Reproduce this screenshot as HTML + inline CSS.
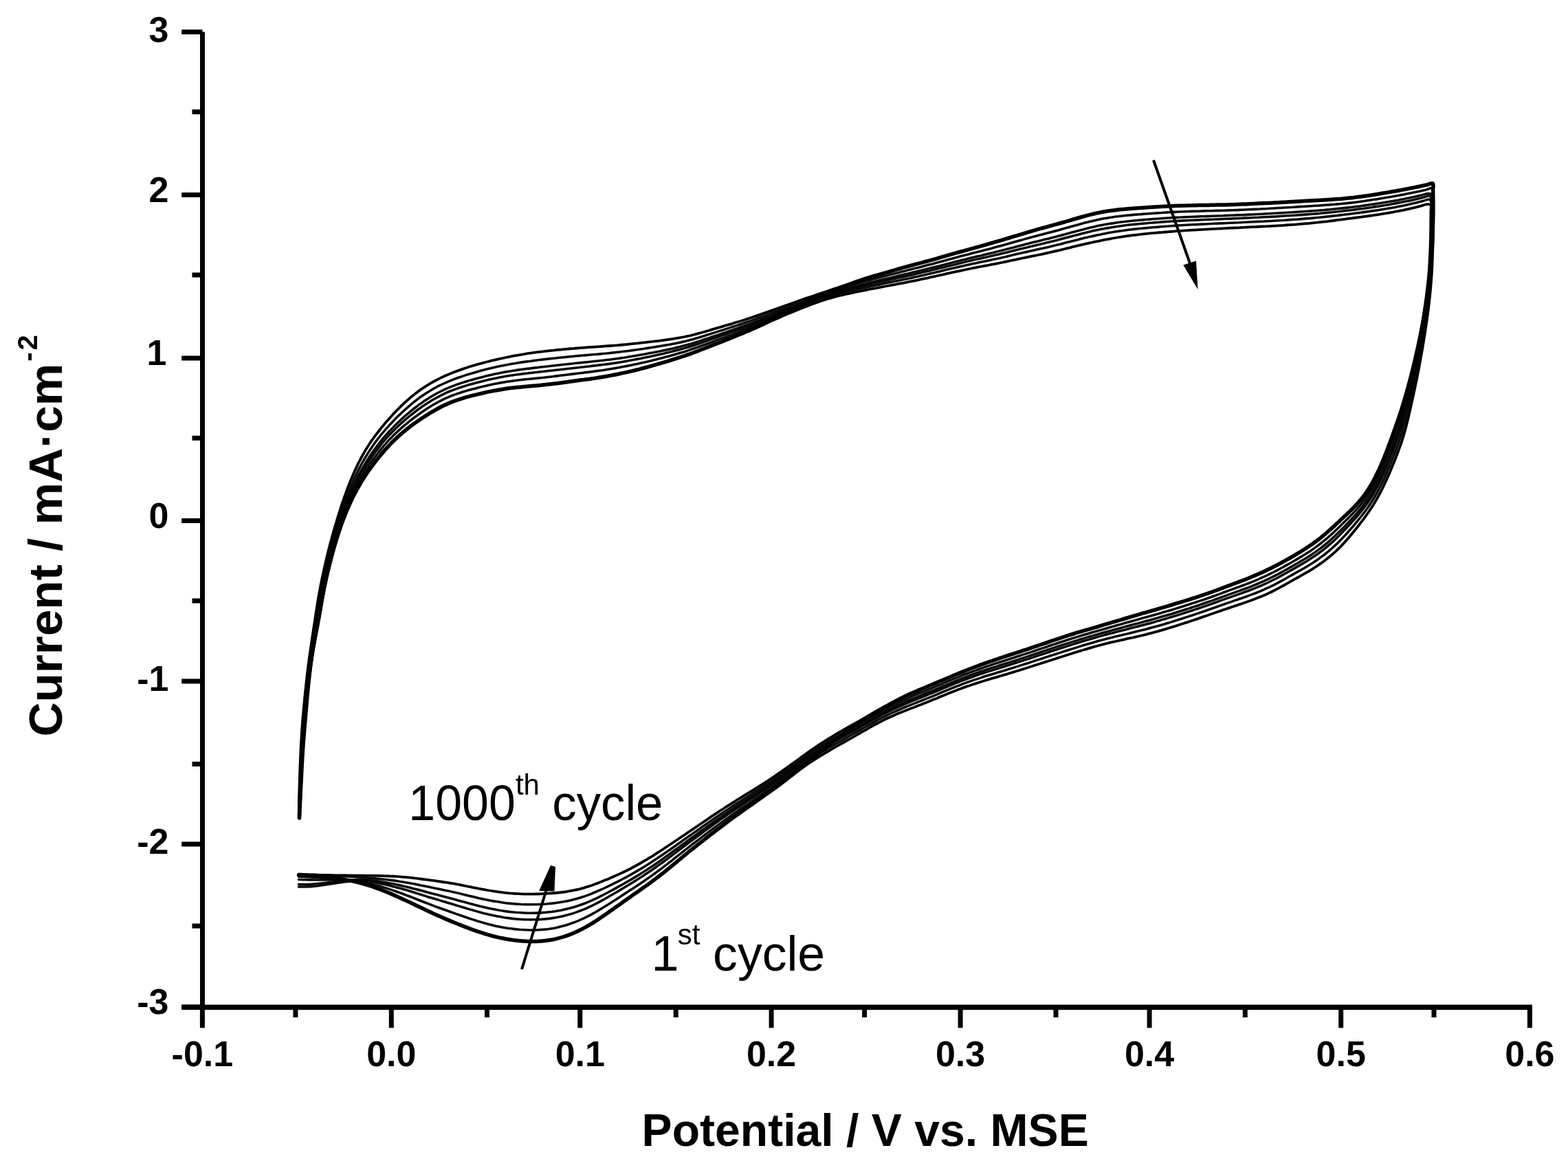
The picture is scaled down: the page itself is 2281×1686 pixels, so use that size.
<!DOCTYPE html>
<html><head><meta charset="utf-8"><title>CV curves</title>
<style>html,body{margin:0;padding:0;background:#fff;}svg{display:block;}</style>
</head><body>
<svg width="2281" height="1686" viewBox="0 0 2281 1686"><rect width="2281" height="1686" fill="#fff"/><g fill="none" stroke="#000" stroke-linejoin="round" stroke-linecap="round"><path d="M434.7,1190.0C434.7,1188.5 434.8,1184.0 434.8,1181.0C434.8,1178.0 434.8,1175.0 434.9,1172.0C434.9,1169.0 435.0,1165.9 435.0,1162.9C435.1,1159.9 435.2,1156.9 435.2,1153.9C435.3,1150.9 435.4,1147.9 435.5,1144.9C435.6,1141.9 435.7,1138.9 435.8,1135.9C435.9,1132.9 436.0,1129.9 436.1,1126.9C436.2,1123.9 436.3,1120.9 436.4,1117.9C436.5,1114.8 436.6,1111.8 436.8,1108.8C436.9,1105.8 437.0,1102.8 437.1,1099.8C437.2,1096.8 437.4,1093.8 437.5,1090.8C437.6,1087.8 437.8,1084.8 437.9,1081.8C438.1,1078.8 438.3,1075.8 438.5,1072.8C438.6,1069.8 438.8,1066.8 439.0,1063.8C439.2,1060.8 439.5,1057.8 439.7,1054.8C439.9,1051.8 440.1,1048.8 440.4,1045.8C440.6,1042.8 440.9,1039.8 441.2,1036.8C441.4,1033.8 441.7,1030.8 442.0,1027.8C442.3,1024.8 442.6,1021.8 442.9,1018.8C443.1,1015.9 443.4,1012.9 443.7,1009.9C444.0,1006.9 444.3,1003.9 444.7,1000.9C445.0,997.9 445.3,994.9 445.6,991.9C445.9,988.9 446.3,985.9 446.6,983.0C447.0,980.0 447.3,977.0 447.7,974.0C448.1,971.0 448.4,968.0 448.8,965.1C449.2,962.1 449.6,959.1 450.0,956.1C450.4,953.1 450.9,950.2 451.3,947.2C451.7,944.2 452.2,941.2 452.6,938.3C453.0,935.3 453.5,932.3 453.9,929.3C454.4,926.4 454.8,923.4 455.3,920.4C455.7,917.4 456.2,914.5 456.6,911.5C457.1,908.5 457.5,905.5 458.0,902.6C458.4,899.6 458.9,896.6 459.3,893.6C459.8,890.7 460.2,887.7 460.7,884.7C461.2,881.8 461.7,878.8 462.1,875.8C462.6,872.9 463.1,869.9 463.6,866.9C464.2,864.0 464.7,861.0 465.2,858.1C465.8,855.1 466.3,852.1 466.9,849.2C467.5,846.3 468.1,843.3 468.7,840.4C469.4,837.4 470.0,834.5 470.6,831.5C471.3,828.6 471.9,825.7 472.6,822.7C473.3,819.8 473.9,816.9 474.6,814.0C475.3,811.0 476.0,808.1 476.7,805.2C477.4,802.3 478.1,799.4 478.9,796.4C479.6,793.5 480.4,790.6 481.2,787.7C482.0,784.8 482.8,781.9 483.6,779.0C484.4,776.1 485.2,773.2 486.0,770.4C486.9,767.5 487.7,764.6 488.6,761.7C489.5,758.8 490.3,755.9 491.2,753.1C492.1,750.2 493.0,747.3 493.9,744.5C494.8,741.6 495.7,738.7 496.6,735.9C497.6,733.0 498.5,730.2 499.5,727.3C500.5,724.5 501.5,721.7 502.5,718.8C503.5,716.0 504.6,713.2 505.6,710.4C506.7,707.6 507.8,704.8 508.9,702.0C510.0,699.2 511.2,696.4 512.3,693.7C513.5,690.9 514.7,688.2 515.9,685.4C517.2,682.7 518.4,680.0 519.7,677.3C521.0,674.6 522.4,671.9 523.8,669.2C525.1,666.6 526.5,663.9 528.0,661.3C529.5,658.7 531.0,656.1 532.5,653.5C534.1,651.0 535.7,648.4 537.3,645.9C538.9,643.4 540.6,641.0 542.4,638.5C544.1,636.1 545.9,633.7 547.7,631.3C549.5,628.9 551.4,626.5 553.3,624.2C555.1,621.9 557.1,619.5 559.0,617.2C560.9,614.9 562.9,612.7 564.9,610.4C566.9,608.2 568.9,605.9 570.9,603.7C572.9,601.5 575.0,599.3 577.1,597.2C579.2,595.0 581.3,592.9 583.4,590.8C585.6,588.7 587.8,586.6 590.0,584.6C592.2,582.6 594.4,580.6 596.7,578.7C599.0,576.7 601.3,574.8 603.7,573.0C606.0,571.2 608.4,569.4 610.8,567.6C613.3,565.9 615.7,564.2 618.2,562.6C620.8,560.9 623.3,559.4 625.9,557.8C628.5,556.3 631.1,554.9 633.7,553.5C636.3,552.1 639.0,550.7 641.7,549.4C644.4,548.1 647.2,546.9 649.9,545.7C652.6,544.5 655.4,543.4 658.2,542.3C661.0,541.2 663.8,540.1 666.6,539.1C669.4,538.1 672.3,537.1 675.1,536.1C678.0,535.2 680.8,534.2 683.7,533.3C686.6,532.4 689.4,531.6 692.3,530.7C695.2,529.9 698.1,529.1 701.0,528.3C703.9,527.5 706.8,526.7 709.7,526.0C712.6,525.3 715.6,524.5 718.5,523.9C721.4,523.2 724.3,522.5 727.3,521.8C730.2,521.2 733.1,520.6 736.1,520.0C739.0,519.4 742.0,518.8 744.9,518.2C747.9,517.6 750.8,517.1 753.8,516.6C756.8,516.0 759.7,515.5 762.7,515.1C765.6,514.6 768.6,514.1 771.6,513.7C774.6,513.2 777.5,512.8 780.5,512.4C783.5,512.0 786.5,511.7 789.5,511.3C792.4,510.9 795.4,510.6 798.4,510.3C801.4,510.0 804.4,509.6 807.4,509.3C810.4,509.0 813.4,508.7 816.4,508.5C819.4,508.2 822.4,507.9 825.4,507.6C828.3,507.4 831.3,507.1 834.3,506.9C837.3,506.6 840.3,506.4 843.3,506.1C846.3,505.9 849.3,505.7 852.3,505.5C855.3,505.3 858.3,505.1 861.3,504.9C864.3,504.7 867.3,504.5 870.3,504.3C873.3,504.1 876.3,503.9 879.3,503.7C882.3,503.5 885.3,503.3 888.3,503.0C891.3,502.8 894.3,502.6 897.3,502.3C900.3,502.1 903.3,501.8 906.3,501.5C909.3,501.2 912.3,500.9 915.3,500.6C918.3,500.3 921.3,500.0 924.3,499.7C927.2,499.4 930.2,499.1 933.2,498.7C936.2,498.4 939.2,498.1 942.2,497.7C945.2,497.4 948.2,497.0 951.1,496.7C954.1,496.3 957.1,495.9 960.1,495.6C963.1,495.2 966.1,494.8 969.0,494.4C972.0,494.0 975.0,493.6 978.0,493.1C980.9,492.7 983.9,492.2 986.8,491.7C989.8,491.2 992.7,490.6 995.7,490.0C998.6,489.4 1001.5,488.7 1004.5,488.1C1007.4,487.4 1010.3,486.6 1013.2,485.9C1016.1,485.1 1019.0,484.3 1021.9,483.5C1024.8,482.7 1027.6,481.8 1030.5,481.0C1033.4,480.2 1036.3,479.3 1039.2,478.4C1042.1,477.6 1044.9,476.7 1047.8,475.9C1050.7,475.0 1053.6,474.2 1056.5,473.3C1059.4,472.5 1062.3,471.6 1065.1,470.8C1068.0,469.9 1070.9,469.0 1073.8,468.2C1076.6,467.3 1079.5,466.4 1082.4,465.5C1085.3,464.6 1088.1,463.7 1091.0,462.8C1093.8,461.8 1096.7,460.9 1099.5,459.9C1102.4,458.9 1105.2,457.9 1108.0,456.9C1110.9,455.9 1113.7,454.9 1116.5,453.9C1119.3,452.9 1122.2,451.8 1125.0,450.8C1127.8,449.8 1130.6,448.8 1133.5,447.7C1136.3,446.7 1139.1,445.7 1142.0,444.7C1144.8,443.7 1147.6,442.7 1150.5,441.7C1153.3,440.7 1156.1,439.7 1159.0,438.7C1161.8,437.8 1164.7,436.8 1167.5,435.8C1170.3,434.8 1173.2,433.8 1176.0,432.9C1178.9,431.9 1181.7,430.9 1184.6,430.0C1187.4,429.0 1190.3,428.0 1193.1,427.1C1196.0,426.1 1198.8,425.2 1201.7,424.2C1204.5,423.2 1207.4,422.3 1210.2,421.3C1213.1,420.4 1215.9,419.4 1218.8,418.5C1221.6,417.5 1224.5,416.6 1227.3,415.6C1230.2,414.7 1233.0,413.7 1235.9,412.8C1238.7,411.8 1241.6,410.9 1244.4,409.9C1247.3,409.0 1250.2,408.1 1253.0,407.1C1255.9,406.2 1258.7,405.3 1261.6,404.4C1264.5,403.5 1267.4,402.7 1270.2,401.8C1273.1,401.0 1276.0,400.1 1278.9,399.3C1281.8,398.4 1284.7,397.6 1287.6,396.8C1290.5,396.0 1293.4,395.2 1296.3,394.3C1299.1,393.5 1302.0,392.7 1304.9,391.9C1307.8,391.1 1310.7,390.3 1313.6,389.5C1316.5,388.7 1319.4,387.9 1322.3,387.1C1325.2,386.3 1328.1,385.5 1331.0,384.7C1333.9,383.9 1336.8,383.2 1339.7,382.4C1342.6,381.6 1345.5,380.8 1348.4,380.1C1351.3,379.3 1354.2,378.5 1357.1,377.7C1360.0,376.9 1362.9,376.1 1365.8,375.3C1368.7,374.4 1371.6,373.6 1374.5,372.8C1377.4,371.9 1380.3,371.1 1383.1,370.3C1386.0,369.4 1388.9,368.6 1391.8,367.8C1394.7,366.9 1397.6,366.1 1400.5,365.3C1403.4,364.5 1406.3,363.7 1409.2,362.9C1412.1,362.1 1415.0,361.3 1417.9,360.5C1420.8,359.7 1423.7,358.9 1426.6,358.1C1429.5,357.3 1432.4,356.5 1435.3,355.7C1438.2,354.9 1441.1,354.0 1443.9,353.2C1446.8,352.4 1449.7,351.5 1452.6,350.7C1455.5,349.8 1458.4,349.0 1461.3,348.1C1464.1,347.3 1467.0,346.4 1469.9,345.5C1472.8,344.6 1475.6,343.8 1478.5,342.9C1481.4,342.0 1484.3,341.2 1487.2,340.3C1490.0,339.4 1492.9,338.6 1495.8,337.7C1498.7,336.9 1501.6,336.0 1504.5,335.2C1507.4,334.4 1510.3,333.6 1513.2,332.7C1516.0,331.9 1518.9,331.1 1521.8,330.3C1524.7,329.5 1527.6,328.8 1530.5,328.0C1533.4,327.2 1536.3,326.4 1539.2,325.5C1542.1,324.7 1545.0,323.9 1547.9,323.1C1550.8,322.3 1553.7,321.4 1556.6,320.6C1559.4,319.7 1562.3,318.9 1565.2,318.0C1568.1,317.2 1571.0,316.3 1573.9,315.5C1576.7,314.7 1579.6,313.9 1582.5,313.2C1585.4,312.4 1588.3,311.7 1591.3,311.0C1594.2,310.3 1597.1,309.7 1600.1,309.1C1603.0,308.6 1605.9,308.0 1608.9,307.5C1611.9,307.1 1614.8,306.6 1617.8,306.2C1620.8,305.8 1623.8,305.5 1626.7,305.2C1629.7,304.8 1632.7,304.5 1635.7,304.3C1638.7,304.0 1641.7,303.7 1644.7,303.5C1647.7,303.3 1650.7,303.1 1653.7,302.8C1656.7,302.6 1659.7,302.4 1662.7,302.2C1665.7,302.0 1668.7,301.8 1671.7,301.6C1674.7,301.4 1677.7,301.2 1680.7,301.0C1683.7,300.8 1686.7,300.6 1689.7,300.4C1692.7,300.3 1695.7,300.1 1698.7,299.9C1701.7,299.8 1704.7,299.7 1707.7,299.5C1710.7,299.4 1713.7,299.3 1716.7,299.2C1719.7,299.1 1722.7,299.1 1725.7,299.0C1728.7,298.9 1731.7,298.8 1734.8,298.8C1737.8,298.7 1740.8,298.7 1743.8,298.6C1746.8,298.6 1749.8,298.5 1752.8,298.5C1755.8,298.4 1758.8,298.4 1761.8,298.3C1764.8,298.3 1767.8,298.2 1770.8,298.1C1773.8,298.1 1776.9,298.0 1779.9,297.9C1782.9,297.9 1785.9,297.8 1788.9,297.7C1791.9,297.6 1794.9,297.5 1797.9,297.4C1800.9,297.3 1803.9,297.2 1806.9,297.1C1809.9,297.0 1812.9,296.8 1815.9,296.7C1818.9,296.6 1821.9,296.4 1824.9,296.3C1827.9,296.1 1830.9,296.0 1833.9,295.8C1836.9,295.7 1840.0,295.5 1843.0,295.4C1846.0,295.2 1849.0,295.0 1852.0,294.9C1855.0,294.7 1858.0,294.5 1861.0,294.4C1864.0,294.2 1867.0,294.1 1870.0,293.9C1873.0,293.7 1876.0,293.6 1879.0,293.4C1882.0,293.2 1885.0,293.1 1888.0,292.9C1891.0,292.7 1894.0,292.6 1897.0,292.4C1900.0,292.3 1903.0,292.1 1906.0,291.9C1909.0,291.8 1912.0,291.6 1915.0,291.5C1918.0,291.3 1921.0,291.1 1924.0,291.0C1927.0,290.8 1930.0,290.6 1933.0,290.4C1936.0,290.2 1939.0,290.0 1942.0,289.8C1945.0,289.6 1948.0,289.4 1951.0,289.2C1954.0,288.9 1957.0,288.6 1960.0,288.3C1963.0,288.0 1966.0,287.7 1969.0,287.4C1972.0,287.0 1974.9,286.7 1977.9,286.3C1980.9,285.9 1983.9,285.5 1986.9,285.0C1989.8,284.6 1992.8,284.2 1995.8,283.7C1998.7,283.3 2001.7,282.8 2004.7,282.3C2007.7,281.8 2010.6,281.3 2013.6,280.9C2016.5,280.4 2019.5,279.8 2022.5,279.3C2025.4,278.8 2028.4,278.3 2031.4,277.8C2034.3,277.2 2037.3,276.7 2040.2,276.1C2043.2,275.6 2046.1,275.0 2049.1,274.4C2052.0,273.8 2055.0,273.2 2057.9,272.6C2060.9,272.0 2063.8,271.4 2066.8,270.8C2069.7,270.2 2072.6,269.6 2075.6,268.9C2078.5,268.3 2082.9,265.8 2084.4,267.0C2085.9,268.2 2084.6,273.0 2084.6,276.0C2084.7,279.0 2084.8,282.0 2084.9,285.0C2084.9,288.0 2085.0,291.1 2085.0,294.1C2085.1,297.1 2085.1,300.1 2085.1,303.1C2085.2,306.1 2085.2,309.1 2085.2,312.1C2085.2,315.1 2085.1,318.1 2085.1,321.1C2085.1,324.1 2085.1,327.1 2085.0,330.1C2085.0,333.2 2084.9,336.2 2084.9,339.2C2084.8,342.2 2084.8,345.2 2084.7,348.2C2084.6,351.2 2084.6,354.2 2084.5,357.2C2084.4,360.2 2084.3,363.2 2084.2,366.2C2084.1,369.2 2084.0,372.2 2083.9,375.2C2083.8,378.2 2083.7,381.3 2083.5,384.3C2083.4,387.3 2083.2,390.3 2083.1,393.3C2082.9,396.3 2082.7,399.3 2082.5,402.3C2082.3,405.3 2082.1,408.3 2081.8,411.3C2081.6,414.3 2081.4,417.3 2081.1,420.2C2080.8,423.2 2080.5,426.2 2080.2,429.2C2079.9,432.2 2079.6,435.2 2079.2,438.2C2078.9,441.2 2078.6,444.2 2078.2,447.2C2077.8,450.1 2077.5,453.1 2077.1,456.1C2076.7,459.1 2076.3,462.1 2075.8,465.0C2075.4,468.0 2075.0,471.0 2074.5,474.0C2074.1,476.9 2073.6,479.9 2073.2,482.9C2072.7,485.9 2072.2,488.8 2071.7,491.8C2071.3,494.8 2070.8,497.7 2070.3,500.7C2069.8,503.7 2069.3,506.6 2068.8,509.6C2068.3,512.6 2067.8,515.5 2067.2,518.5C2066.7,521.4 2066.2,524.4 2065.6,527.4C2065.1,530.3 2064.5,533.3 2064.0,536.2C2063.4,539.2 2062.8,542.1 2062.2,545.1C2061.7,548.0 2061.1,551.0 2060.5,553.9C2059.8,556.9 2059.2,559.8 2058.6,562.8C2058.0,565.7 2057.4,568.6 2056.7,571.6C2056.1,574.5 2055.5,577.5 2054.8,580.4C2054.2,583.3 2053.5,586.3 2052.9,589.2C2052.2,592.1 2051.6,595.1 2050.9,598.0C2050.2,600.9 2049.5,603.9 2048.9,606.8C2048.2,609.7 2047.5,612.6 2046.7,615.6C2046.0,618.5 2045.3,621.4 2044.5,624.3C2043.7,627.2 2042.9,630.1 2042.0,632.9C2041.2,635.8 2040.3,638.7 2039.4,641.5C2038.4,644.4 2037.5,647.2 2036.4,650.0C2035.4,652.9 2034.4,655.7 2033.3,658.5C2032.3,661.3 2031.2,664.1 2030.1,666.9C2029.0,669.7 2027.9,672.5 2026.7,675.3C2025.6,678.0 2024.4,680.8 2023.3,683.6C2022.1,686.4 2020.9,689.1 2019.7,691.9C2018.5,694.6 2017.3,697.4 2016.0,700.1C2014.8,702.8 2013.5,705.5 2012.2,708.2C2010.9,710.9 2009.5,713.6 2008.1,716.3C2006.7,718.9 2005.3,721.6 2003.8,724.2C2002.4,726.8 2000.8,729.4 1999.3,731.9C1997.7,734.5 1996.1,737.0 1994.5,739.5C1992.9,742.0 1991.2,744.5 1989.4,747.0C1987.7,749.4 1986.0,751.8 1984.2,754.3C1982.4,756.7 1980.6,759.0 1978.7,761.4C1976.9,763.8 1975.0,766.2 1973.2,768.5C1971.3,770.8 1969.4,773.2 1967.5,775.5C1965.6,777.8 1963.7,780.1 1961.8,782.4C1959.8,784.7 1957.9,786.9 1955.8,789.1C1953.8,791.3 1951.8,793.5 1949.7,795.7C1947.6,797.8 1945.4,799.9 1943.3,801.9C1941.1,803.9 1938.8,805.9 1936.6,807.8C1934.3,809.8 1932.0,811.7 1929.6,813.5C1927.2,815.4 1924.9,817.1 1922.4,818.9C1920.0,820.6 1917.5,822.3 1915.0,824.0C1912.5,825.6 1910.0,827.2 1907.5,828.8C1904.9,830.4 1902.3,831.9 1899.7,833.4C1897.2,834.9 1894.5,836.3 1891.9,837.8C1889.3,839.3 1886.7,840.7 1884.1,842.2C1881.5,843.7 1878.9,845.1 1876.2,846.6C1873.6,848.1 1871.0,849.5 1868.4,851.0C1865.8,852.4 1863.2,853.9 1860.6,855.3C1857.9,856.7 1855.3,858.1 1852.6,859.5C1850.0,860.8 1847.3,862.1 1844.6,863.4C1841.9,864.6 1839.1,865.8 1836.4,867.0C1833.6,868.2 1830.9,869.3 1828.1,870.3C1825.3,871.4 1822.5,872.5 1819.6,873.5C1816.8,874.5 1814.0,875.5 1811.2,876.5C1808.3,877.5 1805.5,878.4 1802.6,879.4C1799.8,880.4 1796.9,881.3 1794.1,882.3C1791.2,883.2 1788.4,884.2 1785.5,885.2C1782.7,886.1 1779.8,887.1 1777.0,888.1C1774.1,889.1 1771.3,890.0 1768.5,891.0C1765.6,892.0 1762.8,893.0 1759.9,894.0C1757.1,895.0 1754.3,896.0 1751.4,896.9C1748.6,897.9 1745.7,898.9 1742.9,899.9C1740.0,900.8 1737.2,901.8 1734.3,902.8C1731.5,903.7 1728.6,904.7 1725.8,905.6C1722.9,906.5 1720.1,907.5 1717.2,908.4C1714.3,909.3 1711.5,910.2 1708.6,911.1C1705.7,912.0 1702.8,912.9 1700.0,913.8C1697.1,914.7 1694.2,915.5 1691.3,916.4C1688.4,917.2 1685.6,918.0 1682.7,918.8C1679.8,919.7 1676.9,920.4 1674.0,921.2C1671.1,922.0 1668.1,922.7 1665.2,923.4C1662.3,924.1 1659.4,924.8 1656.5,925.5C1653.5,926.2 1650.6,926.8 1647.7,927.5C1644.7,928.1 1641.8,928.8 1638.8,929.4C1635.9,930.1 1633.0,930.7 1630.0,931.4C1627.1,932.0 1624.2,932.7 1621.2,933.4C1618.3,934.0 1615.4,934.7 1612.5,935.4C1609.5,936.1 1606.6,936.9 1603.7,937.6C1600.8,938.4 1597.9,939.2 1595.0,940.0C1592.1,940.8 1589.2,941.6 1586.3,942.4C1583.5,943.3 1580.6,944.1 1577.7,945.0C1574.8,945.9 1572.0,946.7 1569.1,947.6C1566.2,948.5 1563.3,949.4 1560.5,950.3C1557.6,951.2 1554.7,952.1 1551.9,953.0C1549.0,953.9 1546.1,954.8 1543.3,955.7C1540.4,956.6 1537.5,957.6 1534.7,958.5C1531.8,959.4 1528.9,960.3 1526.1,961.2C1523.2,962.1 1520.3,963.1 1517.5,964.0C1514.6,964.9 1511.7,965.8 1508.9,966.7C1506.0,967.7 1503.2,968.6 1500.3,969.5C1497.4,970.4 1494.6,971.3 1491.7,972.3C1488.8,973.2 1486.0,974.1 1483.1,975.0C1480.2,975.9 1477.3,976.8 1474.5,977.6C1471.6,978.5 1468.7,979.4 1465.8,980.3C1463.0,981.1 1460.1,982.0 1457.2,982.8C1454.3,983.7 1451.4,984.5 1448.5,985.4C1445.7,986.2 1442.8,987.1 1439.9,987.9C1437.0,988.8 1434.1,989.6 1431.2,990.5C1428.4,991.4 1425.5,992.3 1422.6,993.2C1419.8,994.1 1416.9,995.1 1414.1,996.0C1411.2,997.0 1408.4,997.9 1405.5,998.9C1402.7,999.9 1399.9,1000.9 1397.1,1002.0C1394.2,1003.0 1391.4,1004.1 1388.6,1005.2C1385.8,1006.3 1383.0,1007.4 1380.2,1008.5C1377.5,1009.6 1374.7,1010.8 1371.9,1011.9C1369.1,1013.1 1366.3,1014.2 1363.6,1015.4C1360.8,1016.5 1358.0,1017.7 1355.2,1018.8C1352.4,1019.9 1349.7,1021.1 1346.9,1022.2C1344.1,1023.3 1341.3,1024.4 1338.5,1025.5C1335.7,1026.5 1332.9,1027.6 1330.1,1028.7C1327.3,1029.8 1324.4,1030.8 1321.6,1031.9C1318.8,1033.0 1316.0,1034.1 1313.3,1035.2C1310.5,1036.3 1307.7,1037.4 1304.9,1038.6C1302.2,1039.8 1299.4,1041.0 1296.7,1042.2C1293.9,1043.4 1291.2,1044.7 1288.5,1046.0C1285.8,1047.3 1283.2,1048.7 1280.5,1050.1C1277.8,1051.5 1275.2,1052.9 1272.5,1054.3C1269.9,1055.7 1267.3,1057.2 1264.7,1058.7C1262.0,1060.2 1259.4,1061.7 1256.8,1063.1C1254.2,1064.6 1251.6,1066.1 1249.0,1067.6C1246.4,1069.1 1243.8,1070.6 1241.1,1072.1C1238.5,1073.6 1235.9,1075.0 1233.3,1076.5C1230.7,1078.0 1228.1,1079.5 1225.5,1081.0C1222.8,1082.5 1220.2,1083.9 1217.6,1085.4C1215.0,1086.9 1212.4,1088.4 1209.8,1089.9C1207.2,1091.5 1204.6,1093.0 1202.0,1094.5C1199.4,1096.0 1196.9,1097.6 1194.3,1099.2C1191.7,1100.7 1189.2,1102.3 1186.7,1103.9C1184.1,1105.5 1181.6,1107.2 1179.1,1108.8C1176.6,1110.5 1174.1,1112.2 1171.7,1113.9C1169.2,1115.6 1166.8,1117.4 1164.3,1119.1C1161.9,1120.9 1159.5,1122.7 1157.0,1124.5C1154.6,1126.2 1152.2,1128.0 1149.8,1129.8C1147.4,1131.6 1145.0,1133.4 1142.6,1135.2C1140.2,1137.0 1137.7,1138.8 1135.3,1140.6C1132.9,1142.3 1130.5,1144.1 1128.0,1145.9C1125.6,1147.7 1123.1,1149.4 1120.7,1151.2C1118.3,1152.9 1115.8,1154.7 1113.4,1156.4C1110.9,1158.1 1108.4,1159.9 1106.0,1161.6C1103.5,1163.3 1101.1,1165.1 1098.6,1166.8C1096.1,1168.5 1093.7,1170.3 1091.2,1172.0C1088.8,1173.7 1086.3,1175.5 1083.8,1177.2C1081.4,1178.9 1078.9,1180.7 1076.5,1182.4C1074.0,1184.1 1071.6,1185.9 1069.2,1187.7C1066.7,1189.4 1064.3,1191.2 1061.9,1193.0C1059.4,1194.7 1057.0,1196.5 1054.6,1198.3C1052.2,1200.1 1049.8,1202.0 1047.4,1203.8C1045.0,1205.6 1042.6,1207.4 1040.3,1209.3C1037.9,1211.1 1035.5,1212.9 1033.1,1214.8C1030.7,1216.6 1028.4,1218.4 1026.0,1220.3C1023.6,1222.1 1021.2,1224.0 1018.9,1225.8C1016.5,1227.7 1014.1,1229.5 1011.8,1231.4C1009.4,1233.3 1007.1,1235.2 1004.7,1237.0C1002.4,1238.9 1000.1,1240.8 997.7,1242.7C995.4,1244.6 993.1,1246.6 990.8,1248.5C988.5,1250.4 986.1,1252.3 983.8,1254.2C981.5,1256.2 979.2,1258.1 976.9,1260.0C974.6,1261.9 972.2,1263.8 969.9,1265.7C967.6,1267.6 965.2,1269.5 962.9,1271.3C960.5,1273.2 958.1,1275.1 955.8,1276.9C953.4,1278.7 951.0,1280.5 948.6,1282.3C946.1,1284.1 943.7,1285.8 941.3,1287.6C938.8,1289.3 936.4,1291.1 933.9,1292.8C931.4,1294.5 929.0,1296.2 926.5,1298.0C924.1,1299.7 921.6,1301.4 919.1,1303.1C916.7,1304.9 914.2,1306.6 911.8,1308.3C909.3,1310.1 906.8,1311.8 904.4,1313.6C901.9,1315.3 899.5,1317.1 897.1,1318.8C894.6,1320.6 892.2,1322.3 889.7,1324.0C887.3,1325.8 884.8,1327.5 882.3,1329.2C879.9,1331.0 877.4,1332.7 874.9,1334.3C872.4,1336.0 869.9,1337.7 867.4,1339.3C864.9,1340.9 862.3,1342.5 859.8,1344.1C857.2,1345.6 854.6,1347.1 852.0,1348.6C849.4,1350.0 846.7,1351.4 844.1,1352.7C841.4,1354.1 838.7,1355.3 836.0,1356.5C833.2,1357.7 830.5,1358.9 827.7,1359.9C824.9,1361.0 822.1,1362.0 819.2,1362.9C816.4,1363.8 813.5,1364.6 810.7,1365.3C807.8,1366.1 804.9,1366.7 802.0,1367.2C799.1,1367.8 796.1,1368.2 793.2,1368.5C790.2,1368.9 787.3,1369.1 784.3,1369.3C781.3,1369.5 778.3,1369.5 775.4,1369.5C772.4,1369.5 769.4,1369.5 766.4,1369.3C763.4,1369.2 760.4,1369.0 757.4,1368.8C754.4,1368.5 751.5,1368.2 748.5,1367.8C745.5,1367.4 742.6,1367.0 739.6,1366.5C736.6,1366.0 733.7,1365.5 730.8,1364.9C727.8,1364.3 724.9,1363.7 722.0,1363.0C719.1,1362.3 716.2,1361.5 713.3,1360.7C710.4,1359.9 707.5,1359.0 704.7,1358.1C701.8,1357.3 698.9,1356.3 696.1,1355.4C693.2,1354.4 690.4,1353.4 687.6,1352.4C684.8,1351.3 682.0,1350.3 679.1,1349.2C676.3,1348.2 673.5,1347.1 670.7,1346.0C667.9,1344.9 665.1,1343.8 662.4,1342.6C659.6,1341.5 656.8,1340.4 654.0,1339.2C651.2,1338.0 648.5,1336.9 645.7,1335.7C642.9,1334.5 640.2,1333.3 637.4,1332.1C634.7,1330.8 632.0,1329.6 629.2,1328.3C626.5,1327.1 623.8,1325.8 621.1,1324.5C618.3,1323.3 615.6,1322.0 612.9,1320.7C610.2,1319.4 607.5,1318.0 604.8,1316.7C602.1,1315.4 599.4,1314.1 596.6,1312.9C593.9,1311.6 591.2,1310.3 588.5,1309.0C585.8,1307.7 583.0,1306.5 580.3,1305.3C577.5,1304.0 574.8,1302.8 572.0,1301.6C569.3,1300.4 566.5,1299.3 563.7,1298.1C561.0,1297.0 558.2,1295.8 555.4,1294.8C552.6,1293.7 549.8,1292.6 547.0,1291.6C544.2,1290.6 541.3,1289.6 538.5,1288.7C535.6,1287.8 532.7,1287.0 529.9,1286.2C527.0,1285.4 524.1,1284.6 521.1,1283.9C518.2,1283.3 515.3,1282.6 512.3,1282.1C509.4,1281.5 506.4,1281.0 503.5,1280.6C500.5,1280.1 497.5,1279.7 494.5,1279.3C491.5,1279.0 488.5,1278.7 485.6,1278.3C482.6,1278.0 479.6,1277.8 476.6,1277.5C473.6,1277.3 470.6,1277.0 467.6,1276.8C464.6,1276.6 461.5,1276.4 458.5,1276.2C455.5,1276.0 452.5,1275.9 449.5,1275.7C446.5,1275.5 443.0,1275.4 440.5,1275.3C438.0,1275.1 435.5,1275.0 434.5,1275.0" stroke-width="3.8" stroke-opacity="1.0"/><path d="M435.1,1190.0C435.1,1188.5 435.2,1184.0 435.2,1181.0C435.3,1178.0 435.4,1175.0 435.4,1172.0C435.5,1169.0 435.6,1166.0 435.6,1163.0C435.7,1160.0 435.8,1157.0 435.9,1154.0C436.0,1151.0 436.1,1148.0 436.2,1145.0C436.3,1141.9 436.4,1138.9 436.5,1135.9C436.6,1132.9 436.7,1129.9 436.9,1126.9C437.0,1123.9 437.1,1120.9 437.2,1117.9C437.4,1114.9 437.5,1111.9 437.6,1108.9C437.7,1105.9 437.9,1102.9 438.0,1099.9C438.1,1096.9 438.3,1093.9 438.4,1090.9C438.6,1087.9 438.7,1084.9 438.9,1081.9C439.1,1078.9 439.3,1075.9 439.5,1072.9C439.7,1069.9 439.9,1066.9 440.1,1063.9C440.3,1060.9 440.5,1057.9 440.8,1055.0C441.0,1052.0 441.2,1049.0 441.5,1046.0C441.7,1043.0 442.0,1040.0 442.3,1037.0C442.5,1034.0 442.8,1031.0 443.1,1028.0C443.3,1025.0 443.6,1022.0 443.9,1019.0C444.2,1016.0 444.5,1013.1 444.8,1010.1C445.1,1007.1 445.4,1004.1 445.7,1001.1C446.0,998.1 446.3,995.1 446.6,992.1C446.9,989.2 447.3,986.2 447.6,983.2C447.9,980.2 448.3,977.2 448.7,974.2C449.0,971.3 449.4,968.3 449.8,965.3C450.2,962.3 450.6,959.3 451.0,956.4C451.5,953.4 451.9,950.4 452.3,947.5C452.8,944.5 453.2,941.5 453.7,938.5C454.2,935.6 454.6,932.6 455.1,929.6C455.6,926.7 456.0,923.7 456.5,920.7C457.0,917.8 457.5,914.8 458.0,911.8C458.4,908.9 458.9,905.9 459.4,902.9C459.8,900.0 460.3,897.0 460.8,894.0C461.3,891.1 461.7,888.1 462.2,885.1C462.7,882.2 463.2,879.2 463.6,876.2C464.1,873.3 464.6,870.3 465.2,867.4C465.7,864.4 466.2,861.5 466.7,858.5C467.3,855.5 467.9,852.6 468.5,849.7C469.0,846.7 469.7,843.8 470.3,840.8C470.9,837.9 471.6,835.0 472.2,832.0C472.9,829.1 473.5,826.2 474.2,823.2C474.9,820.3 475.6,817.4 476.3,814.5C477.0,811.6 477.7,808.6 478.4,805.7C479.1,802.8 479.9,799.9 480.6,797.0C481.4,794.1 482.2,791.2 483.0,788.3C483.8,785.4 484.6,782.5 485.4,779.6C486.2,776.7 487.1,773.9 488.0,771.0C488.8,768.1 489.7,765.2 490.6,762.4C491.5,759.5 492.4,756.6 493.3,753.8C494.2,750.9 495.2,748.1 496.1,745.2C497.1,742.4 498.1,739.5 499.1,736.7C500.1,733.9 501.1,731.1 502.1,728.3C503.2,725.4 504.3,722.6 505.3,719.8C506.4,717.1 507.6,714.3 508.7,711.5C509.9,708.7 511.0,706.0 512.2,703.2C513.5,700.5 514.7,697.7 515.9,695.0C517.2,692.3 518.5,689.6 519.8,686.9C521.2,684.2 522.5,681.6 523.9,678.9C525.3,676.3 526.8,673.6 528.2,671.0C529.7,668.4 531.2,665.8 532.8,663.3C534.3,660.7 535.9,658.2 537.5,655.7C539.2,653.1 540.8,650.7 542.5,648.2C544.3,645.8 546.0,643.3 547.8,640.9C549.6,638.5 551.5,636.2 553.3,633.8C555.2,631.5 557.1,629.2 559.1,626.9C561.0,624.7 563.0,622.4 565.0,620.2C567.0,617.9 569.1,615.7 571.1,613.6C573.2,611.4 575.3,609.3 577.4,607.1C579.5,605.0 581.7,602.9 583.9,600.9C586.0,598.8 588.2,596.8 590.5,594.8C592.7,592.8 595.0,590.8 597.3,588.9C599.6,587.0 601.9,585.1 604.2,583.2C606.6,581.4 609.0,579.6 611.4,577.8C613.8,576.1 616.3,574.4 618.8,572.7C621.3,571.1 623.8,569.5 626.4,568.0C628.9,566.4 631.5,565.0 634.2,563.5C636.8,562.1 639.5,560.8 642.1,559.5C644.8,558.2 647.6,556.9 650.3,555.8C653.1,554.6 655.8,553.5 658.6,552.4C661.4,551.3 664.2,550.3 667.0,549.3C669.9,548.3 672.7,547.3 675.6,546.4C678.4,545.4 681.3,544.5 684.2,543.7C687.0,542.8 689.9,542.0 692.8,541.2C695.7,540.3 698.6,539.6 701.5,538.8C704.4,538.0 707.3,537.3 710.2,536.6C713.1,535.9 716.1,535.2 719.0,534.5C721.9,533.8 724.8,533.2 727.8,532.6C730.7,532.0 733.7,531.4 736.6,530.8C739.6,530.3 742.5,529.7 745.5,529.2C748.4,528.7 751.4,528.2 754.4,527.7C757.3,527.3 760.3,526.8 763.3,526.4C766.2,526.0 769.2,525.6 772.2,525.2C775.2,524.8 778.1,524.4 781.1,524.0C784.1,523.6 787.1,523.3 790.1,522.9C793.1,522.6 796.0,522.3 799.0,521.9C802.0,521.6 805.0,521.3 808.0,521.0C811.0,520.6 814.0,520.3 817.0,520.0C819.9,519.7 822.9,519.4 825.9,519.1C828.9,518.8 831.9,518.5 834.9,518.2C837.9,517.9 840.9,517.7 843.9,517.4C846.9,517.1 849.8,516.9 852.8,516.6C855.8,516.3 858.8,516.1 861.8,515.8C864.8,515.6 867.8,515.3 870.8,515.1C873.8,514.8 876.8,514.5 879.8,514.2C882.8,514.0 885.7,513.7 888.7,513.4C891.7,513.1 894.7,512.7 897.7,512.4C900.7,512.1 903.7,511.7 906.6,511.3C909.6,511.0 912.6,510.6 915.6,510.2C918.6,509.8 921.5,509.4 924.5,509.0C927.5,508.6 930.5,508.1 933.4,507.7C936.4,507.3 939.4,506.8 942.3,506.4C945.3,505.9 948.3,505.4 951.2,505.0C954.2,504.5 957.2,504.0 960.1,503.5C963.1,503.1 966.1,502.6 969.0,502.0C972.0,501.5 974.9,501.0 977.9,500.4C980.8,499.9 983.8,499.3 986.7,498.7C989.6,498.1 992.6,497.4 995.5,496.7C998.4,496.0 1001.3,495.3 1004.2,494.5C1007.1,493.8 1010.0,492.9 1012.9,492.1C1015.7,491.3 1018.6,490.4 1021.5,489.5C1024.4,488.7 1027.2,487.8 1030.1,486.8C1032.9,485.9 1035.8,485.0 1038.7,484.1C1041.5,483.2 1044.4,482.3 1047.3,481.4C1050.1,480.5 1053.0,479.6 1055.8,478.6C1058.7,477.7 1061.6,476.8 1064.4,475.9C1067.3,475.0 1070.1,474.0 1073.0,473.1C1075.9,472.2 1078.7,471.2 1081.6,470.3C1084.4,469.3 1087.2,468.4 1090.1,467.4C1092.9,466.4 1095.7,465.4 1098.6,464.4C1101.4,463.3 1104.2,462.3 1107.0,461.3C1109.8,460.2 1112.6,459.1 1115.5,458.1C1118.3,457.0 1121.1,455.9 1123.9,454.9C1126.7,453.8 1129.5,452.7 1132.3,451.7C1135.1,450.6 1137.9,449.5 1140.7,448.5C1143.5,447.4 1146.3,446.4 1149.2,445.4C1152.0,444.3 1154.8,443.3 1157.6,442.3C1160.5,441.2 1163.3,440.2 1166.1,439.2C1168.9,438.2 1171.8,437.2 1174.6,436.2C1177.4,435.2 1180.3,434.2 1183.1,433.2C1185.9,432.2 1188.8,431.3 1191.6,430.3C1194.5,429.3 1197.3,428.3 1200.2,427.4C1203.0,426.5 1205.9,425.5 1208.7,424.6C1211.6,423.7 1214.4,422.7 1217.3,421.8C1220.2,420.9 1223.0,420.0 1225.9,419.1C1228.8,418.3 1231.6,417.4 1234.5,416.5C1237.4,415.6 1240.3,414.7 1243.1,413.9C1246.0,413.0 1248.9,412.2 1251.8,411.3C1254.7,410.5 1257.5,409.6 1260.4,408.8C1263.3,408.0 1266.2,407.2 1269.1,406.4C1272.0,405.6 1274.9,404.8 1277.8,404.1C1280.7,403.3 1283.6,402.5 1286.5,401.8C1289.4,401.0 1292.3,400.3 1295.2,399.5C1298.2,398.8 1301.1,398.0 1304.0,397.3C1306.9,396.5 1309.8,395.8 1312.7,395.0C1315.6,394.3 1318.5,393.5 1321.4,392.8C1324.3,392.1 1327.3,391.3 1330.2,390.6C1333.1,389.8 1336.0,389.1 1338.9,388.4C1341.8,387.6 1344.7,386.9 1347.6,386.1C1350.5,385.4 1353.5,384.6 1356.4,383.9C1359.3,383.1 1362.2,382.3 1365.1,381.6C1368.0,380.8 1370.9,380.0 1373.8,379.2C1376.7,378.4 1379.6,377.6 1382.5,376.8C1385.4,376.0 1388.3,375.3 1391.2,374.5C1394.1,373.7 1397.0,372.9 1399.9,372.1C1402.8,371.4 1405.7,370.6 1408.6,369.9C1411.5,369.1 1414.4,368.4 1417.3,367.6C1420.2,366.9 1423.1,366.1 1426.0,365.4C1429.0,364.6 1431.9,363.9 1434.8,363.2C1437.7,362.4 1440.6,361.6 1443.5,360.9C1446.4,360.1 1449.3,359.3 1452.2,358.5C1455.1,357.8 1458.0,357.0 1460.9,356.2C1463.8,355.4 1466.7,354.5 1469.6,353.7C1472.5,352.9 1475.3,352.1 1478.2,351.3C1481.1,350.5 1484.0,349.7 1486.9,348.9C1489.8,348.0 1492.7,347.2 1495.6,346.5C1498.5,345.7 1501.4,344.9 1504.3,344.1C1507.2,343.3 1510.1,342.6 1513.0,341.8C1515.9,341.1 1518.8,340.3 1521.7,339.5C1524.6,338.8 1527.5,338.0 1530.5,337.2C1533.4,336.5 1536.3,335.7 1539.2,334.9C1542.1,334.1 1545.0,333.3 1547.8,332.5C1550.7,331.7 1553.6,330.9 1556.5,330.1C1559.4,329.3 1562.3,328.5 1565.2,327.7C1568.1,326.8 1571.0,326.0 1573.9,325.2C1576.8,324.5 1579.7,323.7 1582.6,323.0C1585.5,322.2 1588.4,321.5 1591.3,320.9C1594.2,320.2 1597.2,319.6 1600.1,319.0C1603.0,318.4 1606.0,317.9 1608.9,317.4C1611.9,316.9 1614.9,316.4 1617.8,316.0C1620.8,315.5 1623.8,315.1 1626.7,314.8C1629.7,314.4 1632.7,314.1 1635.7,313.7C1638.7,313.4 1641.7,313.1 1644.7,312.9C1647.6,312.6 1650.6,312.3 1653.6,312.1C1656.6,311.9 1659.6,311.6 1662.6,311.4C1665.6,311.2 1668.6,310.9 1671.6,310.7C1674.6,310.5 1677.6,310.3 1680.6,310.1C1683.6,309.9 1686.6,309.6 1689.6,309.5C1692.6,309.3 1695.6,309.1 1698.6,308.9C1701.6,308.7 1704.6,308.6 1707.6,308.4C1710.6,308.3 1713.6,308.1 1716.6,308.0C1719.6,307.9 1722.6,307.8 1725.6,307.7C1728.6,307.6 1731.6,307.5 1734.6,307.4C1737.6,307.3 1740.6,307.2 1743.6,307.2C1746.6,307.1 1749.6,307.0 1752.6,306.9C1755.6,306.8 1758.6,306.8 1761.6,306.7C1764.6,306.6 1767.6,306.5 1770.6,306.4C1773.6,306.4 1776.6,306.3 1779.6,306.2C1782.6,306.1 1785.6,306.0 1788.6,305.9C1791.6,305.8 1794.6,305.7 1797.6,305.6C1800.7,305.5 1803.7,305.3 1806.7,305.2C1809.7,305.1 1812.7,305.0 1815.7,304.8C1818.7,304.7 1821.7,304.5 1824.7,304.4C1827.7,304.3 1830.7,304.1 1833.7,304.0C1836.7,303.8 1839.7,303.6 1842.7,303.5C1845.7,303.3 1848.7,303.2 1851.7,303.0C1854.7,302.8 1857.7,302.7 1860.7,302.5C1863.7,302.3 1866.7,302.2 1869.7,302.0C1872.7,301.8 1875.7,301.6 1878.7,301.5C1881.7,301.3 1884.7,301.1 1887.7,300.9C1890.7,300.8 1893.7,300.6 1896.7,300.4C1899.7,300.2 1902.7,300.0 1905.7,299.8C1908.6,299.6 1911.6,299.5 1914.6,299.3C1917.6,299.1 1920.6,298.8 1923.6,298.6C1926.6,298.4 1929.6,298.2 1932.6,298.0C1935.6,297.8 1938.6,297.5 1941.6,297.3C1944.6,297.0 1947.6,296.8 1950.6,296.5C1953.6,296.2 1956.6,295.9 1959.5,295.6C1962.5,295.3 1965.5,294.9 1968.5,294.6C1971.5,294.2 1974.5,293.8 1977.4,293.5C1980.4,293.1 1983.4,292.7 1986.4,292.2C1989.3,291.8 1992.3,291.4 1995.3,290.9C1998.2,290.5 2001.2,290.0 2004.2,289.6C2007.1,289.1 2010.1,288.6 2013.1,288.1C2016.0,287.6 2019.0,287.1 2022.0,286.6C2024.9,286.1 2027.9,285.6 2030.8,285.0C2033.8,284.5 2036.7,283.9 2039.7,283.4C2042.6,282.8 2045.6,282.2 2048.5,281.6C2051.5,281.0 2054.4,280.4 2057.4,279.8C2060.3,279.2 2063.2,278.5 2066.2,277.9C2069.1,277.2 2072.0,276.6 2074.9,275.9C2077.9,275.2 2082.2,272.7 2083.7,273.8C2085.2,275.0 2083.8,279.8 2083.9,282.9C2083.9,285.9 2084.0,288.9 2084.0,291.9C2084.1,294.9 2084.1,297.9 2084.2,300.9C2084.2,303.9 2084.2,306.9 2084.2,309.9C2084.2,312.9 2084.2,315.9 2084.2,318.9C2084.2,321.9 2084.1,324.9 2084.1,327.9C2084.1,330.9 2084.0,333.9 2084.0,336.9C2083.9,339.9 2083.9,342.9 2083.8,345.9C2083.7,348.9 2083.7,351.9 2083.6,354.9C2083.5,357.9 2083.4,360.9 2083.3,363.9C2083.2,366.9 2083.1,369.9 2083.0,372.9C2082.9,376.0 2082.7,379.0 2082.6,382.0C2082.4,385.0 2082.3,387.9 2082.1,390.9C2081.9,393.9 2081.7,396.9 2081.5,399.9C2081.3,402.9 2081.0,405.9 2080.8,408.9C2080.6,411.9 2080.3,414.9 2080.0,417.9C2079.7,420.9 2079.4,423.9 2079.1,426.9C2078.8,429.8 2078.5,432.8 2078.1,435.8C2077.8,438.8 2077.4,441.8 2077.1,444.8C2076.7,447.7 2076.3,450.7 2075.9,453.7C2075.5,456.7 2075.1,459.7 2074.7,462.6C2074.3,465.6 2073.8,468.6 2073.4,471.5C2072.9,474.5 2072.4,477.5 2072.0,480.4C2071.5,483.4 2071.0,486.4 2070.5,489.3C2070.0,492.3 2069.5,495.3 2069.0,498.2C2068.5,501.2 2068.0,504.1 2067.4,507.1C2066.9,510.0 2066.4,513.0 2065.8,516.0C2065.3,518.9 2064.7,521.9 2064.2,524.8C2063.6,527.8 2063.0,530.7 2062.4,533.7C2061.8,536.6 2061.2,539.5 2060.6,542.5C2060.0,545.4 2059.4,548.4 2058.7,551.3C2058.1,554.2 2057.4,557.2 2056.8,560.1C2056.1,563.0 2055.5,566.0 2054.8,568.9C2054.1,571.8 2053.5,574.7 2052.8,577.7C2052.1,580.6 2051.4,583.5 2050.7,586.4C2050.0,589.4 2049.3,592.3 2048.6,595.2C2047.9,598.1 2047.2,601.0 2046.4,603.9C2045.7,606.8 2044.9,609.8 2044.1,612.7C2043.4,615.6 2042.6,618.4 2041.7,621.3C2040.9,624.2 2040.1,627.1 2039.2,630.0C2038.3,632.8 2037.4,635.7 2036.4,638.5C2035.5,641.4 2034.5,644.2 2033.5,647.0C2032.5,649.9 2031.5,652.7 2030.4,655.5C2029.3,658.3 2028.3,661.1 2027.2,663.9C2026.1,666.7 2025.0,669.5 2023.8,672.3C2022.7,675.0 2021.6,677.8 2020.4,680.6C2019.2,683.3 2018.1,686.1 2016.9,688.9C2015.7,691.6 2014.4,694.3 2013.2,697.1C2011.9,699.8 2010.6,702.5 2009.3,705.2C2007.9,707.9 2006.6,710.5 2005.2,713.2C2003.8,715.8 2002.3,718.4 2000.8,721.0C1999.3,723.6 1997.8,726.2 1996.2,728.7C1994.6,731.2 1993.0,733.7 1991.3,736.2C1989.6,738.7 1987.9,741.1 1986.1,743.5C1984.3,745.9 1982.5,748.3 1980.7,750.7C1978.8,753.0 1976.9,755.3 1975.0,757.7C1973.1,760.0 1971.2,762.3 1969.3,764.5C1967.3,766.8 1965.3,769.1 1963.4,771.3C1961.4,773.6 1959.4,775.8 1957.4,778.0C1955.3,780.2 1953.3,782.4 1951.2,784.6C1949.1,786.7 1947.0,788.9 1944.9,790.9C1942.7,793.0 1940.5,795.0 1938.3,797.0C1936.1,799.0 1933.8,801.0 1931.5,802.9C1929.2,804.8 1926.8,806.6 1924.5,808.4C1922.1,810.2 1919.7,812.0 1917.2,813.7C1914.8,815.4 1912.3,817.1 1909.8,818.7C1907.3,820.3 1904.7,821.9 1902.1,823.4C1899.6,825.0 1897.0,826.5 1894.4,828.0C1891.8,829.5 1889.2,830.9 1886.6,832.4C1884.0,833.9 1881.4,835.4 1878.8,836.8C1876.2,838.3 1873.6,839.8 1870.9,841.3C1868.3,842.7 1865.7,844.2 1863.1,845.6C1860.4,847.0 1857.8,848.4 1855.2,849.8C1852.5,851.2 1849.8,852.5 1847.1,853.8C1844.4,855.1 1841.7,856.3 1839.0,857.6C1836.2,858.8 1833.5,859.9 1830.7,861.1C1827.9,862.2 1825.2,863.3 1822.4,864.4C1819.5,865.4 1816.7,866.4 1813.9,867.5C1811.1,868.5 1808.3,869.5 1805.4,870.5C1802.6,871.5 1799.7,872.4 1796.9,873.4C1794.1,874.4 1791.2,875.4 1788.4,876.4C1785.6,877.3 1782.7,878.3 1779.9,879.3C1777.1,880.3 1774.2,881.3 1771.4,882.3C1768.6,883.3 1765.7,884.3 1762.9,885.3C1760.1,886.3 1757.2,887.3 1754.4,888.3C1751.5,889.3 1748.7,890.2 1745.9,891.2C1743.0,892.2 1740.2,893.1 1737.3,894.1C1734.5,895.0 1731.6,896.0 1728.8,896.9C1725.9,897.9 1723.1,898.8 1720.2,899.7C1717.3,900.6 1714.5,901.5 1711.6,902.4C1708.7,903.3 1705.9,904.2 1703.0,905.1C1700.1,906.0 1697.2,906.8 1694.4,907.7C1691.5,908.5 1688.6,909.4 1685.7,910.2C1682.8,911.0 1679.9,911.8 1677.0,912.6C1674.1,913.4 1671.2,914.2 1668.3,914.9C1665.4,915.7 1662.5,916.4 1659.6,917.1C1656.7,917.8 1653.8,918.6 1650.8,919.3C1647.9,920.0 1645.0,920.7 1642.1,921.4C1639.2,922.0 1636.2,922.7 1633.3,923.4C1630.4,924.1 1627.5,924.8 1624.6,925.6C1621.6,926.3 1618.7,927.0 1615.8,927.7C1612.9,928.5 1610.0,929.2 1607.1,930.0C1604.2,930.7 1601.3,931.5 1598.4,932.3C1595.5,933.1 1592.6,933.9 1589.7,934.8C1586.8,935.6 1583.9,936.4 1581.1,937.3C1578.2,938.2 1575.3,939.0 1572.4,939.9C1569.6,940.8 1566.7,941.7 1563.8,942.6C1561.0,943.5 1558.1,944.4 1555.2,945.3C1552.4,946.2 1549.5,947.1 1546.6,948.0C1543.8,948.9 1540.9,949.8 1538.1,950.7C1535.2,951.6 1532.3,952.6 1529.5,953.5C1526.6,954.4 1523.8,955.3 1520.9,956.3C1518.1,957.2 1515.2,958.1 1512.3,959.1C1509.5,960.0 1506.6,960.9 1503.8,961.9C1500.9,962.8 1498.1,963.7 1495.2,964.7C1492.3,965.6 1489.5,966.5 1486.6,967.4C1483.8,968.3 1480.9,969.2 1478.0,970.1C1475.2,971.0 1472.3,971.9 1469.4,972.8C1466.6,973.7 1463.7,974.6 1460.8,975.4C1457.9,976.3 1455.1,977.2 1452.2,978.0C1449.3,978.9 1446.4,979.8 1443.6,980.7C1440.7,981.5 1437.8,982.4 1434.9,983.3C1432.1,984.2 1429.2,985.1 1426.4,986.1C1423.5,987.0 1420.7,987.9 1417.8,988.9C1415.0,989.9 1412.1,990.8 1409.3,991.8C1406.5,992.8 1403.7,993.9 1400.8,994.9C1398.0,996.0 1395.2,997.0 1392.4,998.1C1389.6,999.2 1386.8,1000.3 1384.0,1001.4C1381.3,1002.6 1378.5,1003.7 1375.7,1004.8C1372.9,1006.0 1370.2,1007.2 1367.4,1008.3C1364.6,1009.5 1361.9,1010.6 1359.1,1011.8C1356.3,1012.9 1353.5,1014.0 1350.7,1015.2C1348.0,1016.3 1345.2,1017.4 1342.4,1018.5C1339.6,1019.6 1336.8,1020.7 1334.0,1021.8C1331.2,1022.9 1328.4,1024.0 1325.6,1025.1C1322.8,1026.2 1320.1,1027.3 1317.3,1028.5C1314.5,1029.6 1311.7,1030.8 1309.0,1032.0C1306.2,1033.2 1303.5,1034.4 1300.8,1035.6C1298.0,1036.9 1295.3,1038.2 1292.6,1039.5C1290.0,1040.8 1287.3,1042.2 1284.6,1043.5C1281.9,1044.9 1279.3,1046.3 1276.7,1047.7C1274.0,1049.2 1271.4,1050.6 1268.8,1052.1C1266.1,1053.5 1263.5,1055.0 1260.9,1056.5C1258.3,1058.0 1255.7,1059.4 1253.1,1060.9C1250.5,1062.4 1247.8,1063.9 1245.2,1065.4C1242.6,1066.8 1240.0,1068.3 1237.4,1069.8C1234.8,1071.3 1232.1,1072.8 1229.5,1074.2C1226.9,1075.7 1224.3,1077.2 1221.7,1078.7C1219.1,1080.2 1216.5,1081.7 1213.9,1083.2C1211.3,1084.7 1208.7,1086.2 1206.1,1087.8C1203.5,1089.3 1201.0,1090.8 1198.4,1092.4C1195.8,1093.9 1193.3,1095.5 1190.7,1097.1C1188.2,1098.7 1185.7,1100.4 1183.2,1102.0C1180.7,1103.7 1178.2,1105.3 1175.7,1107.0C1173.3,1108.7 1170.8,1110.5 1168.4,1112.2C1165.9,1114.0 1163.5,1115.7 1161.1,1117.5C1158.7,1119.3 1156.3,1121.1 1153.8,1122.9C1151.4,1124.6 1149.0,1126.4 1146.6,1128.2C1144.2,1130.0 1141.8,1131.8 1139.3,1133.5C1136.9,1135.3 1134.5,1137.1 1132.0,1138.8C1129.6,1140.6 1127.2,1142.3 1124.7,1144.1C1122.3,1145.8 1119.8,1147.6 1117.3,1149.3C1114.9,1151.0 1112.4,1152.7 1110.0,1154.4C1107.5,1156.2 1105.0,1157.9 1102.5,1159.6C1100.1,1161.3 1097.6,1163.0 1095.1,1164.7C1092.6,1166.3 1090.1,1168.0 1087.7,1169.7C1085.2,1171.4 1082.7,1173.1 1080.2,1174.8C1077.7,1176.5 1075.3,1178.2 1072.8,1179.9C1070.3,1181.6 1067.9,1183.4 1065.4,1185.1C1063.0,1186.8 1060.5,1188.6 1058.1,1190.3C1055.6,1192.1 1053.2,1193.8 1050.8,1195.6C1048.3,1197.4 1045.9,1199.2 1043.5,1200.9C1041.1,1202.7 1038.7,1204.5 1036.3,1206.3C1033.9,1208.1 1031.5,1209.9 1029.1,1211.7C1026.7,1213.5 1024.3,1215.3 1021.9,1217.1C1019.5,1218.9 1017.1,1220.7 1014.7,1222.6C1012.3,1224.4 1009.9,1226.2 1007.5,1228.0C1005.1,1229.9 1002.8,1231.7 1000.4,1233.6C998.0,1235.4 995.7,1237.3 993.3,1239.1C991.0,1241.0 988.6,1242.9 986.2,1244.7C983.9,1246.6 981.5,1248.4 979.2,1250.3C976.8,1252.2 974.5,1254.0 972.1,1255.9C969.7,1257.7 967.3,1259.6 965.0,1261.4C962.6,1263.2 960.2,1265.0 957.8,1266.8C955.4,1268.6 952.9,1270.3 950.5,1272.1C948.1,1273.8 945.6,1275.6 943.1,1277.3C940.7,1279.0 938.2,1280.7 935.7,1282.4C933.2,1284.1 930.7,1285.7 928.2,1287.4C925.7,1289.1 923.2,1290.7 920.7,1292.4C918.2,1294.0 915.7,1295.7 913.2,1297.3C910.7,1299.0 908.1,1300.6 905.6,1302.2C903.1,1303.9 900.6,1305.5 898.1,1307.2C895.5,1308.8 893.0,1310.4 890.5,1312.0C888.0,1313.6 885.4,1315.3 882.9,1316.9C880.3,1318.4 877.8,1320.0 875.2,1321.6C872.7,1323.1 870.1,1324.7 867.5,1326.2C864.9,1327.7 862.3,1329.1 859.7,1330.6C857.0,1332.0 854.4,1333.3 851.7,1334.6C849.0,1336.0 846.3,1337.2 843.5,1338.4C840.8,1339.6 838.0,1340.7 835.3,1341.8C832.5,1342.8 829.7,1343.8 826.8,1344.7C824.0,1345.7 821.1,1346.5 818.2,1347.3C815.4,1348.1 812.5,1348.8 809.6,1349.4C806.7,1350.0 803.7,1350.6 800.8,1351.0C797.9,1351.5 794.9,1351.9 791.9,1352.1C789.0,1352.4 786.0,1352.6 783.0,1352.8C780.0,1352.9 777.1,1353.0 774.1,1353.0C771.1,1353.0 768.1,1352.9 765.1,1352.8C762.1,1352.7 759.1,1352.5 756.1,1352.3C753.2,1352.0 750.2,1351.7 747.2,1351.4C744.2,1351.0 741.3,1350.6 738.3,1350.2C735.4,1349.7 732.4,1349.2 729.5,1348.7C726.5,1348.1 723.6,1347.5 720.7,1346.9C717.7,1346.2 714.8,1345.5 711.9,1344.8C709.0,1344.0 706.1,1343.2 703.2,1342.4C700.4,1341.6 697.5,1340.7 694.6,1339.9C691.7,1339.0 688.9,1338.0 686.0,1337.1C683.2,1336.2 680.3,1335.2 677.5,1334.3C674.6,1333.3 671.8,1332.3 669.0,1331.3C666.1,1330.4 663.3,1329.4 660.5,1328.4C657.6,1327.4 654.8,1326.4 652.0,1325.3C649.1,1324.3 646.3,1323.3 643.5,1322.3C640.7,1321.3 637.8,1320.2 635.0,1319.2C632.2,1318.1 629.4,1317.1 626.6,1316.0C623.8,1314.9 621.0,1313.9 618.2,1312.8C615.4,1311.7 612.6,1310.6 609.8,1309.5C607.0,1308.4 604.2,1307.3 601.4,1306.2C598.6,1305.1 595.8,1304.0 593.0,1303.0C590.2,1301.9 587.4,1300.9 584.6,1299.8C581.7,1298.8 578.9,1297.8 576.1,1296.8C573.3,1295.8 570.4,1294.9 567.6,1293.9C564.7,1293.0 561.9,1292.1 559.0,1291.2C556.1,1290.3 553.3,1289.4 550.4,1288.6C547.5,1287.8 544.6,1287.0 541.7,1286.2C538.8,1285.5 535.9,1284.8 533.0,1284.3C530.1,1283.7 527.1,1283.2 524.2,1282.7C521.2,1282.3 518.3,1281.9 515.3,1281.6C512.4,1281.2 509.4,1281.0 506.4,1280.8C503.4,1280.6 500.5,1280.5 497.5,1280.3C494.5,1280.2 491.5,1280.2 488.5,1280.1C485.5,1280.1 482.5,1280.0 479.5,1280.0C476.5,1280.0 473.5,1280.0 470.5,1280.0C467.5,1280.0 464.5,1280.0 461.5,1280.0C458.5,1280.0 455.5,1280.0 452.5,1279.9C449.5,1279.9 446.5,1279.8 443.5,1279.8C440.5,1279.7 436.0,1279.5 434.5,1279.5" stroke-width="3.6" stroke-opacity="0.95"/><path d="M435.4,1190.0C435.4,1188.5 435.6,1184.0 435.6,1181.0C435.7,1178.0 435.8,1175.0 435.9,1172.0C436.0,1169.0 436.1,1165.9 436.2,1162.9C436.3,1159.9 436.4,1156.9 436.5,1153.9C436.6,1150.9 436.7,1147.9 436.8,1144.9C437.0,1141.9 437.1,1138.9 437.2,1135.9C437.3,1132.9 437.5,1129.9 437.6,1126.9C437.7,1123.9 437.9,1120.9 438.0,1117.9C438.1,1114.9 438.3,1111.9 438.4,1108.8C438.5,1105.8 438.7,1102.8 438.8,1099.8C439.0,1096.8 439.1,1093.8 439.3,1090.8C439.5,1087.8 439.6,1084.8 439.8,1081.8C440.0,1078.8 440.2,1075.8 440.4,1072.8C440.6,1069.8 440.8,1066.8 441.1,1063.8C441.3,1060.8 441.5,1057.8 441.8,1054.8C442.0,1051.8 442.3,1048.8 442.5,1045.8C442.8,1042.8 443.0,1039.8 443.3,1036.8C443.5,1033.8 443.8,1030.8 444.1,1027.9C444.3,1024.9 444.6,1021.9 444.9,1018.9C445.2,1015.9 445.5,1012.9 445.7,1009.9C446.0,1006.9 446.3,1003.9 446.6,1000.9C446.9,997.9 447.2,994.9 447.6,991.9C447.9,988.9 448.2,985.9 448.6,983.0C448.9,980.0 449.3,977.0 449.6,974.0C450.0,971.0 450.4,968.0 450.8,965.1C451.2,962.1 451.6,959.1 452.0,956.1C452.4,953.1 452.9,950.2 453.3,947.2C453.8,944.2 454.3,941.3 454.8,938.3C455.2,935.3 455.7,932.4 456.2,929.4C456.7,926.4 457.2,923.5 457.7,920.5C458.2,917.5 458.8,914.6 459.3,911.6C459.8,908.6 460.3,905.7 460.7,902.7C461.2,899.7 461.7,896.8 462.2,893.8C462.7,890.8 463.2,887.9 463.7,884.9C464.1,881.9 464.6,879.0 465.1,876.0C465.6,873.0 466.1,870.1 466.6,867.1C467.2,864.1 467.7,861.2 468.3,858.2C468.8,855.3 469.4,852.3 470.0,849.4C470.6,846.4 471.2,843.5 471.9,840.6C472.5,837.6 473.1,834.7 473.8,831.8C474.5,828.8 475.2,825.9 475.8,823.0C476.5,820.0 477.2,817.1 478.0,814.2C478.7,811.3 479.4,808.4 480.1,805.4C480.9,802.5 481.6,799.6 482.4,796.7C483.2,793.8 484.0,790.9 484.8,788.0C485.6,785.1 486.5,782.2 487.3,779.4C488.2,776.5 489.0,773.6 489.9,770.7C490.8,767.9 491.7,765.0 492.7,762.1C493.6,759.3 494.5,756.4 495.5,753.6C496.5,750.7 497.5,747.9 498.5,745.1C499.5,742.2 500.5,739.4 501.6,736.6C502.6,733.8 503.7,731.0 504.8,728.2C505.9,725.4 507.1,722.6 508.3,719.9C509.4,717.1 510.6,714.3 511.9,711.6C513.1,708.9 514.4,706.1 515.7,703.4C516.9,700.7 518.3,698.0 519.6,695.4C521.0,692.7 522.4,690.0 523.8,687.4C525.3,684.8 526.7,682.1 528.2,679.5C529.7,677.0 531.3,674.4 532.8,671.8C534.4,669.3 536.0,666.7 537.7,664.2C539.3,661.7 541.0,659.2 542.7,656.8C544.4,654.3 546.2,651.9 548.0,649.5C549.8,647.1 551.6,644.7 553.5,642.4C555.4,640.0 557.3,637.7 559.2,635.5C561.2,633.2 563.2,630.9 565.2,628.7C567.2,626.5 569.3,624.3 571.4,622.2C573.5,620.0 575.6,617.9 577.7,615.8C579.9,613.7 582.1,611.7 584.3,609.6C586.5,607.6 588.7,605.6 591.0,603.6C593.3,601.7 595.6,599.8 597.9,597.9C600.2,596.0 602.6,594.1 605.0,592.3C607.3,590.4 609.7,588.7 612.2,586.9C614.6,585.2 617.1,583.5 619.6,581.8C622.1,580.2 624.6,578.5 627.2,577.0C629.7,575.5 632.3,574.0 634.9,572.5C637.6,571.1 640.2,569.8 642.9,568.5C645.6,567.2 648.3,565.9 651.1,564.7C653.8,563.6 656.6,562.5 659.4,561.4C662.2,560.3 665.0,559.3 667.9,558.3C670.7,557.4 673.6,556.4 676.4,555.5C679.3,554.6 682.2,553.8 685.1,552.9C687.9,552.1 690.8,551.3 693.7,550.5C696.6,549.7 699.6,549.0 702.5,548.3C705.4,547.5 708.3,546.8 711.2,546.1C714.2,545.4 717.1,544.8 720.0,544.1C723.0,543.5 725.9,542.9 728.9,542.3C731.8,541.7 734.8,541.2 737.7,540.7C740.7,540.2 743.6,539.7 746.6,539.2C749.6,538.7 752.5,538.3 755.5,537.9C758.5,537.5 761.5,537.1 764.5,536.7C767.4,536.3 770.4,536.0 773.4,535.6C776.4,535.2 779.4,534.9 782.4,534.6C785.4,534.2 788.4,533.9 791.3,533.5C794.3,533.2 797.3,532.9 800.3,532.5C803.3,532.2 806.3,531.8 809.3,531.5C812.3,531.2 815.3,530.8 818.2,530.5C821.2,530.2 824.2,529.8 827.2,529.5C830.2,529.2 833.2,528.9 836.2,528.5C839.2,528.2 842.2,527.9 845.2,527.6C848.2,527.3 851.1,527.0 854.1,526.7C857.1,526.4 860.1,526.1 863.1,525.8C866.1,525.5 869.1,525.1 872.1,524.8C875.1,524.5 878.1,524.2 881.0,523.8C884.0,523.4 887.0,523.1 890.0,522.7C893.0,522.3 896.0,521.9 898.9,521.5C901.9,521.1 904.9,520.6 907.9,520.2C910.8,519.7 913.8,519.3 916.8,518.8C919.7,518.3 922.7,517.8 925.7,517.3C928.6,516.8 931.6,516.3 934.6,515.7C937.5,515.2 940.5,514.6 943.4,514.1C946.4,513.5 949.3,513.0 952.3,512.4C955.2,511.8 958.2,511.2 961.1,510.7C964.1,510.1 967.0,509.5 970.0,508.8C972.9,508.2 975.8,507.6 978.8,506.9C981.7,506.2 984.6,505.6 987.5,504.8C990.5,504.1 993.4,503.4 996.3,502.6C999.2,501.8 1002.1,501.0 1004.9,500.2C1007.8,499.3 1010.7,498.4 1013.6,497.5C1016.4,496.6 1019.3,495.7 1022.1,494.7C1025.0,493.8 1027.8,492.8 1030.7,491.9C1033.5,490.9 1036.4,489.9 1039.2,489.0C1042.1,488.0 1044.9,487.0 1047.8,486.1C1050.6,485.1 1053.5,484.1 1056.3,483.2C1059.1,482.2 1062.0,481.2 1064.8,480.2C1067.7,479.3 1070.5,478.3 1073.4,477.3C1076.2,476.3 1079.0,475.3 1081.9,474.3C1084.7,473.3 1087.5,472.2 1090.3,471.2C1093.2,470.2 1096.0,469.1 1098.8,468.0C1101.6,467.0 1104.4,465.9 1107.2,464.8C1110.0,463.7 1112.8,462.6 1115.6,461.5C1118.4,460.4 1121.2,459.3 1124.0,458.1C1126.8,457.0 1129.6,455.9 1132.4,454.8C1135.2,453.7 1138.0,452.6 1140.8,451.5C1143.6,450.4 1146.4,449.3 1149.2,448.2C1152.0,447.2 1154.8,446.1 1157.6,445.1C1160.4,444.0 1163.2,443.0 1166.1,441.9C1168.9,440.9 1171.7,439.8 1174.5,438.8C1177.4,437.8 1180.2,436.8 1183.0,435.8C1185.9,434.8 1188.7,433.8 1191.5,432.8C1194.4,431.8 1197.2,430.8 1200.1,429.9C1202.9,429.0 1205.8,428.0 1208.6,427.1C1211.5,426.2 1214.4,425.4 1217.3,424.5C1220.1,423.6 1223.0,422.8 1225.9,422.0C1228.8,421.1 1231.7,420.3 1234.6,419.5C1237.5,418.7 1240.4,417.9 1243.3,417.1C1246.2,416.3 1249.1,415.5 1252.0,414.8C1254.9,414.0 1257.8,413.2 1260.7,412.5C1263.6,411.7 1266.6,411.0 1269.5,410.2C1272.4,409.5 1275.3,408.8 1278.2,408.1C1281.2,407.4 1284.1,406.7 1287.0,406.0C1289.9,405.3 1292.9,404.6 1295.8,403.9C1298.7,403.2 1301.6,402.5 1304.6,401.8C1307.5,401.1 1310.4,400.4 1313.3,399.7C1316.3,399.0 1319.2,398.4 1322.1,397.7C1325.1,397.0 1328.0,396.3 1330.9,395.6C1333.8,394.9 1336.8,394.2 1339.7,393.4C1342.6,392.7 1345.5,392.0 1348.4,391.3C1351.4,390.6 1354.3,389.8 1357.2,389.1C1360.1,388.4 1363.0,387.6 1365.9,386.9C1368.9,386.2 1371.8,385.4 1374.7,384.7C1377.6,383.9 1380.5,383.2 1383.4,382.4C1386.3,381.7 1389.3,380.9 1392.2,380.2C1395.1,379.5 1398.0,378.7 1400.9,378.0C1403.8,377.3 1406.8,376.5 1409.7,375.8C1412.6,375.1 1415.5,374.4 1418.4,373.7C1421.4,373.0 1424.3,372.3 1427.2,371.7C1430.2,371.0 1433.1,370.3 1436.0,369.6C1438.9,368.9 1441.9,368.2 1444.8,367.5C1447.7,366.7 1450.6,366.0 1453.5,365.3C1456.4,364.6 1459.4,363.8 1462.3,363.1C1465.2,362.3 1468.1,361.5 1471.0,360.8C1473.9,360.0 1476.8,359.3 1479.7,358.5C1482.6,357.7 1485.5,357.0 1488.5,356.2C1491.4,355.5 1494.3,354.7 1497.2,354.0C1500.1,353.3 1503.0,352.5 1506.0,351.8C1508.9,351.1 1511.8,350.4 1514.7,349.7C1517.6,348.9 1520.6,348.2 1523.5,347.5C1526.4,346.8 1529.3,346.0 1532.2,345.3C1535.1,344.5 1538.0,343.8 1540.9,343.0C1543.9,342.3 1546.8,341.5 1549.7,340.7C1552.6,339.9 1555.5,339.1 1558.4,338.3C1561.3,337.5 1564.2,336.7 1567.1,336.0C1570.0,335.2 1572.9,334.4 1575.8,333.7C1578.7,332.9 1581.6,332.2 1584.5,331.5C1587.5,330.8 1590.4,330.1 1593.3,329.5C1596.3,328.8 1599.2,328.2 1602.1,327.6C1605.1,327.1 1608.0,326.5 1611.0,326.0C1614.0,325.5 1616.9,325.0 1619.9,324.6C1622.9,324.1 1625.8,323.7 1628.8,323.3C1631.8,322.9 1634.8,322.6 1637.8,322.2C1640.8,321.9 1643.7,321.6 1646.7,321.3C1649.7,320.9 1652.7,320.7 1655.7,320.4C1658.7,320.1 1661.7,319.9 1664.7,319.6C1667.7,319.4 1670.7,319.1 1673.7,318.9C1676.7,318.7 1679.7,318.4 1682.7,318.2C1685.7,318.0 1688.7,317.8 1691.7,317.6C1694.7,317.4 1697.7,317.2 1700.7,317.0C1703.7,316.8 1706.7,316.6 1709.7,316.4C1712.7,316.3 1715.7,316.1 1718.7,316.0C1721.7,315.8 1724.7,315.7 1727.7,315.6C1730.7,315.4 1733.7,315.3 1736.7,315.2C1739.7,315.1 1742.7,315.0 1745.8,314.9C1748.8,314.8 1751.8,314.7 1754.8,314.6C1757.8,314.5 1760.8,314.4 1763.8,314.3C1766.8,314.2 1769.8,314.1 1772.8,314.0C1775.8,313.9 1778.8,313.8 1781.8,313.6C1784.8,313.5 1787.8,313.4 1790.8,313.3C1793.8,313.2 1796.9,313.1 1799.9,312.9C1802.9,312.8 1805.9,312.7 1808.9,312.6C1811.9,312.4 1814.9,312.3 1817.9,312.1C1820.9,312.0 1823.9,311.9 1826.9,311.7C1829.9,311.6 1832.9,311.4 1835.9,311.3C1838.9,311.1 1841.9,311.0 1844.9,310.8C1847.9,310.6 1850.9,310.5 1853.9,310.3C1856.9,310.1 1859.9,310.0 1862.9,309.8C1865.9,309.6 1868.9,309.5 1872.0,309.3C1875.0,309.1 1878.0,308.9 1881.0,308.7C1884.0,308.5 1887.0,308.3 1890.0,308.1C1893.0,307.9 1896.0,307.7 1899.0,307.5C1902.0,307.3 1905.0,307.1 1908.0,306.9C1911.0,306.7 1914.0,306.4 1917.0,306.2C1920.0,306.0 1923.0,305.7 1926.0,305.5C1929.0,305.2 1931.9,305.0 1934.9,304.7C1937.9,304.4 1940.9,304.1 1943.9,303.8C1946.9,303.5 1949.9,303.2 1952.9,302.9C1955.9,302.6 1958.9,302.3 1961.9,301.9C1964.9,301.6 1967.8,301.2 1970.8,300.8C1973.8,300.5 1976.8,300.1 1979.8,299.7C1982.7,299.3 1985.7,298.9 1988.7,298.4C1991.7,298.0 1994.7,297.6 1997.6,297.1C2000.6,296.7 2003.6,296.2 2006.5,295.8C2009.5,295.3 2012.5,294.8 2015.4,294.3C2018.4,293.8 2021.4,293.3 2024.3,292.8C2027.3,292.3 2030.3,291.7 2033.2,291.2C2036.2,290.6 2039.1,290.0 2042.1,289.5C2045.0,288.9 2048.0,288.3 2050.9,287.7C2053.8,287.0 2056.8,286.4 2059.7,285.7C2062.6,285.1 2065.6,284.4 2068.5,283.7C2071.4,283.0 2074.8,281.7 2077.2,281.6C2079.7,281.5 2082.1,281.4 2083.1,283.1C2084.1,284.9 2083.2,289.1 2083.2,292.1C2083.3,295.1 2083.3,298.1 2083.3,301.1C2083.3,304.2 2083.3,307.2 2083.3,310.2C2083.4,313.2 2083.3,316.2 2083.3,319.2C2083.3,322.2 2083.3,325.2 2083.3,328.2C2083.2,331.2 2083.2,334.2 2083.1,337.2C2083.1,340.2 2083.0,343.2 2082.9,346.2C2082.9,349.2 2082.8,352.2 2082.7,355.2C2082.6,358.2 2082.5,361.3 2082.4,364.3C2082.3,367.3 2082.2,370.3 2082.1,373.3C2081.9,376.3 2081.8,379.3 2081.6,382.3C2081.5,385.3 2081.3,388.3 2081.1,391.3C2080.9,394.3 2080.7,397.3 2080.4,400.3C2080.2,403.3 2080.0,406.2 2079.7,409.2C2079.4,412.2 2079.1,415.2 2078.8,418.2C2078.5,421.2 2078.2,424.2 2077.9,427.2C2077.6,430.2 2077.2,433.2 2076.9,436.1C2076.5,439.1 2076.1,442.1 2075.8,445.1C2075.4,448.1 2075.0,451.0 2074.6,454.0C2074.2,457.0 2073.7,460.0 2073.3,462.9C2072.9,465.9 2072.4,468.9 2071.9,471.9C2071.5,474.8 2071.0,477.8 2070.5,480.8C2070.0,483.7 2069.5,486.7 2069.0,489.6C2068.5,492.6 2067.9,495.6 2067.4,498.5C2066.9,501.5 2066.3,504.4 2065.8,507.4C2065.2,510.3 2064.7,513.3 2064.1,516.2C2063.5,519.2 2062.9,522.1 2062.3,525.1C2061.7,528.0 2061.1,531.0 2060.5,533.9C2059.9,536.8 2059.2,539.8 2058.6,542.7C2057.9,545.7 2057.3,548.6 2056.6,551.5C2055.9,554.4 2055.2,557.4 2054.5,560.3C2053.9,563.2 2053.2,566.1 2052.5,569.1C2051.7,572.0 2051.0,574.9 2050.3,577.8C2049.6,580.7 2048.8,583.7 2048.1,586.6C2047.4,589.5 2046.6,592.4 2045.8,595.3C2045.1,598.2 2044.3,601.1 2043.5,604.0C2042.7,606.9 2041.9,609.8 2041.0,612.7C2040.2,615.6 2039.3,618.4 2038.5,621.3C2037.6,624.2 2036.7,627.0 2035.7,629.9C2034.8,632.7 2033.8,635.6 2032.9,638.4C2031.9,641.3 2030.9,644.1 2029.9,646.9C2028.8,649.7 2027.8,652.6 2026.7,655.4C2025.6,658.2 2024.6,661.0 2023.5,663.8C2022.4,666.6 2021.3,669.4 2020.1,672.1C2019.0,674.9 2017.8,677.7 2016.7,680.5C2015.5,683.2 2014.3,686.0 2013.1,688.7C2011.8,691.5 2010.6,694.2 2009.3,696.9C2008.0,699.6 2006.7,702.3 2005.3,704.9C2003.9,707.6 2002.5,710.3 2001.1,712.9C1999.6,715.5 1998.1,718.1 1996.6,720.6C1995.0,723.2 1993.4,725.7 1991.7,728.2C1990.1,730.7 1988.4,733.1 1986.6,735.5C1984.8,737.9 1983.0,740.3 1981.2,742.6C1979.3,745.0 1977.4,747.3 1975.5,749.6C1973.5,751.9 1971.5,754.1 1969.5,756.4C1967.6,758.6 1965.5,760.8 1963.5,763.0C1961.5,765.2 1959.4,767.4 1957.4,769.6C1955.3,771.8 1953.2,774.0 1951.1,776.1C1949.0,778.2 1946.9,780.4 1944.7,782.4C1942.6,784.5 1940.4,786.6 1938.2,788.6C1936.0,790.6 1933.7,792.6 1931.4,794.5C1929.1,796.4 1926.8,798.3 1924.5,800.2C1922.1,802.0 1919.7,803.8 1917.3,805.5C1914.8,807.3 1912.4,809.0 1909.9,810.6C1907.4,812.3 1904.9,813.9 1902.3,815.4C1899.8,817.0 1897.2,818.6 1894.6,820.1C1892.0,821.6 1889.4,823.1 1886.8,824.6C1884.2,826.1 1881.6,827.6 1879.0,829.1C1876.4,830.5 1873.8,832.0 1871.2,833.5C1868.6,834.9 1865.9,836.4 1863.3,837.8C1860.7,839.2 1858.0,840.7 1855.4,842.0C1852.7,843.4 1850.0,844.7 1847.3,846.0C1844.6,847.4 1841.9,848.6 1839.2,849.8C1836.4,851.1 1833.7,852.3 1830.9,853.4C1828.1,854.6 1825.4,855.7 1822.6,856.8C1819.8,857.9 1817.0,859.0 1814.1,860.0C1811.3,861.0 1808.5,862.1 1805.7,863.1C1802.9,864.1 1800.0,865.1 1797.2,866.1C1794.4,867.1 1791.5,868.1 1788.7,869.1C1785.9,870.1 1783.0,871.1 1780.2,872.1C1777.4,873.1 1774.6,874.1 1771.7,875.2C1768.9,876.2 1766.1,877.2 1763.2,878.2C1760.4,879.2 1757.6,880.2 1754.7,881.2C1751.9,882.1 1749.1,883.1 1746.2,884.1C1743.4,885.0 1740.5,886.0 1737.7,886.9C1734.8,887.9 1731.9,888.8 1729.1,889.7C1726.2,890.7 1723.4,891.6 1720.5,892.5C1717.6,893.4 1714.8,894.3 1711.9,895.2C1709.0,896.1 1706.2,897.0 1703.3,897.8C1700.4,898.7 1697.5,899.6 1694.6,900.4C1691.8,901.3 1688.9,902.1 1686.0,902.9C1683.1,903.8 1680.2,904.6 1677.3,905.4C1674.4,906.2 1671.5,907.0 1668.6,907.7C1665.7,908.5 1662.8,909.3 1659.9,910.0C1657.0,910.8 1654.1,911.6 1651.2,912.3C1648.2,913.0 1645.3,913.8 1642.4,914.5C1639.5,915.3 1636.6,916.0 1633.7,916.8C1630.8,917.5 1627.9,918.3 1624.9,919.0C1622.0,919.8 1619.1,920.5 1616.2,921.3C1613.3,922.1 1610.4,922.9 1607.5,923.6C1604.6,924.4 1601.7,925.2 1598.8,926.0C1595.9,926.9 1593.0,927.7 1590.2,928.5C1587.3,929.4 1584.4,930.2 1581.5,931.1C1578.6,931.9 1575.7,932.8 1572.9,933.6C1570.0,934.5 1567.1,935.4 1564.3,936.3C1561.4,937.2 1558.5,938.1 1555.6,939.0C1552.8,939.9 1549.9,940.8 1547.1,941.7C1544.2,942.6 1541.3,943.5 1538.5,944.5C1535.6,945.4 1532.8,946.3 1529.9,947.3C1527.0,948.2 1524.2,949.2 1521.3,950.1C1518.5,951.1 1515.6,952.0 1512.8,952.9C1509.9,953.9 1507.1,954.8 1504.2,955.8C1501.4,956.7 1498.5,957.6 1495.6,958.6C1492.8,959.5 1489.9,960.4 1487.1,961.4C1484.2,962.3 1481.3,963.2 1478.5,964.1C1475.6,965.0 1472.7,965.9 1469.9,966.8C1467.0,967.7 1464.1,968.6 1461.3,969.5C1458.4,970.4 1455.5,971.3 1452.7,972.2C1449.8,973.1 1446.9,974.0 1444.1,974.9C1441.2,975.8 1438.3,976.7 1435.5,977.6C1432.6,978.5 1429.8,979.5 1426.9,980.4C1424.1,981.4 1421.2,982.3 1418.4,983.3C1415.5,984.3 1412.7,985.3 1409.9,986.4C1407.1,987.4 1404.2,988.4 1401.4,989.5C1398.6,990.6 1395.8,991.6 1393.0,992.7C1390.2,993.9 1387.5,995.0 1384.7,996.1C1381.9,997.2 1379.1,998.4 1376.3,999.6C1373.6,1000.7 1370.8,1001.9 1368.0,1003.0C1365.3,1004.2 1362.5,1005.4 1359.7,1006.5C1356.9,1007.7 1354.2,1008.8 1351.4,1009.9C1348.6,1011.1 1345.8,1012.2 1343.0,1013.3C1340.2,1014.4 1337.4,1015.5 1334.7,1016.7C1331.9,1017.8 1329.1,1018.9 1326.3,1020.0C1323.5,1021.2 1320.8,1022.3 1318.0,1023.5C1315.2,1024.7 1312.5,1025.9 1309.8,1027.1C1307.0,1028.4 1304.3,1029.6 1301.6,1030.9C1298.9,1032.2 1296.2,1033.6 1293.5,1034.9C1290.8,1036.2 1288.2,1037.6 1285.5,1039.0C1282.8,1040.4 1280.2,1041.8 1277.6,1043.3C1274.9,1044.7 1272.3,1046.2 1269.7,1047.6C1267.0,1049.1 1264.4,1050.5 1261.8,1052.0C1259.2,1053.5 1256.5,1055.0 1253.9,1056.4C1251.3,1057.9 1248.7,1059.4 1246.1,1060.9C1243.5,1062.3 1240.8,1063.8 1238.2,1065.3C1235.6,1066.8 1233.0,1068.2 1230.4,1069.7C1227.8,1071.2 1225.1,1072.7 1222.5,1074.2C1219.9,1075.7 1217.3,1077.2 1214.7,1078.7C1212.1,1080.2 1209.5,1081.7 1207.0,1083.3C1204.4,1084.8 1201.8,1086.4 1199.3,1087.9C1196.7,1089.5 1194.1,1091.1 1191.6,1092.7C1189.1,1094.3 1186.6,1096.0 1184.1,1097.6C1181.6,1099.3 1179.1,1101.0 1176.6,1102.7C1174.2,1104.4 1171.7,1106.2 1169.3,1107.9C1166.8,1109.7 1164.4,1111.4 1162.0,1113.2C1159.6,1115.0 1157.2,1116.8 1154.7,1118.5C1152.3,1120.3 1149.9,1122.1 1147.5,1123.9C1145.0,1125.6 1142.6,1127.4 1140.2,1129.2C1137.7,1130.9 1135.3,1132.7 1132.9,1134.4C1130.4,1136.2 1128.0,1137.9 1125.5,1139.7C1123.0,1141.4 1120.6,1143.1 1118.1,1144.8C1115.6,1146.5 1113.2,1148.2 1110.7,1149.9C1108.2,1151.6 1105.7,1153.3 1103.2,1155.0C1100.7,1156.6 1098.2,1158.3 1095.7,1160.0C1093.2,1161.6 1090.7,1163.3 1088.2,1165.0C1085.7,1166.6 1083.2,1168.3 1080.7,1169.9C1078.2,1171.6 1075.7,1173.3 1073.2,1174.9C1070.7,1176.6 1068.2,1178.3 1065.7,1180.0C1063.2,1181.7 1060.8,1183.4 1058.3,1185.1C1055.8,1186.8 1053.4,1188.6 1050.9,1190.3C1048.5,1192.0 1046.0,1193.8 1043.6,1195.5C1041.1,1197.3 1038.7,1199.0 1036.2,1200.8C1033.8,1202.5 1031.4,1204.3 1028.9,1206.1C1026.5,1207.8 1024.1,1209.6 1021.7,1211.4C1019.2,1213.2 1016.8,1215.0 1014.4,1216.7C1012.0,1218.5 1009.6,1220.3 1007.2,1222.1C1004.7,1223.9 1002.3,1225.7 999.9,1227.5C997.5,1229.3 995.1,1231.1 992.7,1232.9C990.3,1234.7 987.9,1236.6 985.5,1238.4C983.1,1240.2 980.7,1242.0 978.3,1243.8C975.9,1245.6 973.5,1247.4 971.1,1249.2C968.7,1251.0 966.3,1252.8 963.9,1254.5C961.4,1256.3 959.0,1258.1 956.5,1259.8C954.1,1261.6 951.6,1263.3 949.2,1265.0C946.7,1266.7 944.2,1268.4 941.7,1270.0C939.2,1271.7 936.7,1273.3 934.2,1275.0C931.6,1276.6 929.1,1278.2 926.6,1279.8C924.0,1281.4 921.5,1283.0 918.9,1284.6C916.4,1286.2 913.8,1287.7 911.2,1289.3C908.7,1290.9 906.1,1292.4 903.5,1293.9C900.9,1295.5 898.3,1297.0 895.7,1298.5C893.1,1300.0 890.5,1301.6 887.9,1303.0C885.3,1304.5 882.7,1306.0 880.1,1307.5C877.5,1308.9 874.8,1310.4 872.2,1311.8C869.6,1313.2 866.9,1314.6 864.2,1316.0C861.5,1317.3 858.9,1318.6 856.1,1319.8C853.4,1321.1 850.7,1322.3 847.9,1323.4C845.1,1324.5 842.4,1325.6 839.5,1326.6C836.7,1327.6 833.9,1328.6 831.0,1329.4C828.2,1330.3 825.3,1331.1 822.4,1331.8C819.5,1332.6 816.6,1333.2 813.7,1333.8C810.8,1334.4 807.8,1335.0 804.9,1335.4C801.9,1335.9 799.0,1336.3 796.0,1336.6C793.0,1336.9 790.0,1337.2 787.1,1337.4C784.1,1337.6 781.1,1337.7 778.1,1337.8C775.1,1337.8 772.1,1337.9 769.1,1337.8C766.1,1337.8 763.1,1337.6 760.1,1337.5C757.1,1337.3 754.2,1337.1 751.2,1336.9C748.2,1336.6 745.2,1336.3 742.2,1335.9C739.3,1335.5 736.3,1335.1 733.3,1334.7C730.4,1334.2 727.4,1333.7 724.5,1333.1C721.5,1332.6 718.6,1332.0 715.6,1331.3C712.7,1330.7 709.8,1330.0 706.9,1329.3C704.0,1328.6 701.1,1327.8 698.2,1327.1C695.3,1326.3 692.4,1325.5 689.5,1324.6C686.6,1323.8 683.7,1323.0 680.8,1322.1C678.0,1321.3 675.1,1320.4 672.2,1319.5C669.3,1318.7 666.4,1317.8 663.6,1316.9C660.7,1316.1 657.8,1315.2 654.9,1314.3C652.1,1313.5 649.2,1312.6 646.3,1311.7C643.4,1310.9 640.5,1310.0 637.7,1309.1C634.8,1308.3 631.9,1307.4 629.0,1306.5C626.2,1305.6 623.3,1304.7 620.4,1303.9C617.6,1303.0 614.7,1302.1 611.8,1301.2C609.0,1300.3 606.1,1299.4 603.2,1298.5C600.4,1297.6 597.5,1296.7 594.6,1295.8C591.7,1295.0 588.8,1294.1 586.0,1293.3C583.1,1292.5 580.2,1291.7 577.3,1291.0C574.4,1290.2 571.5,1289.4 568.5,1288.7C565.6,1288.0 562.7,1287.3 559.8,1286.6C556.9,1285.9 553.9,1285.3 551.0,1284.7C548.1,1284.1 545.1,1283.4 542.2,1282.9C539.2,1282.4 536.3,1282.1 533.3,1281.8C530.3,1281.5 527.4,1281.4 524.4,1281.4C521.4,1281.4 518.5,1281.4 515.5,1281.6C512.5,1281.7 509.5,1282.0 506.5,1282.3C503.5,1282.6 500.5,1283.0 497.5,1283.4C494.6,1283.8 491.6,1284.3 488.6,1284.7C485.6,1285.2 482.6,1285.7 479.6,1286.1C476.5,1286.6 473.5,1287.1 470.5,1287.5C467.5,1287.9 464.5,1288.3 461.5,1288.7C458.5,1289.0 455.5,1289.3 452.5,1289.6C449.5,1289.8 446.5,1290.0 443.5,1290.0C440.5,1290.1 436.0,1290.0 434.5,1290.0" stroke-width="3.6" stroke-opacity="0.95"/><path d="M435.6,1190.0C435.7,1188.5 435.8,1184.0 435.9,1181.0C436.0,1178.0 436.1,1175.0 436.2,1172.0C436.3,1169.0 436.4,1166.0 436.5,1163.0C436.7,1160.0 436.8,1157.0 436.9,1154.0C437.0,1151.0 437.1,1148.0 437.3,1145.0C437.4,1142.0 437.5,1139.0 437.6,1136.0C437.8,1133.0 437.9,1130.0 438.0,1127.0C438.2,1124.0 438.3,1121.0 438.5,1118.0C438.6,1115.0 438.7,1112.0 438.9,1109.0C439.0,1106.0 439.2,1103.0 439.3,1100.0C439.5,1097.0 439.7,1094.0 439.8,1091.0C440.0,1088.0 440.2,1085.0 440.4,1082.0C440.6,1079.0 440.8,1076.0 441.0,1073.0C441.2,1070.0 441.4,1067.0 441.7,1064.0C441.9,1061.0 442.1,1058.0 442.4,1055.0C442.6,1052.0 442.9,1049.0 443.1,1046.0C443.4,1043.0 443.6,1040.0 443.9,1037.0C444.2,1034.1 444.4,1031.1 444.7,1028.1C445.0,1025.1 445.2,1022.1 445.5,1019.1C445.8,1016.1 446.1,1013.1 446.3,1010.1C446.6,1007.1 446.9,1004.1 447.2,1001.1C447.5,998.2 447.8,995.2 448.1,992.2C448.4,989.2 448.8,986.2 449.1,983.2C449.5,980.2 449.8,977.3 450.2,974.3C450.5,971.3 450.9,968.3 451.3,965.3C451.7,962.4 452.1,959.4 452.6,956.4C453.0,953.5 453.5,950.5 453.9,947.5C454.4,944.5 454.9,941.6 455.4,938.6C455.8,935.7 456.3,932.7 456.9,929.7C457.4,926.8 457.9,923.8 458.4,920.9C458.9,917.9 459.5,914.9 460.0,912.0C460.5,909.0 461.0,906.1 461.5,903.1C462.0,900.2 462.5,897.2 463.0,894.2C463.5,891.3 464.0,888.3 464.5,885.3C465.0,882.4 465.5,879.4 466.0,876.5C466.5,873.5 467.0,870.5 467.5,867.6C468.0,864.6 468.5,861.7 469.1,858.7C469.7,855.8 470.2,852.8 470.8,849.9C471.4,846.9 472.1,844.0 472.7,841.1C473.3,838.1 474.0,835.2 474.7,832.3C475.3,829.3 476.0,826.4 476.7,823.5C477.4,820.6 478.1,817.7 478.8,814.7C479.6,811.8 480.3,808.9 481.0,806.0C481.8,803.1 482.6,800.2 483.3,797.3C484.1,794.4 484.9,791.5 485.8,788.6C486.6,785.7 487.4,782.9 488.3,780.0C489.1,777.1 490.0,774.2 490.9,771.4C491.8,768.5 492.8,765.6 493.7,762.8C494.6,760.0 495.6,757.1 496.6,754.3C497.6,751.4 498.6,748.6 499.6,745.8C500.7,743.0 501.7,740.2 502.8,737.4C503.9,734.6 505.0,731.8 506.2,729.0C507.3,726.3 508.5,723.5 509.7,720.8C510.9,718.0 512.2,715.3 513.4,712.6C514.7,709.8 516.0,707.2 517.4,704.5C518.7,701.8 520.1,699.1 521.5,696.5C522.9,693.8 524.4,691.2 525.8,688.6C527.3,686.0 528.9,683.4 530.4,680.9C532.0,678.3 533.6,675.8 535.2,673.3C536.8,670.7 538.5,668.3 540.2,665.8C541.9,663.3 543.6,660.9 545.4,658.4C547.1,656.0 548.9,653.6 550.8,651.3C552.6,648.9 554.5,646.5 556.4,644.2C558.3,641.9 560.2,639.7 562.2,637.4C564.2,635.2 566.2,633.0 568.3,630.8C570.4,628.6 572.5,626.5 574.6,624.4C576.7,622.3 578.9,620.2 581.1,618.2C583.3,616.1 585.5,614.1 587.8,612.2C590.0,610.2 592.3,608.3 594.6,606.4C597.0,604.5 599.3,602.6 601.7,600.8C604.0,598.9 606.4,597.1 608.8,595.3C611.3,593.6 613.7,591.8 616.2,590.1C618.6,588.5 621.1,586.8 623.7,585.2C626.2,583.6 628.7,582.0 631.3,580.6C633.9,579.1 636.5,577.6 639.2,576.3C641.8,574.9 644.5,573.6 647.2,572.3C650.0,571.1 652.7,569.9 655.5,568.8C658.2,567.7 661.0,566.7 663.9,565.6C666.7,564.6 669.5,563.7 672.4,562.8C675.2,561.9 678.1,561.0 681.0,560.1C683.8,559.3 686.7,558.5 689.6,557.7C692.5,556.9 695.4,556.2 698.3,555.4C701.3,554.7 704.2,554.0 707.1,553.3C710.0,552.6 712.9,551.9 715.9,551.3C718.8,550.6 721.7,550.0 724.7,549.4C727.6,548.8 730.6,548.3 733.5,547.8C736.5,547.2 739.4,546.8 742.4,546.3C745.4,545.8 748.3,545.4 751.3,545.0C754.3,544.6 757.3,544.2 760.2,543.9C763.2,543.5 766.2,543.2 769.2,542.8C772.2,542.5 775.2,542.2 778.1,541.8C781.1,541.5 784.1,541.2 787.1,540.8C790.1,540.5 793.1,540.2 796.1,539.8C799.0,539.5 802.0,539.1 805.0,538.8C808.0,538.5 811.0,538.1 814.0,537.8C816.9,537.4 819.9,537.1 822.9,536.7C825.9,536.4 828.9,536.0 831.9,535.7C834.8,535.4 837.8,535.0 840.8,534.7C843.8,534.3 846.8,534.0 849.8,533.7C852.8,533.3 855.7,533.0 858.7,532.7C861.7,532.3 864.7,532.0 867.7,531.6C870.7,531.3 873.6,530.9 876.6,530.5C879.6,530.2 882.6,529.8 885.6,529.4C888.5,528.9 891.5,528.5 894.5,528.1C897.4,527.6 900.4,527.2 903.4,526.7C906.3,526.2 909.3,525.7 912.2,525.2C915.2,524.7 918.2,524.1 921.1,523.6C924.1,523.0 927.0,522.4 930.0,521.9C932.9,521.3 935.9,520.7 938.8,520.1C941.7,519.5 944.7,518.9 947.6,518.2C950.6,517.6 953.5,517.0 956.4,516.3C959.4,515.7 962.3,515.0 965.2,514.4C968.1,513.7 971.1,513.0 974.0,512.3C976.9,511.6 979.8,510.9 982.7,510.1C985.6,509.4 988.5,508.6 991.4,507.8C994.3,507.0 997.2,506.2 1000.1,505.3C1002.9,504.5 1005.8,503.6 1008.7,502.7C1011.5,501.8 1014.4,500.8 1017.2,499.9C1020.1,498.9 1022.9,497.9 1025.7,496.9C1028.6,495.9 1031.4,494.9 1034.2,493.9C1037.1,492.9 1039.9,491.9 1042.7,490.9C1045.5,489.9 1048.4,488.9 1051.2,487.9C1054.0,486.9 1056.9,485.9 1059.7,484.9C1062.5,483.9 1065.4,482.9 1068.2,481.9C1071.0,480.8 1073.8,479.8 1076.7,478.8C1079.5,477.8 1082.3,476.7 1085.1,475.7C1087.9,474.6 1090.7,473.5 1093.5,472.5C1096.3,471.4 1099.1,470.3 1101.9,469.2C1104.7,468.1 1107.5,467.0 1110.3,465.8C1113.1,464.7 1115.9,463.6 1118.6,462.4C1121.4,461.3 1124.2,460.2 1127.0,459.0C1129.7,457.9 1132.5,456.7 1135.3,455.6C1138.1,454.5 1140.9,453.3 1143.7,452.2C1146.4,451.1 1149.2,450.0 1152.0,448.9C1154.8,447.9 1157.6,446.8 1160.5,445.7C1163.3,444.7 1166.1,443.6 1168.9,442.6C1171.7,441.5 1174.5,440.5 1177.3,439.4C1180.1,438.4 1183.0,437.4 1185.8,436.4C1188.6,435.4 1191.5,434.4 1194.3,433.4C1197.1,432.4 1200.0,431.5 1202.8,430.6C1205.7,429.7 1208.6,428.8 1211.4,427.9C1214.3,427.0 1217.2,426.2 1220.1,425.4C1223.0,424.6 1225.9,423.8 1228.8,423.0C1231.7,422.2 1234.6,421.5 1237.5,420.7C1240.4,419.9 1243.3,419.2 1246.2,418.5C1249.1,417.7 1252.0,417.0 1254.9,416.3C1257.8,415.5 1260.8,414.8 1263.7,414.1C1266.6,413.4 1269.5,412.7 1272.5,412.1C1275.4,411.4 1278.3,410.7 1281.2,410.0C1284.2,409.4 1287.1,408.7 1290.0,408.1C1293.0,407.4 1295.9,406.7 1298.8,406.1C1301.8,405.4 1304.7,404.8 1307.6,404.1C1310.5,403.5 1313.5,402.8 1316.4,402.2C1319.3,401.5 1322.3,400.8 1325.2,400.2C1328.1,399.5 1331.1,398.8 1334.0,398.1C1336.9,397.5 1339.8,396.8 1342.7,396.1C1345.7,395.4 1348.6,394.7 1351.5,394.0C1354.4,393.3 1357.4,392.6 1360.3,391.8C1363.2,391.1 1366.1,390.4 1369.0,389.7C1371.9,389.0 1374.9,388.3 1377.8,387.6C1380.7,386.8 1383.6,386.1 1386.5,385.4C1389.4,384.7 1392.3,384.0 1395.3,383.2C1398.2,382.5 1401.1,381.8 1404.0,381.1C1406.9,380.4 1409.9,379.8 1412.8,379.1C1415.7,378.4 1418.7,377.7 1421.6,377.1C1424.5,376.4 1427.4,375.8 1430.4,375.1C1433.3,374.5 1436.2,373.8 1439.2,373.1C1442.1,372.5 1445.0,371.8 1447.9,371.1C1450.9,370.4 1453.8,369.8 1456.7,369.0C1459.6,368.3 1462.5,367.6 1465.5,366.9C1468.4,366.2 1471.3,365.4 1474.2,364.7C1477.1,364.0 1480.0,363.3 1482.9,362.5C1485.9,361.8 1488.8,361.1 1491.7,360.4C1494.6,359.7 1497.5,359.0 1500.5,358.3C1503.4,357.6 1506.3,356.9 1509.2,356.2C1512.1,355.5 1515.1,354.8 1518.0,354.2C1520.9,353.5 1523.8,352.8 1526.8,352.0C1529.7,351.3 1532.6,350.6 1535.5,349.9C1538.4,349.1 1541.3,348.4 1544.2,347.6C1547.1,346.9 1550.0,346.1 1552.9,345.3C1555.8,344.6 1558.7,343.8 1561.6,343.0C1564.5,342.2 1567.4,341.5 1570.4,340.7C1573.3,340.0 1576.2,339.2 1579.1,338.5C1582.0,337.8 1584.9,337.1 1587.8,336.4C1590.8,335.8 1593.7,335.1 1596.6,334.5C1599.6,333.9 1602.5,333.3 1605.5,332.8C1608.4,332.2 1611.4,331.7 1614.3,331.2C1617.3,330.7 1620.3,330.2 1623.2,329.7C1626.2,329.3 1629.2,328.9 1632.1,328.5C1635.1,328.1 1638.1,327.7 1641.1,327.3C1644.0,327.0 1647.0,326.7 1650.0,326.4C1653.0,326.1 1656.0,325.8 1659.0,325.5C1662.0,325.2 1665.0,325.0 1668.0,324.7C1671.0,324.4 1673.9,324.2 1676.9,324.0C1679.9,323.7 1682.9,323.5 1685.9,323.2C1688.9,323.0 1691.9,322.8 1694.9,322.6C1697.9,322.4 1700.9,322.2 1703.9,322.0C1706.9,321.8 1709.9,321.6 1712.9,321.4C1715.9,321.2 1718.9,321.1 1721.9,320.9C1724.9,320.8 1727.9,320.6 1730.9,320.5C1733.9,320.4 1736.9,320.2 1739.9,320.1C1742.9,320.0 1745.9,319.9 1748.9,319.7C1751.9,319.6 1754.9,319.5 1757.9,319.4C1760.9,319.3 1763.9,319.2 1766.9,319.0C1769.9,318.9 1772.9,318.8 1775.9,318.7C1778.9,318.6 1781.9,318.4 1784.9,318.3C1787.9,318.2 1790.9,318.1 1793.9,317.9C1796.9,317.8 1799.9,317.7 1802.9,317.5C1805.9,317.4 1808.9,317.3 1811.9,317.1C1814.9,317.0 1817.9,316.9 1820.9,316.7C1823.9,316.6 1826.9,316.4 1829.9,316.3C1832.9,316.1 1835.9,316.0 1838.9,315.8C1841.9,315.7 1844.9,315.5 1847.9,315.4C1850.9,315.2 1853.9,315.0 1856.9,314.9C1859.9,314.7 1862.9,314.5 1865.9,314.3C1868.9,314.2 1871.9,314.0 1874.9,313.8C1877.9,313.6 1880.9,313.4 1883.9,313.2C1886.9,313.0 1889.9,312.8 1892.9,312.6C1895.9,312.4 1898.9,312.2 1901.9,311.9C1904.9,311.7 1907.9,311.5 1910.9,311.2C1913.9,311.0 1916.9,310.7 1919.9,310.5C1922.9,310.2 1925.8,309.9 1928.8,309.6C1931.8,309.4 1934.8,309.1 1937.8,308.8C1940.8,308.5 1943.8,308.1 1946.8,307.8C1949.8,307.5 1952.7,307.2 1955.7,306.8C1958.7,306.5 1961.7,306.1 1964.7,305.8C1967.7,305.4 1970.6,305.0 1973.6,304.6C1976.6,304.2 1979.6,303.9 1982.5,303.5C1985.5,303.0 1988.5,302.6 1991.5,302.2C1994.4,301.8 1997.4,301.4 2000.4,300.9C2003.4,300.5 2006.3,300.0 2009.3,299.5C2012.3,299.1 2015.2,298.6 2018.2,298.1C2021.1,297.6 2024.1,297.0 2027.0,296.5C2030.0,296.0 2033.0,295.4 2035.9,294.8C2038.8,294.3 2041.8,293.7 2044.7,293.1C2047.7,292.5 2050.6,291.9 2053.5,291.2C2056.5,290.6 2059.4,289.9 2062.3,289.2C2065.2,288.5 2068.1,287.8 2071.0,287.1C2074.0,286.4 2077.8,284.3 2079.8,284.9C2081.7,285.4 2082.2,287.7 2082.7,290.1C2083.2,292.5 2082.8,296.1 2082.8,299.1C2082.8,302.1 2082.8,305.2 2082.8,308.2C2082.8,311.2 2082.8,314.2 2082.8,317.2C2082.8,320.2 2082.8,323.2 2082.7,326.2C2082.7,329.2 2082.7,332.2 2082.6,335.2C2082.6,338.2 2082.5,341.2 2082.5,344.2C2082.4,347.3 2082.3,350.3 2082.2,353.3C2082.1,356.3 2082.0,359.3 2081.9,362.3C2081.8,365.3 2081.7,368.3 2081.6,371.3C2081.5,374.3 2081.3,377.3 2081.2,380.3C2081.0,383.3 2080.8,386.3 2080.6,389.3C2080.4,392.3 2080.2,395.3 2080.0,398.3C2079.7,401.3 2079.5,404.3 2079.2,407.3C2078.9,410.3 2078.7,413.3 2078.3,416.3C2078.0,419.3 2077.7,422.3 2077.4,425.2C2077.0,428.2 2076.7,431.2 2076.3,434.2C2076.0,437.2 2075.6,440.2 2075.2,443.2C2074.8,446.1 2074.4,449.1 2074.0,452.1C2073.6,455.1 2073.2,458.0 2072.7,461.0C2072.3,464.0 2071.8,467.0 2071.4,469.9C2070.9,472.9 2070.4,475.9 2069.9,478.8C2069.4,481.8 2068.9,484.8 2068.4,487.7C2067.9,490.7 2067.3,493.6 2066.8,496.6C2066.2,499.6 2065.7,502.5 2065.1,505.5C2064.5,508.4 2064.0,511.4 2063.4,514.3C2062.8,517.3 2062.2,520.2 2061.6,523.2C2061.0,526.1 2060.4,529.1 2059.7,532.0C2059.1,534.9 2058.4,537.9 2057.8,540.8C2057.1,543.7 2056.4,546.7 2055.7,549.6C2055.0,552.5 2054.3,555.4 2053.6,558.4C2052.9,561.3 2052.2,564.2 2051.5,567.1C2050.7,570.0 2050.0,573.0 2049.2,575.9C2048.5,578.8 2047.7,581.7 2047.0,584.6C2046.2,587.5 2045.4,590.4 2044.6,593.3C2043.8,596.2 2043.0,599.1 2042.2,602.0C2041.3,604.9 2040.5,607.8 2039.6,610.6C2038.8,613.5 2037.9,616.4 2037.0,619.3C2036.1,622.1 2035.1,625.0 2034.2,627.8C2033.2,630.7 2032.3,633.5 2031.3,636.4C2030.3,639.2 2029.3,642.0 2028.3,644.9C2027.2,647.7 2026.2,650.5 2025.1,653.3C2024.1,656.1 2023.0,658.9 2021.9,661.7C2020.8,664.5 2019.7,667.3 2018.5,670.1C2017.4,672.9 2016.3,675.7 2015.1,678.4C2013.9,681.2 2012.7,684.0 2011.5,686.7C2010.3,689.4 2009.0,692.2 2007.7,694.9C2006.4,697.6 2005.1,700.3 2003.7,702.9C2002.3,705.6 2000.9,708.2 1999.4,710.8C1998.0,713.4 1996.5,716.0 1994.9,718.6C1993.3,721.1 1991.7,723.6 1990.0,726.1C1988.3,728.5 1986.6,731.0 1984.8,733.3C1983.0,735.7 1981.1,738.1 1979.2,740.4C1977.3,742.7 1975.4,745.0 1973.4,747.2C1971.4,749.4 1969.4,751.7 1967.3,753.9C1965.3,756.1 1963.2,758.2 1961.2,760.4C1959.1,762.6 1957.0,764.7 1954.9,766.9C1952.8,769.0 1950.7,771.2 1948.5,773.3C1946.4,775.4 1944.2,777.5 1942.1,779.5C1939.9,781.6 1937.7,783.6 1935.4,785.6C1933.2,787.6 1930.9,789.6 1928.6,791.5C1926.3,793.4 1924.0,795.3 1921.6,797.1C1919.2,798.9 1916.8,800.7 1914.4,802.4C1911.9,804.1 1909.5,805.8 1907.0,807.4C1904.4,809.1 1901.9,810.7 1899.4,812.3C1896.8,813.8 1894.2,815.4 1891.6,816.9C1889.1,818.4 1886.5,819.9 1883.9,821.4C1881.3,822.9 1878.7,824.4 1876.0,825.9C1873.4,827.4 1870.8,828.8 1868.2,830.3C1865.6,831.7 1862.9,833.2 1860.3,834.6C1857.6,836.0 1854.9,837.4 1852.3,838.7C1849.6,840.1 1846.9,841.4 1844.2,842.7C1841.5,844.0 1838.7,845.2 1836.0,846.4C1833.2,847.6 1830.5,848.8 1827.7,850.0C1824.9,851.1 1822.1,852.2 1819.4,853.3C1816.6,854.4 1813.7,855.5 1810.9,856.5C1808.1,857.5 1805.3,858.6 1802.5,859.6C1799.6,860.6 1796.8,861.6 1794.0,862.6C1791.1,863.6 1788.3,864.7 1785.5,865.7C1782.7,866.7 1779.8,867.7 1777.0,868.7C1774.2,869.8 1771.4,870.8 1768.5,871.8C1765.7,872.8 1762.9,873.9 1760.1,874.8C1757.2,875.8 1754.4,876.8 1751.5,877.8C1748.7,878.8 1745.9,879.7 1743.0,880.7C1740.1,881.6 1737.3,882.6 1734.4,883.5C1731.6,884.4 1728.7,885.4 1725.8,886.3C1723.0,887.2 1720.1,888.1 1717.2,889.0C1714.4,889.9 1711.5,890.8 1708.6,891.7C1705.8,892.6 1702.9,893.4 1700.0,894.3C1697.1,895.2 1694.2,896.0 1691.3,896.8C1688.5,897.7 1685.6,898.5 1682.7,899.3C1679.8,900.1 1676.9,901.0 1674.0,901.8C1671.1,902.6 1668.2,903.4 1665.3,904.1C1662.4,904.9 1659.5,905.7 1656.6,906.5C1653.7,907.3 1650.8,908.0 1647.8,908.8C1644.9,909.6 1642.0,910.4 1639.1,911.1C1636.2,911.9 1633.3,912.7 1630.4,913.5C1627.5,914.2 1624.6,915.0 1621.7,915.8C1618.8,916.6 1615.9,917.4 1613.0,918.2C1610.1,919.0 1607.2,919.8 1604.3,920.6C1601.4,921.4 1598.5,922.2 1595.6,923.1C1592.7,923.9 1589.8,924.7 1586.9,925.6C1584.1,926.4 1581.2,927.3 1578.3,928.1C1575.4,929.0 1572.5,929.8 1569.7,930.7C1566.8,931.6 1563.9,932.5 1561.0,933.4C1558.2,934.3 1555.3,935.2 1552.4,936.1C1549.6,937.0 1546.7,937.9 1543.8,938.8C1541.0,939.8 1538.1,940.7 1535.3,941.6C1532.4,942.6 1529.6,943.5 1526.7,944.5C1523.8,945.4 1521.0,946.4 1518.1,947.3C1515.3,948.3 1512.4,949.3 1509.6,950.2C1506.7,951.2 1503.9,952.1 1501.0,953.0C1498.2,954.0 1495.3,954.9 1492.4,955.9C1489.6,956.8 1486.7,957.7 1483.9,958.6C1481.0,959.6 1478.1,960.5 1475.3,961.4C1472.4,962.3 1469.5,963.2 1466.7,964.1C1463.8,965.0 1460.9,965.9 1458.1,966.8C1455.2,967.7 1452.3,968.6 1449.5,969.6C1446.6,970.5 1443.7,971.4 1440.9,972.3C1438.0,973.2 1435.2,974.2 1432.3,975.1C1429.5,976.1 1426.6,977.0 1423.8,978.0C1420.9,979.0 1418.1,980.0 1415.3,981.0C1412.4,982.1 1409.6,983.1 1406.8,984.1C1404.0,985.2 1401.2,986.3 1398.4,987.4C1395.6,988.5 1392.8,989.6 1390.0,990.7C1387.2,991.8 1384.4,993.0 1381.7,994.1C1378.9,995.3 1376.1,996.5 1373.3,997.6C1370.6,998.8 1367.8,1000.0 1365.0,1001.1C1362.2,1002.3 1359.5,1003.4 1356.7,1004.6C1353.9,1005.7 1351.1,1006.9 1348.4,1008.0C1345.6,1009.1 1342.8,1010.3 1340.0,1011.4C1337.2,1012.5 1334.4,1013.6 1331.6,1014.8C1328.9,1015.9 1326.1,1017.1 1323.3,1018.3C1320.6,1019.4 1317.8,1020.6 1315.1,1021.9C1312.3,1023.1 1309.6,1024.4 1306.9,1025.6C1304.2,1026.9 1301.5,1028.3 1298.8,1029.6C1296.1,1030.9 1293.4,1032.3 1290.8,1033.7C1288.1,1035.1 1285.5,1036.5 1282.8,1037.9C1280.2,1039.3 1277.5,1040.8 1274.9,1042.2C1272.2,1043.7 1269.6,1045.1 1267.0,1046.6C1264.4,1048.0 1261.7,1049.5 1259.1,1051.0C1256.5,1052.4 1253.9,1053.9 1251.2,1055.4C1248.6,1056.9 1246.0,1058.3 1243.4,1059.8C1240.7,1061.3 1238.1,1062.8 1235.5,1064.2C1232.9,1065.7 1230.3,1067.2 1227.7,1068.7C1225.1,1070.2 1222.4,1071.7 1219.8,1073.2C1217.2,1074.7 1214.6,1076.2 1212.1,1077.7C1209.5,1079.3 1206.9,1080.8 1204.3,1082.4C1201.7,1083.9 1199.2,1085.5 1196.6,1087.1C1194.1,1088.7 1191.6,1090.3 1189.0,1091.9C1186.5,1093.6 1184.0,1095.3 1181.6,1096.9C1179.1,1098.6 1176.6,1100.4 1174.2,1102.1C1171.7,1103.8 1169.3,1105.6 1166.8,1107.4C1164.4,1109.1 1162.0,1110.9 1159.6,1112.7C1157.1,1114.5 1154.7,1116.2 1152.3,1118.0C1149.9,1119.8 1147.4,1121.6 1145.0,1123.3C1142.6,1125.1 1140.1,1126.8 1137.7,1128.6C1135.2,1130.3 1132.8,1132.1 1130.3,1133.8C1127.8,1135.5 1125.4,1137.3 1122.9,1139.0C1120.4,1140.7 1118.0,1142.4 1115.5,1144.1C1113.0,1145.8 1110.5,1147.5 1108.0,1149.1C1105.5,1150.8 1103.0,1152.5 1100.5,1154.1C1098.0,1155.8 1095.4,1157.4 1092.9,1159.0C1090.4,1160.7 1087.9,1162.3 1085.4,1163.9C1082.8,1165.6 1080.3,1167.2 1077.8,1168.9C1075.3,1170.5 1072.8,1172.2 1070.3,1173.8C1067.8,1175.5 1065.3,1177.2 1062.8,1178.8C1060.3,1180.5 1057.8,1182.2 1055.3,1183.9C1052.8,1185.6 1050.4,1187.3 1047.9,1189.1C1045.4,1190.8 1043.0,1192.5 1040.5,1194.2C1038.0,1196.0 1035.6,1197.7 1033.1,1199.4C1030.7,1201.2 1028.2,1202.9 1025.8,1204.7C1023.3,1206.4 1020.9,1208.2 1018.5,1209.9C1016.0,1211.7 1013.6,1213.5 1011.2,1215.2C1008.7,1217.0 1006.3,1218.8 1003.9,1220.5C1001.4,1222.3 999.0,1224.1 996.6,1225.9C994.1,1227.6 991.7,1229.4 989.3,1231.2C986.9,1233.0 984.4,1234.8 982.0,1236.5C979.6,1238.3 977.2,1240.1 974.7,1241.9C972.3,1243.6 969.9,1245.4 967.4,1247.1C965.0,1248.9 962.5,1250.6 960.1,1252.4C957.6,1254.1 955.1,1255.8 952.7,1257.5C950.2,1259.2 947.7,1260.9 945.2,1262.5C942.7,1264.2 940.1,1265.8 937.6,1267.4C935.1,1269.0 932.5,1270.6 930.0,1272.2C927.4,1273.8 924.8,1275.4 922.3,1276.9C919.7,1278.5 917.1,1280.0 914.5,1281.5C911.9,1283.0 909.3,1284.5 906.7,1286.0C904.1,1287.5 901.4,1288.9 898.8,1290.4C896.2,1291.9 893.5,1293.3 890.9,1294.7C888.3,1296.2 885.6,1297.6 882.9,1299.0C880.3,1300.4 877.6,1301.8 874.9,1303.1C872.3,1304.5 869.6,1305.8 866.9,1307.1C864.1,1308.4 861.4,1309.6 858.7,1310.8C855.9,1312.0 853.2,1313.2 850.4,1314.2C847.6,1315.3 844.8,1316.4 842.0,1317.3C839.1,1318.3 836.3,1319.2 833.4,1320.0C830.6,1320.8 827.7,1321.6 824.7,1322.3C821.8,1323.0 818.9,1323.6 816.0,1324.2C813.0,1324.7 810.1,1325.2 807.1,1325.7C804.2,1326.1 801.2,1326.5 798.2,1326.8C795.2,1327.2 792.3,1327.4 789.3,1327.6C786.3,1327.8 783.3,1328.0 780.3,1328.1C777.3,1328.2 774.3,1328.2 771.3,1328.2C768.3,1328.2 765.3,1328.1 762.3,1328.0C759.3,1327.9 756.3,1327.7 753.3,1327.5C750.4,1327.3 747.4,1327.0 744.4,1326.7C741.4,1326.4 738.4,1326.0 735.5,1325.6C732.5,1325.2 729.5,1324.7 726.6,1324.2C723.6,1323.7 720.6,1323.2 717.7,1322.6C714.8,1322.0 711.8,1321.4 708.9,1320.8C706.0,1320.1 703.0,1319.4 700.1,1318.7C697.2,1318.0 694.3,1317.3 691.4,1316.5C688.5,1315.7 685.6,1315.0 682.7,1314.2C679.8,1313.4 676.9,1312.6 674.0,1311.8C671.1,1311.0 668.2,1310.2 665.3,1309.4C662.4,1308.6 659.5,1307.8 656.5,1307.1C653.6,1306.3 650.7,1305.5 647.8,1304.8C644.9,1304.0 642.0,1303.2 639.1,1302.5C636.2,1301.7 633.3,1301.0 630.4,1300.2C627.5,1299.5 624.5,1298.7 621.6,1297.9C618.7,1297.2 615.8,1296.4 612.9,1295.6C610.0,1294.9 607.1,1294.1 604.2,1293.3C601.3,1292.6 598.4,1291.8 595.5,1291.1C592.6,1290.4 589.6,1289.7 586.7,1289.0C583.8,1288.3 580.9,1287.7 577.9,1287.0C575.0,1286.4 572.0,1285.8 569.1,1285.2C566.1,1284.7 563.2,1284.1 560.2,1283.6C557.3,1283.0 554.3,1282.5 551.3,1282.0C548.4,1281.6 545.4,1281.0 542.4,1280.7C539.5,1280.3 536.5,1280.0 533.5,1279.8C530.5,1279.6 527.5,1279.5 524.6,1279.5C521.6,1279.5 518.6,1279.6 515.6,1279.8C512.6,1279.9 509.6,1280.1 506.6,1280.4C503.6,1280.6 500.6,1281.0 497.6,1281.3C494.6,1281.6 491.6,1282.0 488.6,1282.4C485.6,1282.8 482.6,1283.2 479.6,1283.5C476.6,1283.9 473.6,1284.3 470.6,1284.6C467.6,1285.0 464.6,1285.3 461.6,1285.5C458.5,1285.8 455.5,1286.1 452.5,1286.2C449.5,1286.4 446.5,1286.5 443.5,1286.6C440.5,1286.6 436.0,1286.5 434.5,1286.5" stroke-width="3.6" stroke-opacity="0.95"/><path d="M435.9,1190.0C435.9,1188.5 436.1,1184.0 436.2,1181.0C436.4,1178.0 436.5,1175.0 436.6,1172.0C436.7,1169.0 436.9,1166.0 437.0,1163.0C437.1,1160.0 437.3,1156.9 437.4,1153.9C437.5,1150.9 437.7,1147.9 437.8,1144.9C437.9,1141.9 438.1,1138.9 438.2,1135.9C438.4,1132.9 438.5,1129.9 438.6,1126.9C438.8,1123.9 438.9,1120.9 439.1,1117.9C439.2,1114.9 439.4,1111.9 439.5,1108.9C439.7,1105.9 439.8,1102.9 440.0,1099.9C440.2,1096.9 440.3,1093.9 440.5,1090.9C440.7,1087.9 440.9,1084.9 441.1,1081.9C441.3,1078.9 441.5,1075.9 441.8,1072.9C442.0,1069.9 442.2,1066.9 442.5,1063.9C442.7,1060.9 443.0,1057.9 443.2,1054.9C443.5,1051.9 443.7,1048.9 444.0,1045.9C444.2,1042.9 444.5,1039.9 444.7,1036.9C445.0,1033.9 445.3,1030.9 445.5,1027.9C445.8,1024.9 446.1,1021.9 446.3,1018.9C446.6,1015.9 446.9,1012.9 447.1,1010.0C447.4,1007.0 447.7,1004.0 448.0,1001.0C448.3,998.0 448.6,995.0 448.9,992.0C449.2,989.0 449.6,986.0 449.9,983.0C450.2,980.0 450.6,977.1 451.0,974.1C451.3,971.1 451.7,968.1 452.1,965.1C452.5,962.2 452.9,959.2 453.4,956.2C453.8,953.2 454.3,950.3 454.7,947.3C455.2,944.3 455.7,941.4 456.2,938.4C456.7,935.4 457.3,932.5 457.8,929.5C458.3,926.6 458.9,923.6 459.4,920.6C459.9,917.7 460.5,914.7 461.0,911.8C461.6,908.8 462.1,905.9 462.6,902.9C463.2,899.9 463.7,897.0 464.2,894.0C464.7,891.1 465.2,888.1 465.7,885.1C466.2,882.2 466.7,879.2 467.2,876.2C467.7,873.3 468.2,870.3 468.7,867.3C469.2,864.4 469.8,861.4 470.3,858.5C470.9,855.5 471.5,852.6 472.1,849.6C472.7,846.7 473.3,843.8 474.0,840.8C474.6,837.9 475.3,835.0 476.0,832.0C476.6,829.1 477.3,826.2 478.1,823.3C478.8,820.3 479.5,817.4 480.2,814.5C481.0,811.6 481.7,808.7 482.5,805.8C483.2,802.9 484.0,800.0 484.8,797.1C485.6,794.2 486.4,791.3 487.3,788.4C488.1,785.5 489.0,782.6 489.8,779.7C490.7,776.9 491.6,774.0 492.5,771.1C493.5,768.3 494.4,765.4 495.4,762.6C496.4,759.7 497.3,756.9 498.4,754.1C499.4,751.3 500.4,748.4 501.5,745.6C502.6,742.8 503.7,740.0 504.8,737.3C506.0,734.5 507.1,731.7 508.3,729.0C509.5,726.2 510.8,723.5 512.0,720.8C513.3,718.0 514.6,715.3 516.0,712.7C517.3,710.0 518.7,707.3 520.1,704.7C521.5,702.0 523.0,699.4 524.5,696.8C526.0,694.2 527.5,691.6 529.1,689.1C530.6,686.5 532.2,684.0 533.9,681.5C535.5,679.0 537.2,676.5 538.9,674.0C540.6,671.5 542.4,669.1 544.2,666.7C545.9,664.3 547.7,661.9 549.6,659.5C551.4,657.1 553.3,654.8 555.2,652.5C557.1,650.1 559.0,647.9 561.0,645.6C563.0,643.3 565.0,641.1 567.0,638.9C569.1,636.8 571.2,634.6 573.3,632.5C575.4,630.4 577.6,628.3 579.8,626.3C582.0,624.3 584.3,622.3 586.5,620.3C588.8,618.4 591.1,616.5 593.4,614.6C595.8,612.7 598.2,610.8 600.5,609.0C602.9,607.2 605.3,605.4 607.8,603.7C610.2,601.9 612.7,600.2 615.1,598.5C617.6,596.8 620.1,595.2 622.6,593.5C625.2,591.9 627.7,590.3 630.3,588.8C632.9,587.3 635.5,585.9 638.1,584.5C640.7,583.1 643.4,581.7 646.1,580.4C648.8,579.2 651.6,578.0 654.3,576.8C657.1,575.7 659.9,574.6 662.7,573.6C665.5,572.6 668.3,571.7 671.2,570.7C674.0,569.8 676.9,569.0 679.8,568.1C682.7,567.3 685.6,566.5 688.5,565.8C691.4,565.0 694.3,564.3 697.2,563.5C700.1,562.8 703.1,562.1 706.0,561.5C708.9,560.8 711.8,560.1 714.8,559.5C717.7,558.9 720.7,558.3 723.6,557.7C726.6,557.1 729.5,556.6 732.5,556.1C735.4,555.6 738.4,555.1 741.4,554.7C744.3,554.3 747.3,553.9 750.3,553.5C753.3,553.1 756.3,552.8 759.2,552.5C762.2,552.1 765.2,551.8 768.2,551.5C771.2,551.2 774.2,550.9 777.2,550.6C780.2,550.3 783.2,550.0 786.1,549.7C789.1,549.4 792.1,549.1 795.1,548.7C798.1,548.4 801.1,548.0 804.1,547.7C807.1,547.3 810.0,547.0 813.0,546.6C816.0,546.2 819.0,545.9 822.0,545.5C825.0,545.1 828.0,544.8 830.9,544.4C833.9,544.0 836.9,543.7 839.9,543.3C842.9,542.9 845.9,542.6 848.8,542.2C851.8,541.8 854.8,541.5 857.8,541.1C860.8,540.7 863.8,540.3 866.7,539.9C869.7,539.5 872.7,539.1 875.7,538.7C878.6,538.2 881.6,537.8 884.6,537.3C887.6,536.9 890.5,536.4 893.5,535.9C896.5,535.4 899.4,534.9 902.4,534.3C905.3,533.8 908.3,533.2 911.2,532.6C914.2,532.1 917.1,531.5 920.1,530.8C923.0,530.2 925.9,529.6 928.9,528.9C931.8,528.3 934.7,527.6 937.7,526.9C940.6,526.3 943.5,525.6 946.4,524.9C949.4,524.1 952.3,523.4 955.2,522.7C958.1,522.0 961.0,521.2 964.0,520.5C966.9,519.7 969.8,519.0 972.7,518.2C975.6,517.4 978.5,516.6 981.4,515.8C984.3,515.0 987.2,514.2 990.0,513.3C992.9,512.5 995.8,511.6 998.6,510.7C1001.5,509.8 1004.4,508.8 1007.2,507.8C1010.0,506.9 1012.9,505.9 1015.7,504.9C1018.5,503.9 1021.4,502.9 1024.2,501.8C1027.0,500.8 1029.8,499.7 1032.6,498.7C1035.5,497.7 1038.3,496.6 1041.1,495.5C1043.9,494.5 1046.7,493.5 1049.6,492.4C1052.4,491.4 1055.2,490.3 1058.0,489.2C1060.8,488.2 1063.6,487.1 1066.5,486.1C1069.3,485.0 1072.1,484.0 1074.9,482.9C1077.7,481.8 1080.5,480.7 1083.3,479.6C1086.1,478.5 1088.9,477.4 1091.7,476.3C1094.5,475.2 1097.3,474.1 1100.1,472.9C1102.8,471.8 1105.6,470.7 1108.4,469.5C1111.2,468.4 1113.9,467.2 1116.7,466.0C1119.5,464.9 1122.2,463.7 1125.0,462.5C1127.8,461.3 1130.5,460.1 1133.3,459.0C1136.1,457.8 1138.8,456.6 1141.6,455.5C1144.4,454.3 1147.2,453.2 1150.0,452.1C1152.7,451.0 1155.5,449.9 1158.3,448.8C1161.1,447.7 1163.9,446.6 1166.7,445.5C1169.5,444.4 1172.4,443.4 1175.2,442.3C1178.0,441.3 1180.8,440.2 1183.6,439.2C1186.4,438.2 1189.3,437.2 1192.1,436.2C1194.9,435.2 1197.8,434.2 1200.6,433.3C1203.5,432.4 1206.4,431.5 1209.2,430.7C1212.1,429.8 1215.0,429.0 1217.9,428.2C1220.8,427.4 1223.7,426.7 1226.6,425.9C1229.5,425.2 1232.5,424.5 1235.4,423.8C1238.3,423.1 1241.2,422.4 1244.1,421.7C1247.1,421.0 1250.0,420.4 1252.9,419.7C1255.9,419.0 1258.8,418.4 1261.7,417.7C1264.7,417.1 1267.6,416.4 1270.5,415.8C1273.5,415.1 1276.4,414.5 1279.4,413.9C1282.3,413.3 1285.2,412.7 1288.2,412.0C1291.1,411.4 1294.1,410.8 1297.0,410.2C1300.0,409.6 1302.9,409.0 1305.9,408.4C1308.8,407.8 1311.7,407.2 1314.7,406.6C1317.6,405.9 1320.6,405.3 1323.5,404.7C1326.5,404.1 1329.4,403.4 1332.3,402.8C1335.3,402.1 1338.2,401.5 1341.1,400.8C1344.1,400.1 1347.0,399.4 1349.9,398.8C1352.8,398.1 1355.8,397.4 1358.7,396.7C1361.6,396.0 1364.5,395.4 1367.5,394.7C1370.4,394.0 1373.3,393.3 1376.3,392.6C1379.2,391.9 1382.1,391.2 1385.0,390.6C1388.0,389.9 1390.9,389.2 1393.8,388.5C1396.7,387.8 1399.7,387.2 1402.6,386.5C1405.5,385.8 1408.5,385.2 1411.4,384.5C1414.3,383.9 1417.3,383.3 1420.2,382.7C1423.2,382.0 1426.1,381.4 1429.0,380.8C1432.0,380.2 1434.9,379.6 1437.9,379.0C1440.8,378.4 1443.8,377.7 1446.7,377.1C1449.6,376.5 1452.6,375.8 1455.5,375.2C1458.4,374.5 1461.4,373.8 1464.3,373.2C1467.2,372.5 1470.1,371.8 1473.1,371.1C1476.0,370.4 1478.9,369.7 1481.8,369.1C1484.8,368.4 1487.7,367.7 1490.6,367.0C1493.6,366.4 1496.5,365.7 1499.4,365.1C1502.4,364.4 1505.3,363.8 1508.2,363.1C1511.2,362.5 1514.1,361.8 1517.0,361.2C1520.0,360.5 1522.9,359.8 1525.8,359.2C1528.8,358.5 1531.7,357.8 1534.6,357.1C1537.5,356.4 1540.4,355.6 1543.4,354.9C1546.3,354.1 1549.2,353.4 1552.1,352.6C1555.0,351.9 1557.9,351.1 1560.8,350.4C1563.7,349.6 1566.6,348.9 1569.6,348.2C1572.5,347.4 1575.4,346.7 1578.3,346.0C1581.2,345.3 1584.2,344.6 1587.1,344.0C1590.0,343.3 1593.0,342.7 1595.9,342.1C1598.9,341.5 1601.8,340.9 1604.8,340.3C1607.7,339.7 1610.7,339.2 1613.6,338.6C1616.6,338.1 1619.5,337.6 1622.5,337.1C1625.5,336.6 1628.4,336.2 1631.4,335.7C1634.4,335.3 1637.4,334.9 1640.3,334.5C1643.3,334.1 1646.3,333.8 1649.3,333.4C1652.3,333.1 1655.3,332.8 1658.3,332.5C1661.2,332.2 1664.2,331.9 1667.2,331.6C1670.2,331.3 1673.2,331.1 1676.2,330.8C1679.2,330.6 1682.2,330.3 1685.2,330.1C1688.2,329.8 1691.2,329.6 1694.2,329.4C1697.2,329.1 1700.2,328.9 1703.2,328.7C1706.2,328.5 1709.2,328.3 1712.2,328.1C1715.2,327.9 1718.2,327.7 1721.2,327.5C1724.2,327.3 1727.2,327.2 1730.2,327.0C1733.2,326.9 1736.2,326.7 1739.2,326.6C1742.2,326.4 1745.2,326.3 1748.2,326.1C1751.2,326.0 1754.2,325.9 1757.2,325.7C1760.2,325.6 1763.2,325.5 1766.2,325.3C1769.3,325.2 1772.3,325.0 1775.3,324.9C1778.3,324.8 1781.3,324.6 1784.3,324.5C1787.3,324.4 1790.3,324.2 1793.3,324.1C1796.3,323.9 1799.3,323.8 1802.3,323.7C1805.3,323.5 1808.3,323.4 1811.3,323.2C1814.3,323.1 1817.3,323.0 1820.3,322.8C1823.3,322.7 1826.3,322.5 1829.3,322.4C1832.3,322.3 1835.3,322.1 1838.3,322.0C1841.3,321.8 1844.4,321.6 1847.4,321.5C1850.4,321.3 1853.4,321.2 1856.4,321.0C1859.4,320.8 1862.4,320.6 1865.4,320.5C1868.4,320.3 1871.4,320.1 1874.4,319.9C1877.4,319.7 1880.4,319.5 1883.4,319.3C1886.4,319.1 1889.4,318.8 1892.4,318.6C1895.4,318.4 1898.4,318.2 1901.4,317.9C1904.4,317.7 1907.4,317.4 1910.3,317.1C1913.3,316.9 1916.3,316.6 1919.3,316.3C1922.3,316.0 1925.3,315.7 1928.3,315.4C1931.3,315.1 1934.3,314.7 1937.3,314.4C1940.3,314.1 1943.2,313.7 1946.2,313.4C1949.2,313.0 1952.2,312.7 1955.2,312.3C1958.2,311.9 1961.2,311.6 1964.1,311.2C1967.1,310.8 1970.1,310.4 1973.1,310.0C1976.1,309.7 1979.1,309.3 1982.0,308.9C1985.0,308.5 1988.0,308.1 1991.0,307.6C1993.9,307.2 1996.9,306.8 1999.9,306.4C2002.9,305.9 2005.8,305.5 2008.8,305.0C2011.8,304.5 2014.7,304.0 2017.7,303.5C2020.7,303.0 2023.6,302.5 2026.6,302.0C2029.5,301.4 2032.5,300.9 2035.4,300.3C2038.4,299.7 2041.3,299.1 2044.3,298.5C2047.2,297.9 2050.2,297.3 2053.1,296.6C2056.0,295.9 2058.9,295.3 2061.8,294.6C2064.8,293.8 2067.7,293.1 2070.6,292.3C2073.5,291.6 2077.3,289.5 2079.2,290.0C2081.2,290.5 2081.7,292.9 2082.2,295.2C2082.6,297.6 2082.2,301.3 2082.2,304.3C2082.2,307.3 2082.2,310.3 2082.2,313.3C2082.1,316.3 2082.1,319.3 2082.1,322.3C2082.1,325.3 2082.0,328.3 2082.0,331.3C2082.0,334.3 2081.9,337.3 2081.9,340.3C2081.8,343.3 2081.7,346.3 2081.7,349.3C2081.6,352.3 2081.5,355.3 2081.4,358.3C2081.3,361.3 2081.2,364.4 2081.1,367.4C2080.9,370.4 2080.8,373.4 2080.7,376.4C2080.5,379.4 2080.3,382.4 2080.1,385.4C2080.0,388.4 2079.8,391.4 2079.5,394.3C2079.3,397.3 2079.1,400.3 2078.8,403.3C2078.5,406.3 2078.2,409.3 2077.9,412.3C2077.6,415.3 2077.3,418.3 2076.9,421.3C2076.6,424.2 2076.3,427.2 2075.9,430.2C2075.5,433.2 2075.1,436.2 2074.7,439.1C2074.4,442.1 2074.0,445.1 2073.5,448.1C2073.1,451.1 2072.7,454.0 2072.3,457.0C2071.8,460.0 2071.4,462.9 2070.9,465.9C2070.4,468.9 2070.0,471.8 2069.5,474.8C2069.0,477.8 2068.4,480.7 2067.9,483.7C2067.4,486.7 2066.9,489.6 2066.3,492.6C2065.8,495.5 2065.2,498.5 2064.6,501.4C2064.0,504.4 2063.5,507.3 2062.9,510.3C2062.3,513.2 2061.7,516.1 2061.0,519.1C2060.4,522.0 2059.8,525.0 2059.1,527.9C2058.5,530.8 2057.8,533.8 2057.1,536.7C2056.4,539.6 2055.7,542.5 2055.0,545.5C2054.3,548.4 2053.6,551.3 2052.9,554.2C2052.1,557.1 2051.4,560.0 2050.6,562.9C2049.9,565.8 2049.1,568.8 2048.4,571.7C2047.6,574.6 2046.8,577.5 2046.0,580.4C2045.2,583.3 2044.4,586.1 2043.6,589.0C2042.7,591.9 2041.9,594.8 2041.0,597.7C2040.2,600.6 2039.3,603.4 2038.4,606.3C2037.5,609.2 2036.6,612.0 2035.7,614.9C2034.7,617.7 2033.8,620.6 2032.8,623.4C2031.9,626.3 2030.9,629.1 2029.9,632.0C2028.9,634.8 2027.9,637.6 2026.8,640.4C2025.8,643.3 2024.8,646.1 2023.7,648.9C2022.7,651.7 2021.6,654.5 2020.5,657.3C2019.5,660.1 2018.4,662.9 2017.2,665.7C2016.1,668.5 2015.0,671.3 2013.8,674.1C2012.7,676.8 2011.5,679.6 2010.3,682.3C2009.0,685.1 2007.8,687.8 2006.5,690.5C2005.2,693.2 2003.9,695.9 2002.5,698.6C2001.2,701.2 1999.8,703.9 1998.3,706.5C1996.8,709.1 1995.3,711.7 1993.8,714.2C1992.2,716.7 1990.6,719.2 1988.9,721.7C1987.2,724.1 1985.5,726.6 1983.6,728.9C1981.8,731.3 1980.0,733.6 1978.0,735.9C1976.1,738.1 1974.1,740.4 1972.1,742.6C1970.1,744.8 1968.0,746.9 1965.9,749.1C1963.8,751.3 1961.7,753.4 1959.6,755.5C1957.5,757.6 1955.3,759.7 1953.2,761.8C1951.0,763.9 1948.9,766.0 1946.7,768.1C1944.6,770.2 1942.4,772.3 1940.2,774.3C1938.0,776.3 1935.8,778.4 1933.5,780.3C1931.3,782.3 1929.0,784.3 1926.7,786.2C1924.4,788.1 1922.1,790.0 1919.7,791.8C1917.3,793.6 1914.9,795.4 1912.5,797.1C1910.1,798.8 1907.6,800.5 1905.1,802.2C1902.6,803.8 1900.0,805.4 1897.5,807.0C1894.9,808.6 1892.4,810.1 1889.8,811.6C1887.2,813.2 1884.6,814.7 1882.0,816.2C1879.4,817.7 1876.8,819.2 1874.2,820.7C1871.6,822.1 1869.0,823.6 1866.4,825.0C1863.7,826.5 1861.1,827.9 1858.4,829.3C1855.8,830.7 1853.1,832.0 1850.4,833.4C1847.7,834.7 1845.0,836.0 1842.3,837.3C1839.6,838.6 1836.9,839.8 1834.1,841.0C1831.4,842.3 1828.6,843.4 1825.9,844.6C1823.1,845.7 1820.3,846.9 1817.5,848.0C1814.7,849.1 1811.9,850.1 1809.1,851.2C1806.3,852.2 1803.5,853.3 1800.7,854.3C1797.8,855.3 1795.0,856.3 1792.2,857.4C1789.4,858.4 1786.6,859.4 1783.8,860.5C1780.9,861.5 1778.1,862.6 1775.3,863.6C1772.5,864.6 1769.7,865.7 1766.9,866.7C1764.0,867.7 1761.2,868.7 1758.4,869.7C1755.6,870.7 1752.7,871.7 1749.9,872.7C1747.0,873.6 1744.2,874.6 1741.3,875.5C1738.5,876.4 1735.6,877.4 1732.8,878.3C1729.9,879.2 1727.0,880.1 1724.2,881.0C1721.3,881.9 1718.4,882.8 1715.6,883.7C1712.7,884.6 1709.8,885.5 1707.0,886.4C1704.1,887.2 1701.2,888.1 1698.3,888.9C1695.4,889.8 1692.5,890.6 1689.7,891.5C1686.8,892.3 1683.9,893.1 1681.0,894.0C1678.1,894.8 1675.2,895.6 1672.3,896.4C1669.4,897.2 1666.5,898.0 1663.6,898.8C1660.7,899.6 1657.8,900.5 1655.0,901.3C1652.1,902.1 1649.2,902.9 1646.3,903.7C1643.4,904.5 1640.5,905.3 1637.6,906.1C1634.7,906.9 1631.8,907.7 1628.9,908.6C1626.0,909.4 1623.1,910.2 1620.2,911.0C1617.3,911.8 1614.4,912.7 1611.6,913.5C1608.7,914.3 1605.8,915.1 1602.9,916.0C1600.0,916.8 1597.1,917.6 1594.2,918.4C1591.3,919.3 1588.4,920.1 1585.6,921.0C1582.7,921.8 1579.8,922.6 1576.9,923.5C1574.0,924.4 1571.2,925.2 1568.3,926.1C1565.4,927.0 1562.5,927.9 1559.7,928.8C1556.8,929.7 1553.9,930.6 1551.1,931.5C1548.2,932.4 1545.4,933.3 1542.5,934.3C1539.6,935.2 1536.8,936.2 1533.9,937.1C1531.1,938.1 1528.2,939.0 1525.4,940.0C1522.5,940.9 1519.7,941.9 1516.9,942.9C1514.0,943.8 1511.2,944.8 1508.3,945.7C1505.5,946.7 1502.6,947.7 1499.8,948.6C1496.9,949.5 1494.0,950.5 1491.2,951.4C1488.3,952.4 1485.5,953.3 1482.6,954.2C1479.8,955.1 1476.9,956.1 1474.0,957.0C1471.2,957.9 1468.3,958.8 1465.5,959.8C1462.6,960.7 1459.7,961.6 1456.9,962.5C1454.0,963.4 1451.2,964.4 1448.3,965.3C1445.4,966.2 1442.6,967.2 1439.7,968.1C1436.9,969.1 1434.0,970.0 1431.2,971.0C1428.4,972.0 1425.5,973.0 1422.7,974.0C1419.9,975.0 1417.0,976.0 1414.2,977.1C1411.4,978.1 1408.6,979.2 1405.8,980.3C1403.0,981.3 1400.2,982.4 1397.4,983.6C1394.6,984.7 1391.8,985.8 1389.1,986.9C1386.3,988.1 1383.5,989.2 1380.7,990.4C1378.0,991.6 1375.2,992.7 1372.4,993.9C1369.7,995.1 1366.9,996.3 1364.1,997.4C1361.4,998.6 1358.6,999.7 1355.8,1000.9C1353.0,1002.0 1350.3,1003.2 1347.5,1004.3C1344.7,1005.5 1341.9,1006.6 1339.1,1007.7C1336.4,1008.9 1333.6,1010.0 1330.8,1011.2C1328.1,1012.4 1325.3,1013.5 1322.6,1014.8C1319.8,1016.0 1317.1,1017.2 1314.4,1018.5C1311.7,1019.8 1309.0,1021.1 1306.3,1022.4C1303.6,1023.7 1300.9,1025.1 1298.2,1026.5C1295.6,1027.8 1292.9,1029.2 1290.3,1030.6C1287.6,1032.1 1285.0,1033.5 1282.3,1034.9C1279.7,1036.3 1277.0,1037.8 1274.4,1039.2C1271.8,1040.7 1269.1,1042.1 1266.5,1043.6C1263.9,1045.0 1261.3,1046.5 1258.6,1048.0C1256.0,1049.4 1253.4,1050.9 1250.8,1052.4C1248.1,1053.8 1245.5,1055.3 1242.9,1056.8C1240.3,1058.2 1237.7,1059.7 1235.0,1061.2C1232.4,1062.7 1229.8,1064.2 1227.2,1065.7C1224.6,1067.2 1222.0,1068.7 1219.4,1070.2C1216.8,1071.7 1214.2,1073.2 1211.6,1074.7C1209.1,1076.3 1206.5,1077.8 1203.9,1079.4C1201.4,1081.0 1198.8,1082.5 1196.3,1084.1C1193.7,1085.8 1191.2,1087.4 1188.7,1089.0C1186.2,1090.7 1183.7,1092.4 1181.3,1094.1C1178.8,1095.8 1176.3,1097.5 1173.9,1099.3C1171.5,1101.0 1169.0,1102.8 1166.6,1104.6C1164.2,1106.3 1161.7,1108.1 1159.3,1109.9C1156.9,1111.6 1154.5,1113.4 1152.0,1115.2C1149.6,1116.9 1147.2,1118.7 1144.7,1120.4C1142.3,1122.2 1139.8,1123.9 1137.4,1125.7C1134.9,1127.4 1132.5,1129.1 1130.0,1130.9C1127.5,1132.6 1125.1,1134.3 1122.6,1136.0C1120.1,1137.7 1117.6,1139.4 1115.1,1141.0C1112.6,1142.7 1110.1,1144.4 1107.6,1146.0C1105.1,1147.7 1102.6,1149.3 1100.0,1150.9C1097.5,1152.5 1095.0,1154.1 1092.4,1155.7C1089.9,1157.4 1087.4,1159.0 1084.8,1160.6C1082.3,1162.2 1079.7,1163.8 1077.2,1165.4C1074.7,1167.0 1072.2,1168.6 1069.6,1170.3C1067.1,1171.9 1064.6,1173.5 1062.1,1175.2C1059.6,1176.9 1057.1,1178.5 1054.6,1180.2C1052.1,1181.9 1049.6,1183.5 1047.1,1185.2C1044.6,1186.9 1042.1,1188.6 1039.7,1190.3C1037.2,1192.0 1034.7,1193.7 1032.2,1195.4C1029.8,1197.1 1027.3,1198.9 1024.8,1200.6C1022.4,1202.3 1019.9,1204.0 1017.5,1205.8C1015.0,1207.5 1012.5,1209.2 1010.1,1210.9C1007.6,1212.7 1005.2,1214.4 1002.7,1216.1C1000.3,1217.9 997.8,1219.6 995.4,1221.3C992.9,1223.1 990.4,1224.8 988.0,1226.5C985.5,1228.3 983.1,1230.0 980.6,1231.7C978.2,1233.5 975.7,1235.2 973.2,1236.9C970.8,1238.6 968.3,1240.4 965.8,1242.1C963.4,1243.8 960.9,1245.5 958.4,1247.1C955.9,1248.8 953.4,1250.5 950.9,1252.1C948.4,1253.8 945.9,1255.4 943.3,1257.0C940.8,1258.6 938.2,1260.2 935.7,1261.8C933.1,1263.3 930.5,1264.9 927.9,1266.4C925.4,1267.9 922.8,1269.4 920.1,1270.9C917.5,1272.4 914.9,1273.8 912.3,1275.3C909.6,1276.7 907.0,1278.1 904.3,1279.5C901.6,1280.9 899.0,1282.2 896.3,1283.6C893.6,1284.9 890.9,1286.3 888.2,1287.6C885.5,1288.9 882.8,1290.2 880.1,1291.5C877.4,1292.8 874.6,1294.0 871.9,1295.2C869.2,1296.5 866.4,1297.7 863.6,1298.8C860.9,1299.9 858.1,1301.1 855.3,1302.1C852.5,1303.1 849.7,1304.1 846.8,1305.0C844.0,1306.0 841.1,1306.8 838.3,1307.6C835.4,1308.4 832.5,1309.1 829.6,1309.8C826.7,1310.4 823.7,1311.0 820.8,1311.6C817.8,1312.1 814.9,1312.6 811.9,1313.0C809.0,1313.4 806.0,1313.8 803.0,1314.1C800.0,1314.5 797.1,1314.7 794.1,1315.0C791.1,1315.2 788.1,1315.4 785.1,1315.5C782.1,1315.6 779.1,1315.7 776.1,1315.8C773.1,1315.8 770.1,1315.8 767.1,1315.8C764.1,1315.7 761.1,1315.6 758.1,1315.5C755.1,1315.3 752.1,1315.2 749.1,1314.9C746.2,1314.7 743.2,1314.4 740.2,1314.1C737.2,1313.8 734.2,1313.4 731.3,1313.0C728.3,1312.6 725.3,1312.1 722.4,1311.6C719.4,1311.1 716.5,1310.6 713.5,1310.1C710.6,1309.5 707.6,1308.9 704.7,1308.3C701.7,1307.7 698.8,1307.0 695.9,1306.4C693.0,1305.7 690.0,1305.0 687.1,1304.3C684.2,1303.6 681.3,1302.9 678.3,1302.2C675.4,1301.5 672.5,1300.8 669.6,1300.1C666.7,1299.4 663.7,1298.7 660.8,1298.1C657.9,1297.4 654.9,1296.7 652.0,1296.1C649.1,1295.5 646.1,1294.8 643.2,1294.2C640.3,1293.6 637.3,1293.0 634.4,1292.4C631.4,1291.8 628.5,1291.2 625.5,1290.6C622.6,1290.0 619.7,1289.4 616.7,1288.8C613.8,1288.2 610.8,1287.6 607.9,1287.0C604.9,1286.4 602.0,1285.8 599.0,1285.3C596.1,1284.7 593.2,1284.2 590.2,1283.7C587.2,1283.2 584.3,1282.7 581.3,1282.2C578.3,1281.8 575.4,1281.3 572.4,1280.9C569.4,1280.5 566.5,1280.2 563.5,1279.8C560.5,1279.4 557.5,1279.1 554.5,1278.8C551.5,1278.5 548.5,1278.2 545.5,1277.9C542.6,1277.6 539.6,1277.4 536.6,1277.1C533.6,1276.9 530.6,1276.6 527.6,1276.4C524.6,1276.2 521.6,1275.9 518.6,1275.7C515.6,1275.5 512.6,1275.3 509.6,1275.1C506.6,1275.0 503.6,1274.8 500.6,1274.6C497.6,1274.4 494.6,1274.3 491.6,1274.1C488.6,1274.0 485.6,1273.8 482.6,1273.6C479.6,1273.5 476.6,1273.3 473.5,1273.2C470.5,1273.0 467.5,1272.9 464.5,1272.7C461.5,1272.6 458.5,1272.5 455.5,1272.3C452.5,1272.2 449.5,1272.1 446.5,1272.0C443.5,1271.8 439.5,1271.7 437.5,1271.6C435.5,1271.5 435.0,1271.5 434.5,1271.5" stroke-width="3.6" stroke-opacity="0.95"/><path d="M436.2,1190.0C436.3,1188.5 436.5,1184.0 436.7,1181.0C436.8,1178.0 437.0,1175.0 437.1,1172.0C437.3,1169.0 437.4,1166.0 437.6,1163.0C437.7,1160.0 437.9,1157.0 438.0,1154.0C438.2,1151.0 438.3,1148.0 438.5,1145.0C438.6,1142.0 438.8,1139.0 438.9,1136.0C439.1,1133.0 439.2,1130.0 439.4,1127.0C439.5,1124.0 439.7,1121.0 439.8,1118.0C440.0,1115.0 440.1,1112.0 440.3,1109.0C440.5,1106.0 440.6,1103.0 440.8,1100.0C441.0,1097.0 441.2,1094.0 441.4,1091.0C441.6,1088.0 441.8,1085.0 442.0,1082.0C442.2,1079.0 442.4,1076.0 442.7,1073.0C442.9,1070.0 443.2,1067.0 443.4,1064.0C443.7,1061.0 443.9,1058.0 444.2,1055.0C444.4,1052.0 444.7,1049.0 445.0,1046.0C445.2,1043.0 445.5,1040.1 445.7,1037.1C446.0,1034.1 446.3,1031.1 446.5,1028.1C446.8,1025.1 447.0,1022.1 447.3,1019.1C447.6,1016.1 447.8,1013.1 448.1,1010.1C448.4,1007.1 448.6,1004.1 448.9,1001.1C449.2,998.2 449.5,995.2 449.8,992.2C450.1,989.2 450.5,986.2 450.8,983.2C451.1,980.2 451.5,977.2 451.9,974.3C452.2,971.3 452.6,968.3 453.0,965.3C453.4,962.3 453.8,959.4 454.3,956.4C454.7,953.4 455.2,950.5 455.7,947.5C456.2,944.5 456.7,941.6 457.2,938.6C457.7,935.7 458.3,932.7 458.8,929.8C459.4,926.8 459.9,923.9 460.5,920.9C461.1,918.0 461.7,915.0 462.2,912.1C462.8,909.1 463.3,906.2 463.9,903.2C464.4,900.3 465.0,897.3 465.5,894.4C466.0,891.4 466.5,888.4 467.0,885.5C467.5,882.5 468.0,879.6 468.5,876.6C469.0,873.6 469.6,870.7 470.1,867.7C470.6,864.8 471.2,861.8 471.7,858.9C472.3,855.9 472.9,853.0 473.5,850.0C474.1,847.1 474.7,844.2 475.4,841.2C476.0,838.3 476.7,835.4 477.4,832.4C478.1,829.5 478.8,826.6 479.5,823.7C480.2,820.8 481.0,817.8 481.7,814.9C482.5,812.0 483.2,809.1 484.0,806.2C484.8,803.3 485.6,800.4 486.4,797.5C487.2,794.6 488.0,791.7 488.9,788.9C489.7,786.0 490.6,783.1 491.5,780.2C492.4,777.4 493.3,774.5 494.2,771.7C495.2,768.8 496.1,766.0 497.1,763.1C498.1,760.3 499.1,757.5 500.2,754.7C501.3,751.9 502.3,749.1 503.5,746.3C504.6,743.5 505.7,740.7 506.9,738.0C508.1,735.2 509.3,732.5 510.6,729.8C511.8,727.0 513.1,724.3 514.4,721.6C515.8,719.0 517.1,716.3 518.6,713.6C520.0,711.0 521.4,708.4 522.9,705.8C524.4,703.2 525.9,700.6 527.5,698.1C529.1,695.5 530.7,693.0 532.4,690.5C534.0,688.0 535.8,685.6 537.5,683.1C539.2,680.7 541.0,678.3 542.8,675.9C544.6,673.5 546.5,671.1 548.3,668.8C550.2,666.4 552.1,664.1 554.0,661.8C555.9,659.5 557.8,657.2 559.8,654.9C561.8,652.7 563.8,650.4 565.8,648.3C567.9,646.1 570.0,643.9 572.1,641.8C574.2,639.7 576.4,637.6 578.6,635.6C580.8,633.6 583.0,631.6 585.3,629.6C587.6,627.7 589.9,625.8 592.2,624.0C594.6,622.1 597.0,620.3 599.4,618.5C601.8,616.8 604.2,615.0 606.7,613.3C609.2,611.6 611.6,609.9 614.1,608.3C616.6,606.6 619.1,605.0 621.7,603.4C624.2,601.8 626.8,600.2 629.3,598.7C631.9,597.1 634.5,595.7 637.1,594.2C639.8,592.8 642.4,591.4 645.1,590.1C647.8,588.9 650.5,587.6 653.2,586.5C656.0,585.3 658.8,584.2 661.6,583.2C664.4,582.2 667.2,581.2 670.0,580.3C672.9,579.4 675.8,578.5 678.6,577.7C681.5,576.9 684.4,576.2 687.3,575.4C690.2,574.7 693.2,574.0 696.1,573.3C699.0,572.6 701.9,572.0 704.9,571.3C707.8,570.7 710.7,570.0 713.7,569.4C716.6,568.8 719.5,568.3 722.5,567.7C725.4,567.2 728.4,566.6 731.4,566.2C734.3,565.7 737.3,565.3 740.3,564.9C743.2,564.5 746.2,564.1 749.2,563.8C752.2,563.5 755.1,563.2 758.1,562.9C761.1,562.6 764.1,562.4 767.1,562.1C770.1,561.9 773.1,561.6 776.1,561.4C779.1,561.1 782.0,560.8 785.0,560.5C788.0,560.2 791.0,559.9 794.0,559.6C797.0,559.2 800.0,558.9 802.9,558.5C805.9,558.2 808.9,557.8 811.9,557.4C814.9,557.0 817.8,556.6 820.8,556.2C823.8,555.9 826.8,555.5 829.8,555.1C832.7,554.7 835.7,554.3 838.7,553.9C841.7,553.5 844.6,553.1 847.6,552.7C850.6,552.2 853.6,551.8 856.5,551.4C859.5,551.0 862.5,550.5 865.5,550.1C868.4,549.6 871.4,549.2 874.4,548.7C877.3,548.2 880.3,547.7 883.3,547.2C886.2,546.7 889.2,546.1 892.1,545.6C895.1,545.0 898.0,544.4 900.9,543.8C903.9,543.2 906.8,542.6 909.8,541.9C912.7,541.2 915.6,540.6 918.5,539.9C921.5,539.2 924.4,538.5 927.3,537.7C930.2,537.0 933.1,536.2 936.0,535.5C938.9,534.7 941.8,533.9 944.7,533.1C947.6,532.3 950.5,531.5 953.4,530.7C956.3,529.9 959.2,529.0 962.1,528.2C964.9,527.4 967.8,526.5 970.7,525.6C973.6,524.8 976.4,523.9 979.3,523.0C982.2,522.1 985.0,521.2 987.9,520.3C990.7,519.3 993.6,518.4 996.4,517.4C999.3,516.4 1002.1,515.4 1004.9,514.4C1007.8,513.4 1010.6,512.3 1013.4,511.3C1016.2,510.2 1019.0,509.1 1021.8,508.1C1024.6,507.0 1027.4,505.9 1030.2,504.8C1033.0,503.7 1035.8,502.6 1038.6,501.5C1041.4,500.4 1044.2,499.3 1047.0,498.2C1049.8,497.1 1052.6,496.0 1055.3,494.9C1058.1,493.8 1060.9,492.7 1063.7,491.5C1066.5,490.4 1069.3,489.3 1072.1,488.2C1074.9,487.1 1077.7,485.9 1080.4,484.8C1083.2,483.7 1086.0,482.5 1088.8,481.4C1091.5,480.2 1094.3,479.1 1097.1,477.9C1099.8,476.7 1102.6,475.5 1105.4,474.4C1108.1,473.2 1110.9,472.0 1113.6,470.8C1116.4,469.6 1119.1,468.3 1121.8,467.1C1124.6,465.9 1127.3,464.7 1130.1,463.5C1132.8,462.2 1135.6,461.0 1138.3,459.8C1141.1,458.6 1143.8,457.5 1146.6,456.3C1149.4,455.1 1152.1,454.0 1154.9,452.9C1157.7,451.7 1160.5,450.6 1163.3,449.5C1166.0,448.4 1168.8,447.3 1171.6,446.2C1174.4,445.1 1177.2,444.1 1180.0,443.0C1182.9,442.0 1185.7,440.9 1188.5,439.9C1191.3,438.9 1194.1,437.9 1197.0,437.0C1199.8,436.1 1202.7,435.2 1205.6,434.3C1208.4,433.5 1211.3,432.7 1214.2,431.9C1217.1,431.1 1220.0,430.4 1222.9,429.7C1225.9,429.0 1228.8,428.4 1231.7,427.7C1234.6,427.1 1237.6,426.5 1240.5,425.9C1243.5,425.2 1246.4,424.6 1249.3,424.0C1252.3,423.4 1255.2,422.8 1258.2,422.2C1261.1,421.6 1264.1,421.1 1267.0,420.5C1270.0,419.9 1272.9,419.3 1275.9,418.8C1278.8,418.2 1281.8,417.6 1284.7,417.1C1287.7,416.5 1290.6,416.0 1293.6,415.4C1296.5,414.9 1299.5,414.3 1302.4,413.8C1305.4,413.2 1308.3,412.7 1311.3,412.1C1314.2,411.6 1317.2,411.0 1320.1,410.4C1323.1,409.9 1326.0,409.3 1329.0,408.7C1331.9,408.1 1334.8,407.4 1337.8,406.8C1340.7,406.2 1343.6,405.5 1346.6,404.9C1349.5,404.2 1352.4,403.6 1355.4,402.9C1358.3,402.3 1361.2,401.6 1364.2,401.0C1367.1,400.4 1370.0,399.7 1373.0,399.1C1375.9,398.4 1378.8,397.8 1381.8,397.2C1384.7,396.5 1387.6,395.9 1390.5,395.2C1393.5,394.6 1396.4,394.0 1399.3,393.3C1402.3,392.7 1405.2,392.1 1408.2,391.5C1411.1,390.9 1414.0,390.3 1417.0,389.7C1419.9,389.1 1422.9,388.6 1425.8,388.0C1428.8,387.4 1431.7,386.9 1434.7,386.3C1437.6,385.8 1440.6,385.2 1443.5,384.7C1446.5,384.1 1449.4,383.5 1452.4,382.9C1455.3,382.3 1458.3,381.7 1461.2,381.1C1464.1,380.5 1467.1,379.9 1470.0,379.2C1472.9,378.6 1475.9,378.0 1478.8,377.3C1481.8,376.7 1484.7,376.1 1487.6,375.5C1490.6,374.9 1493.5,374.3 1496.5,373.7C1499.4,373.1 1502.3,372.5 1505.3,371.9C1508.2,371.3 1511.2,370.7 1514.1,370.1C1517.1,369.5 1520.0,368.9 1522.9,368.2C1525.9,367.6 1528.8,366.9 1531.7,366.2C1534.6,365.6 1537.6,364.9 1540.5,364.2C1543.4,363.5 1546.3,362.7 1549.2,362.0C1552.1,361.3 1555.1,360.6 1558.0,359.8C1560.9,359.1 1563.8,358.4 1566.7,357.7C1569.6,357.0 1572.6,356.3 1575.5,355.6C1578.4,354.9 1581.3,354.3 1584.3,353.6C1587.2,353.0 1590.1,352.3 1593.1,351.7C1596.0,351.1 1599.0,350.5 1601.9,349.9C1604.9,349.3 1607.8,348.7 1610.8,348.2C1613.7,347.6 1616.7,347.1 1619.6,346.5C1622.6,346.0 1625.5,345.5 1628.5,345.0C1631.5,344.5 1634.4,344.0 1637.4,343.6C1640.4,343.2 1643.3,342.8 1646.3,342.4C1649.3,342.0 1652.3,341.6 1655.3,341.3C1658.2,340.9 1661.2,340.6 1664.2,340.3C1667.2,340.0 1670.2,339.7 1673.2,339.4C1676.2,339.2 1679.2,338.9 1682.2,338.6C1685.2,338.4 1688.1,338.1 1691.1,337.9C1694.1,337.6 1697.1,337.4 1700.1,337.1C1703.1,336.9 1706.1,336.6 1709.1,336.4C1712.1,336.2 1715.1,336.0 1718.1,335.8C1721.1,335.5 1724.1,335.3 1727.1,335.2C1730.1,335.0 1733.1,334.8 1736.1,334.6C1739.1,334.4 1742.1,334.3 1745.1,334.1C1748.1,333.9 1751.1,333.8 1754.1,333.6C1757.1,333.4 1760.1,333.3 1763.1,333.1C1766.1,333.0 1769.1,332.8 1772.1,332.7C1775.1,332.5 1778.1,332.3 1781.1,332.2C1784.1,332.0 1787.1,331.9 1790.1,331.7C1793.1,331.6 1796.1,331.4 1799.1,331.3C1802.1,331.1 1805.1,331.0 1808.1,330.8C1811.1,330.7 1814.1,330.5 1817.1,330.4C1820.1,330.3 1823.1,330.1 1826.1,330.0C1829.1,329.8 1832.1,329.7 1835.1,329.5C1838.1,329.4 1841.1,329.3 1844.1,329.1C1847.1,328.9 1850.1,328.8 1853.1,328.6C1856.1,328.4 1859.1,328.3 1862.1,328.1C1865.1,327.9 1868.1,327.7 1871.1,327.5C1874.1,327.3 1877.1,327.1 1880.1,326.9C1883.1,326.7 1886.1,326.4 1889.1,326.2C1892.1,326.0 1895.1,325.7 1898.1,325.4C1901.1,325.2 1904.1,324.9 1907.1,324.6C1910.1,324.3 1913.1,324.0 1916.0,323.7C1919.0,323.4 1922.0,323.1 1925.0,322.7C1928.0,322.4 1931.0,322.0 1933.9,321.6C1936.9,321.3 1939.9,320.9 1942.9,320.5C1945.9,320.1 1948.9,319.8 1951.8,319.4C1954.8,319.0 1957.8,318.6 1960.8,318.2C1963.8,317.8 1966.7,317.4 1969.7,317.0C1972.7,316.6 1975.7,316.2 1978.6,315.8C1981.6,315.4 1984.6,315.0 1987.6,314.6C1990.6,314.2 1993.5,313.8 1996.5,313.4C1999.5,313.0 2002.5,312.6 2005.4,312.1C2008.4,311.7 2011.4,311.2 2014.3,310.7C2017.3,310.2 2020.2,309.7 2023.2,309.2C2026.1,308.6 2029.1,308.1 2032.0,307.5C2035.0,306.9 2037.9,306.4 2040.9,305.8C2043.8,305.1 2046.7,304.5 2049.7,303.9C2052.6,303.2 2055.5,302.5 2058.4,301.8C2061.3,301.1 2064.2,300.3 2067.1,299.6C2070.0,298.8 2073.4,297.3 2075.8,297.2C2078.1,297.0 2080.5,296.8 2081.5,298.5C2082.4,300.2 2081.5,304.5 2081.4,307.5C2081.4,310.5 2081.4,313.5 2081.4,316.5C2081.4,319.5 2081.3,322.5 2081.3,325.5C2081.2,328.5 2081.2,331.6 2081.2,334.6C2081.1,337.6 2081.0,340.6 2081.0,343.6C2080.9,346.6 2080.8,349.6 2080.8,352.6C2080.7,355.6 2080.6,358.6 2080.5,361.6C2080.4,364.6 2080.2,367.6 2080.1,370.6C2080.0,373.6 2079.8,376.6 2079.6,379.6C2079.5,382.6 2079.3,385.6 2079.1,388.6C2078.9,391.6 2078.7,394.6 2078.4,397.6C2078.1,400.5 2077.9,403.5 2077.6,406.5C2077.3,409.5 2077.0,412.5 2076.6,415.5C2076.3,418.5 2075.9,421.4 2075.5,424.4C2075.2,427.4 2074.8,430.4 2074.4,433.4C2074.0,436.3 2073.6,439.3 2073.2,442.3C2072.7,445.3 2072.3,448.2 2071.9,451.2C2071.4,454.2 2071.0,457.1 2070.5,460.1C2070.1,463.1 2069.6,466.0 2069.1,469.0C2068.6,472.0 2068.1,474.9 2067.6,477.9C2067.1,480.8 2066.5,483.8 2066.0,486.8C2065.4,489.7 2064.8,492.7 2064.3,495.6C2063.7,498.5 2063.1,501.5 2062.5,504.4C2061.9,507.4 2061.3,510.3 2060.6,513.3C2060.0,516.2 2059.3,519.1 2058.7,522.0C2058.0,525.0 2057.3,527.9 2056.6,530.8C2055.9,533.7 2055.2,536.7 2054.5,539.6C2053.8,542.5 2053.0,545.4 2052.3,548.3C2051.5,551.2 2050.8,554.1 2050.0,557.0C2049.2,559.9 2048.4,562.8 2047.6,565.7C2046.8,568.6 2046.0,571.5 2045.2,574.4C2044.3,577.3 2043.5,580.2 2042.6,583.0C2041.8,585.9 2040.9,588.8 2040.0,591.7C2039.1,594.5 2038.2,597.4 2037.3,600.2C2036.4,603.1 2035.4,605.9 2034.4,608.8C2033.5,611.6 2032.5,614.5 2031.5,617.3C2030.5,620.1 2029.5,623.0 2028.5,625.8C2027.5,628.6 2026.5,631.4 2025.4,634.3C2024.4,637.1 2023.4,639.9 2022.3,642.7C2021.3,645.5 2020.2,648.3 2019.2,651.2C2018.1,654.0 2017.0,656.8 2015.9,659.6C2014.8,662.4 2013.7,665.1 2012.6,667.9C2011.4,670.7 2010.3,673.5 2009.1,676.2C2007.9,679.0 2006.7,681.7 2005.4,684.4C2004.1,687.1 2002.8,689.8 2001.5,692.5C2000.1,695.2 1998.8,697.8 1997.3,700.4C1995.9,703.0 1994.4,705.6 1992.8,708.2C1991.3,710.7 1989.7,713.2 1988.0,715.7C1986.3,718.1 1984.6,720.5 1982.8,722.9C1980.9,725.2 1979.0,727.5 1977.1,729.8C1975.1,732.0 1973.1,734.2 1971.1,736.4C1969.0,738.5 1966.9,740.6 1964.8,742.7C1962.6,744.8 1960.4,746.9 1958.3,748.9C1956.1,751.0 1953.9,753.0 1951.7,755.1C1949.5,757.1 1947.3,759.2 1945.1,761.2C1942.9,763.3 1940.7,765.3 1938.5,767.3C1936.3,769.4 1934.1,771.4 1931.9,773.4C1929.6,775.3 1927.4,777.3 1925.1,779.2C1922.8,781.1 1920.4,783.0 1918.1,784.8C1915.7,786.6 1913.3,788.4 1910.9,790.2C1908.4,791.9 1906.0,793.6 1903.5,795.2C1901.0,796.9 1898.5,798.5 1895.9,800.1C1893.4,801.7 1890.8,803.3 1888.3,804.8C1885.7,806.3 1883.1,807.9 1880.5,809.4C1877.9,810.9 1875.3,812.4 1872.7,813.8C1870.1,815.3 1867.5,816.8 1864.9,818.2C1862.2,819.6 1859.6,821.0 1856.9,822.4C1854.3,823.8 1851.6,825.1 1848.9,826.5C1846.2,827.8 1843.5,829.1 1840.8,830.4C1838.1,831.7 1835.4,832.9 1832.6,834.1C1829.9,835.4 1827.1,836.6 1824.4,837.7C1821.6,838.9 1818.9,840.0 1816.1,841.1C1813.3,842.2 1810.5,843.3 1807.7,844.4C1804.9,845.5 1802.1,846.5 1799.3,847.6C1796.5,848.6 1793.7,849.6 1790.9,850.7C1788.1,851.7 1785.2,852.8 1782.4,853.8C1779.6,854.9 1776.8,856.0 1774.0,857.0C1771.2,858.1 1768.4,859.1 1765.6,860.1C1762.8,861.2 1760.0,862.2 1757.1,863.2C1754.3,864.1 1751.5,865.1 1748.6,866.1C1745.8,867.0 1742.9,868.0 1740.1,868.9C1737.2,869.8 1734.4,870.7 1731.5,871.6C1728.6,872.5 1725.8,873.4 1722.9,874.3C1720.0,875.2 1717.2,876.1 1714.3,877.0C1711.4,877.9 1708.6,878.7 1705.7,879.6C1702.8,880.5 1699.9,881.3 1697.0,882.2C1694.2,883.0 1691.3,883.8 1688.4,884.7C1685.5,885.5 1682.6,886.3 1679.7,887.2C1676.8,888.0 1674.0,888.8 1671.1,889.7C1668.2,890.5 1665.3,891.3 1662.4,892.2C1659.5,893.0 1656.6,893.9 1653.8,894.7C1650.9,895.6 1648.0,896.4 1645.1,897.3C1642.2,898.1 1639.4,899.0 1636.5,899.8C1633.6,900.7 1630.7,901.6 1627.8,902.4C1625.0,903.3 1622.1,904.1 1619.2,905.0C1616.3,905.8 1613.4,906.7 1610.6,907.5C1607.7,908.4 1604.8,909.2 1601.9,910.1C1599.0,910.9 1596.1,911.8 1593.3,912.6C1590.4,913.4 1587.5,914.3 1584.6,915.1C1581.7,916.0 1578.8,916.8 1576.0,917.7C1573.1,918.5 1570.2,919.4 1567.3,920.2C1564.5,921.1 1561.6,922.0 1558.7,922.9C1555.9,923.8 1553.0,924.7 1550.1,925.6C1547.3,926.6 1544.4,927.5 1541.6,928.5C1538.7,929.4 1535.9,930.4 1533.0,931.4C1530.2,932.3 1527.4,933.3 1524.5,934.3C1521.7,935.2 1518.8,936.2 1516.0,937.2C1513.1,938.1 1510.3,939.1 1507.4,940.1C1504.6,941.0 1501.8,942.0 1498.9,942.9C1496.1,943.9 1493.2,944.8 1490.4,945.8C1487.5,946.7 1484.6,947.7 1481.8,948.6C1478.9,949.5 1476.1,950.5 1473.2,951.4C1470.4,952.4 1467.5,953.3 1464.7,954.2C1461.8,955.2 1459.0,956.1 1456.1,957.0C1453.2,958.0 1450.4,958.9 1447.6,959.9C1444.7,960.9 1441.9,961.8 1439.0,962.8C1436.2,963.8 1433.3,964.8 1430.5,965.8C1427.7,966.8 1424.9,967.8 1422.0,968.9C1419.2,969.9 1416.4,971.0 1413.6,972.0C1410.8,973.1 1408.0,974.2 1405.2,975.3C1402.4,976.4 1399.6,977.5 1396.9,978.7C1394.1,979.8 1391.3,980.9 1388.5,982.1C1385.8,983.3 1383.0,984.4 1380.2,985.6C1377.5,986.8 1374.7,988.0 1371.9,989.1C1369.2,990.3 1366.4,991.5 1363.6,992.6C1360.9,993.8 1358.1,995.0 1355.3,996.1C1352.6,997.3 1349.8,998.4 1347.0,999.6C1344.2,1000.7 1341.5,1001.9 1338.7,1003.0C1335.9,1004.2 1333.2,1005.4 1330.4,1006.6C1327.7,1007.8 1325.0,1009.0 1322.2,1010.3C1319.5,1011.5 1316.8,1012.8 1314.1,1014.2C1311.4,1015.5 1308.8,1016.8 1306.1,1018.2C1303.4,1019.6 1300.8,1021.0 1298.1,1022.4C1295.5,1023.8 1292.8,1025.2 1290.2,1026.6C1287.5,1028.1 1284.9,1029.5 1282.3,1031.0C1279.6,1032.4 1277.0,1033.8 1274.4,1035.3C1271.7,1036.7 1269.1,1038.2 1266.5,1039.6C1263.8,1041.1 1261.2,1042.5 1258.6,1044.0C1256.0,1045.4 1253.3,1046.9 1250.7,1048.4C1248.1,1049.8 1245.5,1051.3 1242.8,1052.8C1240.2,1054.2 1237.6,1055.7 1235.0,1057.2C1232.4,1058.7 1229.8,1060.2 1227.2,1061.7C1224.6,1063.2 1222.0,1064.7 1219.4,1066.2C1216.8,1067.7 1214.2,1069.2 1211.6,1070.8C1209.0,1072.3 1206.5,1073.9 1203.9,1075.5C1201.4,1077.0 1198.8,1078.6 1196.3,1080.3C1193.8,1081.9 1191.3,1083.5 1188.8,1085.2C1186.3,1086.9 1183.8,1088.6 1181.4,1090.3C1178.9,1092.0 1176.5,1093.8 1174.0,1095.5C1171.6,1097.3 1169.2,1099.0 1166.7,1100.8C1164.3,1102.6 1161.9,1104.3 1159.5,1106.1C1157.0,1107.9 1154.6,1109.6 1152.2,1111.4C1149.7,1113.1 1147.3,1114.9 1144.8,1116.6C1142.4,1118.3 1139.9,1120.1 1137.5,1121.8C1135.0,1123.5 1132.5,1125.2 1130.1,1126.9C1127.6,1128.6 1125.1,1130.3 1122.6,1132.0C1120.1,1133.7 1117.6,1135.3 1115.1,1137.0C1112.6,1138.6 1110.1,1140.3 1107.5,1141.9C1105.0,1143.5 1102.5,1145.1 1099.9,1146.7C1097.4,1148.3 1094.8,1149.8 1092.3,1151.4C1089.7,1153.0 1087.1,1154.5 1084.6,1156.1C1082.0,1157.7 1079.5,1159.2 1076.9,1160.8C1074.4,1162.4 1071.8,1164.0 1069.3,1165.6C1066.7,1167.2 1064.2,1168.8 1061.7,1170.4C1059.1,1172.0 1056.6,1173.7 1054.1,1175.3C1051.6,1176.9 1049.0,1178.6 1046.5,1180.2C1044.0,1181.9 1041.5,1183.5 1039.0,1185.2C1036.5,1186.8 1034.0,1188.5 1031.5,1190.2C1029.0,1191.9 1026.5,1193.6 1024.1,1195.2C1021.6,1196.9 1019.1,1198.6 1016.6,1200.3C1014.1,1202.0 1011.6,1203.7 1009.1,1205.4C1006.7,1207.1 1004.2,1208.7 1001.7,1210.4C999.2,1212.1 996.7,1213.8 994.2,1215.5C991.7,1217.2 989.2,1218.8 986.7,1220.5C984.3,1222.2 981.8,1223.9 979.3,1225.5C976.8,1227.2 974.3,1228.9 971.8,1230.5C969.3,1232.2 966.8,1233.9 964.3,1235.5C961.7,1237.2 959.2,1238.8 956.7,1240.4C954.2,1242.0 951.6,1243.7 949.1,1245.3C946.5,1246.8 944.0,1248.4 941.4,1250.0C938.9,1251.5 936.3,1253.0 933.7,1254.5C931.1,1256.0 928.5,1257.5 925.8,1259.0C923.2,1260.4 920.6,1261.8 917.9,1263.2C915.2,1264.6 912.6,1265.9 909.9,1267.2C907.2,1268.5 904.5,1269.8 901.7,1271.1C899.0,1272.4 896.3,1273.6 893.5,1274.8C890.8,1276.0 888.0,1277.2 885.3,1278.4C882.5,1279.5 879.7,1280.7 876.9,1281.8C874.2,1282.9 871.4,1284.1 868.6,1285.1C865.8,1286.2 863.0,1287.2 860.1,1288.2C857.3,1289.1 854.5,1290.0 851.6,1290.9C848.7,1291.8 845.9,1292.5 843.0,1293.3C840.1,1294.0 837.2,1294.6 834.2,1295.2C831.3,1295.8 828.4,1296.3 825.4,1296.8C822.5,1297.3 819.5,1297.7 816.5,1298.0C813.6,1298.4 810.6,1298.7 807.6,1299.0C804.6,1299.3 801.6,1299.5 798.6,1299.7C795.6,1299.9 792.6,1300.1 789.7,1300.2C786.7,1300.3 783.7,1300.5 780.7,1300.5C777.7,1300.6 774.7,1300.7 771.7,1300.7C768.7,1300.7 765.7,1300.6 762.7,1300.6C759.7,1300.5 756.7,1300.4 753.7,1300.2C750.7,1300.1 747.7,1299.9 744.7,1299.6C741.7,1299.4 738.7,1299.1 735.8,1298.8C732.8,1298.5 729.8,1298.1 726.8,1297.7C723.9,1297.3 720.9,1296.9 717.9,1296.4C715.0,1296.0 712.0,1295.5 709.0,1295.0C706.1,1294.5 703.1,1293.9 700.2,1293.4C697.2,1292.8 694.3,1292.2 691.3,1291.6C688.4,1291.1 685.5,1290.4 682.5,1289.9C679.6,1289.3 676.6,1288.7 673.7,1288.1C670.7,1287.5 667.8,1286.9 664.8,1286.4C661.9,1285.8 658.9,1285.3 656.0,1284.8C653.0,1284.3 650.0,1283.8 647.1,1283.4C644.1,1282.9 641.1,1282.5 638.2,1282.1C635.2,1281.6 632.2,1281.2 629.3,1280.8C626.3,1280.4 623.3,1280.0 620.3,1279.6C617.4,1279.3 614.4,1278.9 611.4,1278.5C608.4,1278.1 605.5,1277.7 602.5,1277.4C599.5,1277.0 596.5,1276.7 593.5,1276.4C590.6,1276.1 587.6,1275.8 584.6,1275.6C581.6,1275.3 578.6,1275.1 575.6,1274.9C572.6,1274.7 569.6,1274.6 566.6,1274.5C563.6,1274.3 560.6,1274.2 557.6,1274.2C554.6,1274.1 551.6,1274.0 548.6,1273.9C545.6,1273.9 542.6,1273.8 539.6,1273.8C536.6,1273.7 533.6,1273.7 530.6,1273.7C527.6,1273.6 524.6,1273.6 521.6,1273.6C518.6,1273.6 515.6,1273.6 512.6,1273.6C509.6,1273.5 506.6,1273.5 503.6,1273.5C500.6,1273.5 497.6,1273.5 494.6,1273.4C491.6,1273.4 488.6,1273.3 485.6,1273.3C482.5,1273.2 479.5,1273.2 476.5,1273.1C473.5,1273.1 470.5,1273.0 467.5,1272.9C464.5,1272.9 461.5,1272.8 458.5,1272.7C455.5,1272.6 452.5,1272.5 449.5,1272.5C446.5,1272.4 443.0,1272.3 440.5,1272.2C438.0,1272.1 435.5,1272.0 434.5,1272.0" stroke-width="3.8" stroke-opacity="1.0"/><path d="M435.4,1190.0C435.5,1188.5 435.6,1184.0 435.7,1181.0C435.8,1178.0 435.9,1175.0 436.0,1172.0C436.2,1169.0 436.3,1166.0 436.4,1163.0C436.5,1159.9 436.6,1156.9 436.7,1153.9C436.8,1150.9 437.0,1147.9 437.1,1144.9C437.2,1141.9 437.4,1138.9 437.5,1135.9C437.7,1132.9 437.8,1129.9 437.9,1126.9C438.1,1123.9 438.2,1120.9 438.4,1117.9C438.5,1114.9 438.7,1111.9 438.8,1108.9C439.0,1105.9 439.1,1102.9 439.3,1099.9C439.5,1096.9 439.7,1093.9 439.8,1090.9C440.0,1087.9 440.2,1084.9 440.4,1081.9C440.6,1078.9 440.9,1075.9 441.1,1072.9C441.3,1069.9 441.6,1066.9 441.8,1063.9C442.0,1060.9 442.3,1057.9 442.6,1054.9C442.8,1051.9 443.1,1048.9 443.4,1045.9C443.6,1042.9 443.9,1039.9 444.2,1036.9C444.4,1033.9 444.7,1030.9 445.0,1027.9C445.3,1025.0 445.5,1022.0 445.8,1019.0C446.1,1016.0 446.4,1013.0 446.7,1010.0C447.0,1007.0 447.3,1004.0 447.6,1001.0C447.9,998.0 448.2,995.0 448.6,992.0C448.9,989.1 449.2,986.1 449.6,983.1C449.9,980.1 450.3,977.1 450.7,974.1C451.1,971.1 451.5,968.2 451.9,965.2C452.3,962.2 452.7,959.2 453.2,956.3C453.6,953.3 454.1,950.3 454.6,947.4C455.1,944.4 455.6,941.4 456.1,938.5C456.6,935.5 457.2,932.6 457.7,929.6C458.2,926.6 458.8,923.7 459.4,920.7C459.9,917.8 460.5,914.8 461.0,911.9C461.6,908.9 462.1,906.0 462.7,903.0C463.2,900.1 463.8,897.1 464.3,894.1C464.8,891.2 465.3,888.2 465.8,885.3C466.4,882.3 466.9,879.3 467.4,876.4C467.9,873.4 468.4,870.5 469.0,867.5C469.5,864.6 470.1,861.6 470.7,858.7C471.3,855.7 471.9,852.8 472.5,849.8C473.1,846.9 473.8,844.0 474.4,841.0C475.1,838.1 475.8,835.2 476.5,832.2C477.2,829.3 477.9,826.4 478.6,823.5C479.4,820.6 480.1,817.7 480.9,814.8C481.6,811.8 482.4,808.9 483.2,806.0C484.0,803.1 484.8,800.2 485.6,797.4C486.5,794.5 487.3,791.6 488.2,788.7C489.0,785.8 489.9,783.0 490.8,780.1C491.8,777.2 492.7,774.4 493.7,771.5C494.6,768.7 495.6,765.8 496.6,763.0C497.6,760.2 498.7,757.4 499.7,754.6C500.8,751.8 501.9,749.0 503.0,746.2C504.2,743.4 505.3,740.6 506.6,737.9C507.8,735.1 509.0,732.4 510.3,729.7C511.5,727.0 512.9,724.3 514.2,721.6C515.6,718.9 516.9,716.3 518.4,713.6C519.8,711.0 521.3,708.4 522.8,705.8C524.3,703.2 525.8,700.6 527.4,698.1C529.0,695.6 530.7,693.0 532.3,690.5C534.0,688.1 535.7,685.6 537.4,683.2C539.2,680.7 541.0,678.3 542.8,675.9C544.6,673.5 546.4,671.1 548.3,668.8C550.2,666.4 552.0,664.1 554.0,661.8C555.9,659.5 557.8,657.2 559.8,654.9C561.8,652.7 563.8,650.5 565.8,648.3C567.9,646.1 570.0,643.9 572.1,641.8C574.2,639.7 576.4,637.6 578.6,635.6C580.8,633.6 583.0,631.6 585.3,629.7C587.6,627.7 589.9,625.8 592.2,624.0C594.6,622.1 597.0,620.3 599.4,618.5C601.8,616.8 604.2,615.0 606.7,613.3C609.2,611.6 611.6,609.9 614.1,608.2C616.6,606.6 619.2,604.9 621.7,603.4C624.2,601.8 626.8,600.2 629.4,598.7C631.9,597.1 634.5,595.6 637.2,594.2C639.8,592.8 642.4,591.4 645.1,590.1C647.8,588.8 650.5,587.6 653.3,586.4C656.0,585.3 658.8,584.2 661.6,583.2C664.4,582.1 667.2,581.2 670.1,580.3C672.9,579.4 675.8,578.5 678.7,577.7C681.6,576.9 684.5,576.1 687.4,575.4C690.3,574.7 693.2,574.0 696.1,573.3C699.1,572.6 702.0,571.9 704.9,571.3C707.9,570.6 710.8,570.0 713.7,569.4C716.7,568.8 719.6,568.2 722.6,567.7C725.5,567.1 728.5,566.6 731.4,566.2C734.4,565.7 737.4,565.2 740.3,564.8C743.3,564.5 746.3,564.1 749.3,563.8C752.3,563.4 755.2,563.2 758.2,562.9C761.2,562.6 764.2,562.4 767.2,562.1C770.2,561.9 773.2,561.6 776.2,561.3C779.2,561.1 782.2,560.8 785.2,560.5C788.1,560.2 791.1,559.9 794.1,559.6C797.1,559.2 800.1,558.9 803.1,558.5C806.1,558.1 809.0,557.8 812.0,557.4C815.0,557.0 818.0,556.6 821.0,556.2C823.9,555.8 826.9,555.4 829.9,555.0C832.9,554.6 835.9,554.2 838.8,553.8C841.8,553.4 844.8,553.0 847.8,552.6C850.8,552.2 853.7,551.8 856.7,551.4C859.7,551.0 862.7,550.5 865.6,550.1C868.6,549.6 871.6,549.2 874.5,548.7C877.5,548.2 880.5,547.7 883.4,547.2C886.4,546.6 889.3,546.1 892.3,545.5C895.2,545.0 898.2,544.4 901.1,543.8C904.1,543.1 907.0,542.5 909.9,541.9C912.9,541.2 915.8,540.5 918.7,539.8C921.7,539.1 924.6,538.4 927.5,537.7C930.4,536.9 933.3,536.2 936.2,535.4C939.1,534.6 942.0,533.9 944.9,533.1C947.8,532.3 950.7,531.5 953.6,530.6C956.5,529.8 959.4,529.0 962.3,528.1C965.2,527.3 968.0,526.4 970.9,525.6C973.8,524.7 976.7,523.8 979.5,522.9C982.4,522.0 985.3,521.1 988.1,520.2C991.0,519.2 993.8,518.3 996.7,517.3C999.5,516.3 1002.3,515.3 1005.2,514.3C1008.0,513.3 1010.8,512.2 1013.6,511.2C1016.4,510.1 1019.2,509.0 1022.0,508.0C1024.8,506.9 1027.6,505.8 1030.4,504.7C1033.2,503.6 1036.0,502.5 1038.8,501.4C1041.6,500.3 1044.4,499.2 1047.2,498.1C1050.0,497.0 1052.8,495.9 1055.6,494.8C1058.4,493.6 1061.2,492.5 1064.0,491.4C1066.8,490.3 1069.6,489.2 1072.4,488.0C1075.1,486.9 1077.9,485.8 1080.7,484.6C1083.5,483.5 1086.2,482.3 1089.0,481.1C1091.8,479.9 1094.5,478.7 1097.2,477.5C1100.0,476.3 1102.7,475.0 1105.4,473.7C1108.2,472.5 1110.9,471.2 1113.6,469.9C1116.3,468.5 1118.9,467.2 1121.6,465.8C1124.3,464.5 1126.9,463.1 1129.6,461.7C1132.3,460.3 1134.9,458.9 1137.6,457.6C1140.3,456.2 1142.9,454.8 1145.6,453.4C1148.3,452.1 1151.0,450.7 1153.7,449.4C1156.3,448.0 1159.0,446.7 1161.7,445.4C1164.4,444.1 1167.2,442.8 1169.9,441.5C1172.6,440.2 1175.3,438.9 1178.0,437.6C1180.7,436.3 1183.5,435.1 1186.2,433.8C1188.9,432.6 1191.7,431.4 1194.4,430.1C1197.2,428.9 1199.9,427.7 1202.7,426.6C1205.5,425.4 1208.2,424.2 1211.0,423.1C1213.8,422.0 1216.6,420.8 1219.4,419.7C1222.2,418.6 1225.0,417.5 1227.8,416.5C1230.6,415.4 1233.4,414.3 1236.2,413.3C1239.0,412.2 1241.9,411.2 1244.7,410.2C1247.5,409.2 1250.4,408.2 1253.2,407.3C1256.1,406.3 1258.9,405.4 1261.8,404.5C1264.6,403.6 1267.5,402.7 1270.4,401.8C1273.3,400.9 1276.1,400.1 1279.0,399.3C1281.9,398.4 1284.8,397.6 1287.7,396.8C1290.6,395.9 1293.5,395.1 1296.4,394.3C1299.3,393.5 1302.2,392.7 1305.1,391.9C1308.0,391.1 1310.9,390.2 1313.7,389.4C1316.6,388.6 1319.5,387.8 1322.4,387.0C1325.3,386.3 1328.2,385.5 1331.1,384.7C1334.0,383.9 1337.0,383.1 1339.9,382.4C1342.8,381.6 1345.7,380.8 1348.6,380.0C1351.5,379.2 1354.4,378.5 1357.3,377.7C1360.2,376.9 1363.0,376.1 1365.9,375.2C1368.8,374.4 1371.7,373.6 1374.6,372.7C1377.5,371.9 1380.4,371.1 1383.3,370.2C1386.1,369.4 1389.0,368.6 1391.9,367.7C1394.8,366.9 1397.7,366.1 1400.6,365.3C1403.5,364.5 1406.4,363.7 1409.3,362.9C1412.2,362.1 1415.1,361.3 1418.0,360.5C1420.9,359.7 1423.8,358.9 1426.7,358.1C1429.6,357.3 1432.5,356.5 1435.4,355.6C1438.3,354.8 1441.2,354.0 1444.0,353.2C1446.9,352.4 1449.8,351.5 1452.7,350.7C1455.6,349.8 1458.5,349.0 1461.4,348.1C1464.2,347.2 1467.1,346.4 1470.0,345.5C1472.9,344.6 1475.7,343.7 1478.6,342.9C1481.5,342.0 1484.4,341.1 1487.3,340.3C1490.1,339.4 1493.0,338.5 1495.9,337.7C1498.8,336.8 1501.7,336.0 1504.6,335.2C1507.5,334.3 1510.3,333.5 1513.2,332.7C1516.1,331.9 1519.0,331.1 1521.9,330.3C1524.8,329.5 1527.7,328.7 1530.6,327.9C1533.5,327.1 1536.4,326.3 1539.3,325.5C1542.2,324.7 1545.1,323.9 1548.0,323.1C1550.9,322.2 1553.8,321.4 1556.6,320.6C1559.5,319.7 1562.4,318.8 1565.3,318.0C1568.2,317.2 1571.0,316.3 1573.9,315.5C1576.8,314.7 1579.7,313.9 1582.6,313.1C1585.5,312.4 1588.4,311.7 1591.3,311.0C1594.3,310.3 1597.2,309.7 1600.1,309.1C1603.1,308.5 1606.0,308.0 1609.0,307.5C1611.9,307.1 1614.9,306.6 1617.9,306.2C1620.9,305.8 1623.8,305.5 1626.8,305.1C1629.8,304.8 1632.8,304.5 1635.8,304.3C1638.8,304.0 1641.8,303.7 1644.8,303.5C1647.8,303.3 1650.8,303.1 1653.8,302.8C1656.8,302.6 1659.8,302.4 1662.8,302.2C1665.8,302.0 1668.8,301.8 1671.8,301.6C1674.8,301.4 1677.8,301.2 1680.8,301.0C1683.8,300.8 1686.8,300.6 1689.8,300.4C1692.8,300.3 1695.8,300.1 1698.8,299.9C1701.8,299.8 1704.8,299.7 1707.8,299.5C1710.8,299.4 1713.8,299.3 1716.8,299.2C1719.8,299.1 1722.8,299.0 1725.8,299.0C1728.8,298.9 1731.8,298.8 1734.8,298.8C1737.8,298.7 1740.8,298.7 1743.8,298.6C1746.8,298.6 1749.8,298.5 1752.9,298.5C1755.9,298.4 1758.9,298.4 1761.9,298.3C1764.9,298.3 1767.9,298.2 1770.9,298.1C1773.9,298.1 1776.9,298.0 1779.9,297.9C1782.9,297.9 1785.9,297.8 1788.9,297.7C1791.9,297.6 1794.9,297.5 1797.9,297.4C1800.9,297.3 1804.0,297.2 1807.0,297.1C1810.0,297.0 1813.0,296.8 1816.0,296.7C1819.0,296.6 1822.0,296.4 1825.0,296.3C1828.0,296.1 1831.0,296.0 1834.0,295.8C1837.0,295.7 1840.0,295.5 1843.0,295.4C1846.0,295.2 1849.0,295.0 1852.0,294.9C1855.0,294.7 1858.0,294.5 1861.0,294.4C1864.0,294.2 1867.0,294.0 1870.0,293.9C1873.0,293.7 1876.0,293.6 1879.0,293.4C1882.0,293.2 1885.0,293.1 1888.0,292.9C1891.0,292.7 1894.0,292.6 1897.0,292.4C1900.0,292.3 1903.0,292.1 1906.1,291.9C1909.1,291.8 1912.1,291.6 1915.1,291.4C1918.1,291.3 1921.1,291.1 1924.1,291.0C1927.1,290.8 1930.1,290.6 1933.1,290.4C1936.1,290.2 1939.1,290.0 1942.1,289.8C1945.1,289.6 1948.1,289.4 1951.1,289.2C1954.0,288.9 1957.0,288.6 1960.0,288.3C1963.0,288.0 1966.0,287.7 1969.0,287.4C1972.0,287.0 1975.0,286.7 1977.9,286.3C1980.9,285.9 1983.9,285.5 1986.9,285.0C1989.8,284.6 1992.8,284.2 1995.8,283.7C1998.8,283.3 2001.7,282.8 2004.7,282.3C2007.7,281.8 2010.6,281.3 2013.6,280.8C2016.6,280.4 2019.5,279.8 2022.5,279.3C2025.4,278.8 2028.4,278.3 2031.4,277.8C2034.3,277.2 2037.3,276.7 2040.2,276.1C2043.2,275.6 2046.1,275.0 2049.1,274.4C2052.0,273.8 2055.0,273.2 2057.9,272.6C2060.9,272.0 2063.8,271.4 2066.8,270.8C2069.7,270.2 2072.6,269.6 2075.6,268.9C2078.5,268.3 2082.9,265.8 2084.4,267.0C2085.9,268.2 2084.5,273.0 2084.6,276.0C2084.7,279.0 2084.7,282.0 2084.8,285.0C2084.8,288.0 2084.8,291.0 2084.9,294.0C2084.9,297.0 2084.9,300.0 2084.9,303.0C2084.9,306.0 2084.9,309.1 2084.8,312.1C2084.8,315.1 2084.7,318.1 2084.7,321.1C2084.6,324.1 2084.5,327.1 2084.4,330.1C2084.4,333.1 2084.3,336.1 2084.1,339.1C2084.0,342.1 2083.9,345.1 2083.8,348.1C2083.7,351.1 2083.5,354.1 2083.4,357.1C2083.2,360.1 2083.1,363.1 2082.9,366.1C2082.7,369.1 2082.6,372.1 2082.4,375.1C2082.2,378.1 2081.9,381.1 2081.7,384.1C2081.5,387.1 2081.2,390.1 2080.9,393.1C2080.7,396.0 2080.4,399.0 2080.0,402.0C2079.7,405.0 2079.4,408.0 2079.0,411.0C2078.7,413.9 2078.3,416.9 2077.9,419.9C2077.5,422.9 2077.1,425.9 2076.6,428.8C2076.2,431.8 2075.8,434.8 2075.3,437.7C2074.8,440.7 2074.4,443.7 2073.9,446.6C2073.4,449.6 2072.9,452.6 2072.4,455.5C2071.9,458.5 2071.4,461.4 2070.8,464.4C2070.3,467.4 2069.7,470.3 2069.1,473.3C2068.6,476.2 2068.0,479.1 2067.4,482.1C2066.8,485.0 2066.2,488.0 2065.6,490.9C2065.0,493.9 2064.3,496.8 2063.7,499.7C2063.1,502.7 2062.5,505.6 2061.8,508.5C2061.2,511.5 2060.5,514.4 2059.8,517.3C2059.2,520.3 2058.5,523.2 2057.8,526.1C2057.1,529.0 2056.4,532.0 2055.7,534.9C2055.0,537.8 2054.2,540.7 2053.5,543.6C2052.8,546.5 2052.0,549.4 2051.2,552.3C2050.5,555.2 2049.7,558.2 2048.9,561.0C2048.1,563.9 2047.3,566.8 2046.5,569.7C2045.7,572.6 2044.9,575.5 2044.0,578.4C2043.2,581.3 2042.3,584.2 2041.4,587.0C2040.6,589.9 2039.7,592.8 2038.8,595.6C2037.9,598.5 2036.9,601.4 2036.0,604.2C2035.0,607.1 2034.1,609.9 2033.1,612.7C2032.1,615.6 2031.1,618.4 2030.1,621.2C2029.1,624.1 2028.1,626.9 2027.1,629.7C2026.1,632.5 2025.0,635.4 2024.0,638.2C2023.0,641.0 2021.9,643.8 2020.9,646.6C2019.8,649.4 2018.8,652.3 2017.7,655.1C2016.6,657.9 2015.5,660.7 2014.4,663.4C2013.3,666.2 2012.2,669.0 2011.0,671.8C2009.8,674.5 2008.6,677.3 2007.4,680.0C2006.2,682.8 2004.9,685.5 2003.6,688.2C2002.3,690.9 2001.0,693.6 1999.6,696.2C1998.2,698.8 1996.8,701.5 1995.3,704.1C1993.8,706.6 1992.3,709.2 1990.6,711.7C1989.0,714.2 1987.4,716.7 1985.6,719.1C1983.9,721.5 1982.1,723.8 1980.2,726.1C1978.3,728.4 1976.3,730.7 1974.3,732.9C1972.3,735.1 1970.3,737.2 1968.2,739.3C1966.1,741.5 1963.9,743.5 1961.8,745.6C1959.6,747.7 1957.4,749.7 1955.2,751.8C1953.0,753.9 1950.9,755.9 1948.7,757.9C1946.5,760.0 1944.3,762.0 1942.1,764.1C1939.9,766.1 1937.7,768.1 1935.4,770.1C1933.2,772.2 1931.0,774.1 1928.7,776.1C1926.4,778.0 1924.2,780.0 1921.8,781.8C1919.5,783.7 1917.1,785.5 1914.7,787.3C1912.3,789.1 1909.9,790.9 1907.4,792.6C1905.0,794.3 1902.5,795.9 1900.0,797.5C1897.5,799.2 1894.9,800.7 1892.4,802.3C1889.8,803.9 1887.2,805.4 1884.7,806.9C1882.1,808.5 1879.5,810.0 1876.9,811.5C1874.3,813.0 1871.7,814.4 1869.1,815.9C1866.4,817.3 1863.8,818.8 1861.2,820.2C1858.5,821.6 1855.9,823.0 1853.2,824.3C1850.5,825.7 1847.8,827.0 1845.1,828.3C1842.4,829.6 1839.7,830.9 1837.0,832.2C1834.3,833.4 1831.5,834.6 1828.8,835.8C1826.0,837.0 1823.3,838.2 1820.5,839.3C1817.7,840.5 1815.0,841.6 1812.2,842.7C1809.4,843.8 1806.6,844.8 1803.8,845.9C1801.0,846.9 1798.2,848.0 1795.3,849.0C1792.5,850.1 1789.7,851.1 1786.9,852.2C1784.1,853.2 1781.3,854.3 1778.5,855.3C1775.7,856.4 1772.9,857.4 1770.1,858.5C1767.3,859.5 1764.5,860.6 1761.7,861.6C1758.8,862.6 1756.0,863.6 1753.2,864.5C1750.3,865.5 1747.5,866.5 1744.6,867.4C1741.8,868.3 1738.9,869.3 1736.1,870.2C1733.2,871.1 1730.4,872.0 1727.5,872.9C1724.6,873.8 1721.8,874.7 1718.9,875.6C1716.0,876.5 1713.1,877.3 1710.3,878.2C1707.4,879.1 1704.5,879.9 1701.6,880.8C1698.8,881.7 1695.9,882.5 1693.0,883.3C1690.1,884.2 1687.2,885.0 1684.3,885.8C1681.4,886.7 1678.6,887.5 1675.7,888.3C1672.8,889.2 1669.9,890.0 1667.0,890.8C1664.1,891.7 1661.2,892.5 1658.4,893.4C1655.5,894.2 1652.6,895.1 1649.7,895.9C1646.8,896.8 1644.0,897.6 1641.1,898.5C1638.2,899.3 1635.3,900.2 1632.4,901.0C1629.6,901.9 1626.7,902.8 1623.8,903.6C1620.9,904.5 1618.0,905.3 1615.2,906.2C1612.3,907.0 1609.4,907.9 1606.5,908.7C1603.6,909.6 1600.7,910.4 1597.9,911.3C1595.0,912.1 1592.1,912.9 1589.2,913.8C1586.3,914.6 1583.4,915.5 1580.5,916.3C1577.7,917.1 1574.8,918.0 1571.9,918.9C1569.0,919.7 1566.2,920.6 1563.3,921.5C1560.4,922.4 1557.5,923.3 1554.7,924.2C1551.8,925.1 1549.0,926.0 1546.1,927.0C1543.3,927.9 1540.4,928.9 1537.6,929.8C1534.7,930.8 1531.9,931.7 1529.0,932.7C1526.2,933.7 1523.4,934.7 1520.5,935.6C1517.7,936.6 1514.8,937.6 1512.0,938.5C1509.1,939.5 1506.3,940.5 1503.4,941.4C1500.6,942.4 1497.7,943.3 1494.9,944.3C1492.0,945.2 1489.2,946.2 1486.3,947.1C1483.5,948.1 1480.6,949.0 1477.8,949.9C1474.9,950.9 1472.1,951.8 1469.2,952.7C1466.3,953.7 1463.5,954.6 1460.6,955.5C1457.8,956.5 1454.9,957.4 1452.1,958.4C1449.2,959.3 1446.4,960.3 1443.5,961.3C1440.7,962.2 1437.9,963.2 1435.0,964.2C1432.2,965.2 1429.4,966.2 1426.5,967.2C1423.7,968.2 1420.9,969.3 1418.1,970.3C1415.3,971.4 1412.5,972.5 1409.7,973.5C1406.9,974.6 1404.1,975.7 1401.3,976.9C1398.5,978.0 1395.7,979.1 1392.9,980.3C1390.2,981.4 1387.4,982.6 1384.6,983.7C1381.9,984.9 1379.1,986.1 1376.3,987.3C1373.6,988.4 1370.8,989.6 1368.0,990.8C1365.3,992.0 1362.5,993.1 1359.7,994.3C1357.0,995.4 1354.2,996.6 1351.4,997.7C1348.6,998.9 1345.9,1000.0 1343.1,1001.2C1340.3,1002.3 1337.6,1003.5 1334.8,1004.7C1332.0,1005.9 1329.3,1007.1 1326.6,1008.3C1323.8,1009.5 1321.1,1010.8 1318.4,1012.1C1315.7,1013.4 1313.0,1014.7 1310.3,1016.0C1307.7,1017.4 1305.0,1018.8 1302.3,1020.2C1299.7,1021.6 1297.0,1023.0 1294.4,1024.4C1291.8,1025.8 1289.1,1027.3 1286.5,1028.7C1283.9,1030.2 1281.2,1031.7 1278.6,1033.2C1276.0,1034.6 1273.4,1036.1 1270.8,1037.7C1268.2,1039.2 1265.7,1040.7 1263.1,1042.3C1260.5,1043.8 1258.0,1045.4 1255.5,1047.0C1252.9,1048.7 1250.4,1050.3 1247.9,1052.0C1245.5,1053.7 1243.0,1055.4 1240.5,1057.1C1238.1,1058.8 1235.7,1060.6 1233.2,1062.4C1230.8,1064.1 1228.4,1066.0 1226.0,1067.8C1223.7,1069.6 1221.3,1071.4 1218.9,1073.3C1216.6,1075.1 1214.2,1077.0 1211.8,1078.9C1209.5,1080.7 1207.1,1082.6 1204.8,1084.5C1202.4,1086.4 1200.1,1088.2 1197.8,1090.1C1195.4,1092.0 1193.1,1093.9 1190.8,1095.8C1188.4,1097.7 1186.1,1099.6 1183.8,1101.5C1181.5,1103.4 1179.2,1105.3 1176.9,1107.3C1174.5,1109.2 1172.2,1111.1 1169.9,1113.0C1167.6,1114.9 1165.3,1116.8 1163.0,1118.8C1160.7,1120.7 1158.3,1122.6 1156.0,1124.4C1153.6,1126.3 1151.3,1128.2 1148.9,1130.0C1146.6,1131.9 1144.2,1133.7 1141.8,1135.6C1139.4,1137.4 1137.0,1139.2 1134.6,1141.0C1132.2,1142.8 1129.8,1144.6 1127.4,1146.3C1124.9,1148.1 1122.5,1149.9 1120.1,1151.6C1117.6,1153.4 1115.2,1155.1 1112.7,1156.8C1110.3,1158.6 1107.8,1160.3 1105.4,1162.0C1102.9,1163.8 1100.4,1165.5 1098.0,1167.2C1095.5,1169.0 1093.1,1170.7 1090.6,1172.4C1088.2,1174.1 1085.7,1175.9 1083.2,1177.6C1080.8,1179.3 1078.3,1181.1 1075.9,1182.8C1073.5,1184.6 1071.0,1186.3 1068.6,1188.1C1066.1,1189.8 1063.7,1191.6 1061.3,1193.4C1058.9,1195.2 1056.5,1197.0 1054.1,1198.8C1051.7,1200.6 1049.3,1202.4 1046.9,1204.2C1044.5,1206.0 1042.1,1207.8 1039.7,1209.7C1037.3,1211.5 1035.0,1213.3 1032.6,1215.2C1030.2,1217.0 1027.8,1218.8 1025.5,1220.7C1023.1,1222.5 1020.7,1224.4 1018.3,1226.2C1016.0,1228.1 1013.6,1229.9 1011.3,1231.8C1008.9,1233.7 1006.6,1235.6 1004.2,1237.4C1001.9,1239.3 999.6,1241.2 997.3,1243.1C994.9,1245.0 992.6,1247.0 990.3,1248.9C988.0,1250.8 985.7,1252.7 983.4,1254.6C981.0,1256.5 978.7,1258.5 976.4,1260.4C974.1,1262.3 971.8,1264.2 969.4,1266.1C967.1,1268.0 964.8,1269.9 962.4,1271.7C960.1,1273.6 957.7,1275.4 955.3,1277.2C952.9,1279.1 950.5,1280.9 948.1,1282.6C945.7,1284.4 943.3,1286.2 940.8,1287.9C938.4,1289.7 935.9,1291.4 933.5,1293.1C931.0,1294.8 928.5,1296.6 926.1,1298.3C923.6,1300.0 921.2,1301.7 918.7,1303.4C916.2,1305.2 913.8,1306.9 911.3,1308.6C908.9,1310.4 906.4,1312.1 904.0,1313.9C901.5,1315.6 899.1,1317.4 896.7,1319.1C894.2,1320.8 891.8,1322.6 889.3,1324.3C886.9,1326.1 884.4,1327.8 881.9,1329.5C879.5,1331.2 877.0,1332.9 874.5,1334.6C872.0,1336.3 869.5,1337.9 867.0,1339.6C864.5,1341.2 862.0,1342.8 859.4,1344.3C856.8,1345.8 854.2,1347.3 851.6,1348.8C849.0,1350.2 846.4,1351.6 843.7,1352.9C841.0,1354.2 838.3,1355.5 835.6,1356.7C832.8,1357.9 830.1,1359.0 827.3,1360.1C824.5,1361.1 821.7,1362.1 818.9,1363.0C816.0,1363.9 813.2,1364.7 810.3,1365.4C807.4,1366.1 804.5,1366.8 801.6,1367.3C798.7,1367.8 795.7,1368.3 792.8,1368.6C789.9,1368.9 786.9,1369.2 783.9,1369.3C781.0,1369.5 778.0,1369.5 775.0,1369.5C772.0,1369.5 769.0,1369.5 766.0,1369.3C763.1,1369.2 760.1,1369.0 757.1,1368.7C754.1,1368.5 751.1,1368.1 748.2,1367.8C745.2,1367.4 742.2,1367.0 739.3,1366.5C736.3,1366.0 733.4,1365.4 730.5,1364.8C727.5,1364.3 724.6,1363.6 721.7,1362.9C718.8,1362.2 715.9,1361.4 713.0,1360.6C710.1,1359.8 707.2,1359.0 704.4,1358.1C701.5,1357.2 698.7,1356.2 695.8,1355.3C693.0,1354.3 690.2,1353.3 687.3,1352.3C684.5,1351.3 681.7,1350.2 678.9,1349.1C676.1,1348.1 673.3,1347.0 670.5,1345.9C667.7,1344.8 664.9,1343.7 662.1,1342.5C659.3,1341.4 656.6,1340.3 653.8,1339.1C651.0,1337.9 648.3,1336.8 645.5,1335.6C642.7,1334.4 640.0,1333.2 637.2,1332.0C634.5,1330.8 631.8,1329.5 629.0,1328.3C626.3,1327.0 623.6,1325.7 620.9,1324.5C618.2,1323.2 615.4,1321.9 612.7,1320.6C610.0,1319.3 607.3,1318.0 604.6,1316.7C601.9,1315.4 599.2,1314.1 596.5,1312.8C593.8,1311.5 591.1,1310.2 588.3,1308.9C585.6,1307.7 582.9,1306.4 580.1,1305.2C577.4,1304.0 574.7,1302.8 571.9,1301.6C569.2,1300.4 566.4,1299.2 563.6,1298.1C560.9,1296.9 558.1,1295.8 555.3,1294.7C552.5,1293.6 549.7,1292.6 546.9,1291.6C544.0,1290.6 541.2,1289.6 538.4,1288.7C535.5,1287.8 532.7,1286.9 529.8,1286.0C526.9,1285.2 524.0,1284.4 521.1,1283.7C518.1,1282.9 515.2,1282.3 512.3,1281.6C509.3,1281.0 506.4,1280.4 503.4,1279.9C500.4,1279.4 497.4,1278.9 494.5,1278.5C491.5,1278.0 488.5,1277.6 485.5,1277.2C482.5,1276.8 479.5,1276.5 476.5,1276.2C473.5,1275.8 470.5,1275.5 467.5,1275.3C464.5,1275.0 461.5,1274.7 458.5,1274.5C455.5,1274.2 452.5,1274.0 449.5,1273.8C446.5,1273.6 443.0,1273.4 440.5,1273.3C438.0,1273.1 435.5,1273.0 434.5,1273.0" stroke-width="5.5"/></g><path d="M294.5,46.6V1469.0M264.2,46.5H294.5M264.2,283.5H294.5M264.2,521.0H294.5M264.2,757.5H294.5M264.2,991.0H294.5M264.2,1228.0H294.5M264.2,1465.0H294.5M279.5,162.7H294.5M279.5,400.0H294.5M279.5,637.3H294.5M279.5,874.0H294.5M279.5,1111.5H294.5M279.5,1347.0H294.5M294.4,1465.2V1495.2M569.3,1465.2V1495.2M843.8,1465.2V1495.2M1122.1,1465.2V1495.2M1397.1,1465.2V1495.2M1672.1,1465.2V1495.2M1950.7,1465.2V1495.2M2225.4,1465.2V1495.2M429.9,1465.2V1480M708.5,1465.2V1480M983.2,1465.2V1480M1257.6,1465.2V1480M1536.0,1465.2V1480M1811.3,1465.2V1480M2086.0,1465.2V1480" fill="none" stroke="#000" stroke-width="7" stroke-linecap="butt"/><path d="M264.3,1465.2H2228.8" fill="none" stroke="#000" stroke-width="7.6" stroke-linecap="butt"/><g font-family="'Liberation Sans', Arial, sans-serif" font-weight="bold" font-size="52" fill="#000"><text x="245.5" y="60.5" text-anchor="end">3</text><text x="245.5" y="293.8" text-anchor="end">2</text><text x="242.5" y="530.8" text-anchor="end">1</text><text x="245.5" y="767.8" text-anchor="end">0</text><text x="245.5" y="1004.9" text-anchor="end">-1</text><text x="245.5" y="1241.7" text-anchor="end">-2</text><text x="245.5" y="1475.4" text-anchor="end">-3</text><text x="294.4" y="1550.5" text-anchor="middle">-0.1</text><text x="569.3" y="1550.5" text-anchor="middle">0.0</text><text x="843.8" y="1550.5" text-anchor="middle">0.1</text><text x="1122.1" y="1550.5" text-anchor="middle">0.2</text><text x="1397.1" y="1550.5" text-anchor="middle">0.3</text><text x="1672.1" y="1550.5" text-anchor="middle">0.4</text><text x="1950.7" y="1550.5" text-anchor="middle">0.5</text><text x="2225.4" y="1550.5" text-anchor="middle">0.6</text></g><g font-family="'Liberation Sans', Arial, sans-serif" fill="#000"><text transform="translate(933.56,1667.00) scale(0.9870,1)" font-size="67" font-weight="bold">Potential / V vs. MSE</text><text transform="translate(90,1071.5) rotate(-90)" font-size="69.3" font-weight="bold">Current / mA·cm</text><text transform="translate(53.6,525.7) rotate(-90)" font-size="40" font-weight="bold" letter-spacing="3">-2</text><text transform="translate(594.36,1192.50) scale(0.9710,1)" font-size="72">1000</text><text transform="translate(749.90,1156.00)" font-size="42">th</text><text transform="translate(803.36,1192.50) scale(0.9820,1)" font-size="72">cycle</text><text x="947.5" y="1411.5" font-size="72">1</text><text transform="translate(985.80,1374.00)" font-size="42">st</text><text transform="translate(1037.12,1411.50) scale(0.9940,1)" font-size="72">cycle</text></g><g stroke="#000" stroke-width="4" fill="none" stroke-linecap="butt"><path d="M1678,233L1731,383"/><path d="M759,1410L795,1294"/></g><polygon points="1721.3,385.4 1740,379.5 1742.5,421" fill="#000"/><polygon points="784.2,1296 806.5,1296.5 808,1261 801,1259" fill="#000"/></svg>
</body></html>
